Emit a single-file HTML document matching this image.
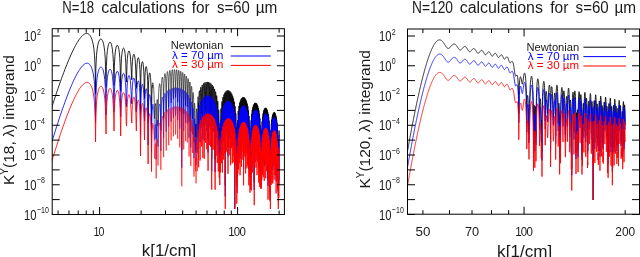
<!DOCTYPE html><html><head><meta charset="utf-8"><style>html,body{margin:0;padding:0;background:#fff;width:640px;height:257px;overflow:hidden}svg{display:block;will-change:transform}text{font-family:"Liberation Sans",sans-serif}</style></head><body><svg width="640" height="257" viewBox="0 0 640 257">
<defs><clipPath id="cl"><rect x="52.20" y="28.70" width="232.20" height="185.80"/></clipPath>
<clipPath id="cr"><rect x="407.50" y="29.00" width="232.00" height="185.20"/></clipPath></defs>
<g clip-path="url(#cl)" fill="none" stroke-width="0.85" stroke-linejoin="round">
<path stroke="#000" stroke-width="0.85" d="M51.68 107.72 L53.00 103.62 L54.29 99.65 L55.55 95.82 L56.79 92.13 L58.00 88.57 L59.19 85.13 L60.35 81.81 L61.49 78.62 L62.61 75.54 L63.72 72.58 L64.80 69.73 L65.86 67.00 L66.90 64.37 L67.93 61.85 L68.93 59.44 L69.93 57.13 L70.90 54.93 L71.86 52.83 L72.81 50.83 L73.74 48.94 L74.65 47.15 L75.55 45.46 L76.44 43.87 L77.32 42.39 L78.18 41.01 L79.03 39.74 L79.87 38.57 L80.70 37.51 L81.51 36.56 L82.32 35.73 L83.11 35.02 L83.90 34.42 L84.67 33.96 L85.43 33.63 L86.19 33.45 L86.93 33.43 L87.67 33.60 L88.40 33.95 L89.11 34.49 L89.82 35.27 L90.53 36.31 L91.22 37.67 L91.90 39.44 L92.58 41.74 L93.25 44.80 L93.91 49.10 L94.57 55.89 L95.22 71.38 L95.55 94.15 L95.86 68.12 L96.49 55.24 L97.12 49.24 L97.74 45.50 L98.36 42.95 L98.97 41.18 L99.57 39.99 L100.17 39.28 L100.76 39.00 L101.34 39.12 L101.92 39.65 L102.50 40.63 L103.06 42.12 L103.63 44.25 L104.18 47.28 L104.74 51.74 L105.28 59.15 L105.83 79.37 L106.05 87.46 L106.37 66.40 L106.90 55.65 L107.43 50.29 L107.95 46.94 L108.47 44.75 L108.98 43.34 L109.49 42.56 L110.00 42.32 L110.50 42.58 L111.00 43.38 L111.49 44.75 L111.98 46.85 L112.47 49.92 L112.95 54.57 L113.43 62.62 L114.06 85.47 L114.37 66.34 L114.84 56.85 L115.30 51.92 L115.76 48.87 L116.22 46.92 L116.67 45.77 L117.12 45.26 L117.56 45.34 L118.01 46.00 L118.45 47.29 L118.88 49.34 L119.31 52.41 L119.74 57.13 L120.17 65.44 L120.69 91.33 L121.02 67.94 L121.43 58.87 L121.85 54.11 L122.26 51.20 L122.67 49.39 L123.08 48.39 L123.48 48.06 L123.88 48.36 L124.28 49.29 L124.67 50.94 L125.07 53.50 L125.46 57.40 L125.85 63.78 L126.23 78.01 L126.56 82.10 L126.62 78.04 L127.00 64.31 L127.37 58.35 L127.75 54.86 L128.12 52.72 L128.49 51.49 L128.86 51.01 L129.23 51.18 L129.59 52.02 L129.96 53.59 L130.32 56.06 L130.67 59.86 L131.03 66.04 L131.77 79.79 L132.09 67.56 L132.43 61.43 L132.78 57.90 L133.12 55.76 L133.46 54.57 L133.80 54.14 L134.14 54.39 L134.48 55.33 L134.81 57.04 L135.14 59.74 L135.47 63.89 L135.80 70.86 L136.36 88.40 L136.45 80.74 L136.78 69.17 L137.10 63.79 L137.42 60.65 L137.74 58.79 L138.05 57.83 L138.37 57.63 L138.68 58.13 L138.99 59.35 L139.30 61.42 L139.61 64.62 L139.92 69.64 L140.22 78.79 L140.53 113.97 L140.83 78.42 L141.13 70.36 L141.43 66.11 L141.72 63.61 L142.02 62.21 L142.31 61.65 L142.61 61.83 L142.90 62.73 L143.19 64.42 L143.48 67.09 L143.77 71.20 L144.05 77.98 L144.34 93.93 L144.54 98.52 L144.62 89.96 L144.90 77.69 L145.18 72.24 L145.46 69.16 L145.74 67.41 L146.02 66.60 L146.29 66.58 L146.57 67.29 L146.84 68.78 L147.11 71.18 L147.38 74.84 L147.65 80.63 L147.92 91.91 L148.13 123.02 L148.19 105.40 L148.45 85.94 L148.72 79.36 L148.98 75.85 L149.24 73.90 L149.51 73.01 L149.77 72.96 L150.02 73.67 L150.28 75.18 L150.54 77.58 L150.79 81.20 L151.05 86.77 L151.30 96.90 L151.54 131.10 L151.56 123.85 L151.81 95.47 L152.06 88.43 L152.31 84.96"/>
<path stroke="#000" stroke-width="0.60" d="M152.06 88.43 L152.31 84.96 L152.55 83.24 L152.80 82.68 L153.05 83.06 L153.29 84.32 L153.54 86.49 L153.78 89.76 L154.02 94.57 L154.26 102.09 L154.50 117.92 L154.74 118.72 L154.98 107.23 L155.22 103.80 L155.46 103.60 L155.69 106.12 L155.93 112.71 L156.16 138.55 L156.39 115.57 L156.62 106.02 L156.85 101.57 L157.08 99.57 L157.31 99.46 L157.54 101.45 L157.77 106.89 L158.00 125.96 L158.22 110.74 L158.45 99.00 L158.67 92.76 L158.89 88.75 L159.12 86.09 L159.34 84.43 L159.56 83.65 L159.78 83.73 L160.00 84.77 L160.22 87.03 L160.43 91.23 L160.65 99.83 L160.87 130.66 L161.08 96.78 L161.30 88.26 L161.51 83.43 L161.72 80.35 L161.94 78.40 L162.15 77.33 L162.36 77.07 L162.57 77.60 L162.78 79.05 L162.99 81.73 L163.19 86.38 L163.40 95.75 L163.61 118.41 L163.81 91.54 L164.02 83.59 L164.22 79.09 L164.43 76.26 L164.63 74.54 L164.83 73.67 L165.03 73.59 L165.23 74.31 L165.43 75.94 L165.63 78.81 L165.83 83.71 L166.03 93.57 L166.23 112.31 L166.42 88.45 L166.62 80.84 L166.82 76.53 L167.01 73.85 L167.20 72.26 L167.40 71.52 L167.59 71.56 L167.78 72.40 L167.98 74.17 L168.17 77.19 L168.36 82.32 L168.55 92.78 L168.74 107.31 L168.93 86.31 L169.11 79.04 L169.30 74.92 L169.49 72.37 L169.67 70.89 L169.86 70.26 L170.05 70.41 L170.23 71.35 L170.41 73.25 L170.60 76.44 L170.78 81.85 L170.96 93.16 L171.15 102.90 L171.33 84.70 L171.51 77.84 L171.69 73.91 L171.87 71.50 L172.05 70.14 L172.23 69.61 L172.40 69.87 L172.58 70.93 L172.76 72.96 L172.94 76.35 L173.11 82.11 L173.29 94.69 L173.46 99.09 L173.64 83.47 L173.81 77.05 L173.98 73.34 L174.16 71.09 L174.33 69.85 L174.50 69.44 L174.67 69.81 L174.84 71.01 L175.01 73.20 L175.18 76.81 L175.35 83.02 L175.52 97.55 L175.69 95.94 L175.86 82.56 L176.03 76.62 L176.19 73.15 L176.36 71.06 L176.53 69.96 L176.69 69.68 L176.86 70.18 L177.02 71.52 L177.19 73.89 L177.35 77.79 L177.52 84.58 L177.68 102.34 L177.84 93.44 L178.00 81.95 L178.17 76.50 L178.33 73.29 L178.49 71.38 L178.65 70.43 L178.81 70.29 L178.97 70.93 L179.13 72.43 L179.29 75.02 L179.44 79.25 L179.60 86.82 L179.76 111.04 L179.92 91.55 L180.07 81.67 L180.23 76.70 L180.39 73.76 L180.54 72.04 L180.70 71.25 L180.85 71.26 L181.01 72.06 L181.16 73.75 L181.31 76.59 L181.47 81.23 L181.62 89.83 L181.77 150.37 L181.92 90.26 L182.07 81.73 L182.23 77.24 L182.38 74.57 L182.53 73.06 L182.68 72.44 L182.83 72.61 L182.98 73.59 L183.12 75.49 L183.27 78.63 L183.42 83.78 L183.57 93.83 L183.72 113.74 L183.86 89.56 L184.01 82.18 L184.16 78.15 L184.30 75.76 L184.45 74.46 L184.59 74.02 L184.74 74.38 L184.88 75.56 L185.03 77.71 L185.17 81.19 L185.32 86.99 L185.46 99.25 L185.60 105.75 L185.74 89.46 L185.89 83.08 L186.03 79.49 L186.17 77.38 L186.31 76.31 L186.45 76.08 L186.59 76.65 L186.73 78.06 L186.87 80.49 L187.01 84.39 L187.15 91.04 L187.29 107.14 L187.43 102.23 L187.57 90.03 L187.70 84.51 L187.84 81.36 L187.98 79.56 L188.12 78.73 L188.25 78.73 L188.39 79.53 L188.53 81.20 L188.66 83.98 L188.80 88.41 L188.93 96.24 L189.07 121.68 L189.20 100.92 L189.34 91.38 L189.47 86.66 L189.60 83.95 L189.74 82.47 L189.87 81.92 L190.00 82.19 L190.13 83.27 L190.27 85.27 L190.40 88.47 L190.53 93.62 L190.66 103.25 L190.79 131.54 L190.92 101.33 L191.05 93.77 L191.18 89.82 L191.31 87.59 L191.44 86.49 L191.57 86.28 L191.70 86.89 L191.83 88.34 L191.96 90.79 L192.09 94.61 L192.22 100.84 L192.34 113.94 L192.47 118.69 L192.60 103.66 L192.72 97.81 L192.85 94.70 L192.98 93.07 L193.10 92.51 L193.23 92.82 L193.35 93.98 L193.48 96.07 L193.61 99.32 L193.73 104.31 L193.85 112.90 L193.98 142.64 L194.10 117.60 L194.23 109.14 L194.35 105.33 L194.47 103.58 L194.60 103.19 L194.72 103.91 L194.84 105.70 L194.96 108.71 L195.09 113.36 L195.21 120.85 L195.33 136.93 L195.45 137.42 L195.57 126.55 L195.69 124.06 L195.81 125.79 L195.93 133.62 L196.05 149.70 L196.17 125.59 L196.29 117.36 L196.41 112.72 L196.53 110.01 L196.65 108.74 L196.77 108.80 L196.89 110.40 L197.00 114.31 L197.12 123.67 L197.24 137.71 L197.36 115.65 L197.47 107.65 L197.59 102.89 L197.71 99.79 L197.82 97.84 L197.94 96.82 L198.06 96.67 L198.17 97.45 L198.29 99.37 L198.40 102.99 L198.52 110.00"/>
<path stroke="#000" stroke-width="0.85" d="M198.40 102.99 L198.52 110.00 L198.63 134.07 L198.75 113.48 L198.86 103.16 L198.98 97.74 L199.09 94.36 L199.20 92.24 L199.32 91.07 L199.43 90.73 L199.54 91.23 L199.66 92.68 L199.77 95.39 L199.88 100.18 L200.00 110.02 L200.11 127.51 L200.22 104.32 L200.33 96.68 L200.44 92.33 L200.55 89.61 L200.66 88.00 L200.78 87.26 L200.89 87.33 L201.00 88.25 L201.11 90.18 L201.22 93.55 L201.33 99.52 L201.44 113.71 L201.55 112.24 L201.66 98.56 L201.76 92.42 L201.87 88.78 L201.98 86.54 L202.09 85.29 L202.20 84.89 L202.31 85.29 L202.41 86.57 L202.52 88.96 L202.63 93.01 L202.74 100.44 L202.84 125.30 L202.95 104.45 L203.06 94.51 L203.16 89.41 L203.27 86.32 L203.38 84.46 L203.48 83.54 L203.59 83.44 L203.69 84.14 L203.80 85.78 L203.91 88.63 L204.01 93.46 L204.12 102.96 L204.22 126.60 L204.32 99.33 L204.43 91.55 L204.53 87.24 L204.64 84.62 L204.74 83.11 L204.84 82.48 L204.95 82.65 L205.05 83.66 L205.15 85.66 L205.26 89.03 L205.36 94.83 L205.46 107.73 L205.56 110.85 L205.67 95.72 L205.77 89.39 L205.87 85.72 L205.97 83.51 L206.07 82.32 L206.18 81.97 L206.28 82.42 L206.38 83.73 L206.48 86.12 L206.58 90.10 L206.68 97.17 L206.78 117.45 L206.88 103.83 L206.98 93.13 L207.08 87.87 L207.18 84.75 L207.28 82.91 L207.38 82.01 L207.48 81.93 L207.58 82.66 L207.68 84.31 L207.77 87.13 L207.87 91.82 L207.97 100.73 L208.07 139.17 L208.17 99.55 L208.26 91.33 L208.36 86.91 L208.46 84.26 L208.56 82.76 L208.65 82.15 L208.75 82.34 L208.85 83.36 L208.95 85.35 L209.04 88.67 L209.14 94.28 L209.23 106.14 L209.33 113.74 L209.43 96.77 L209.52 90.19 L209.62 86.45 L209.71 84.23 L209.81 83.04 L209.90 82.71 L210.00 83.18 L210.09 84.51 L210.19 86.89 L210.28 90.79 L210.38 97.62 L210.47 115.47 L210.57 106.45 L210.66 95.03 L210.75 89.63 L210.85 86.48 L210.94 84.64 L211.04 83.76 L211.13 83.71 L211.22 84.47 L211.31 86.13 L211.41 88.94 L211.50 93.57 L211.59 102.13 L211.69 158.65 L211.78 102.66 L211.87 94.12 L211.96 89.64 L212.05 86.99 L212.15 85.51 L212.24 84.94 L212.33 85.18 L212.42 86.24 L212.51 88.26 L212.60 91.59 L212.69 97.13 L212.78 108.52 L212.87 118.93 L212.96 100.67 L213.05 93.97 L213.14 90.23 L213.23 88.04 L213.32 86.91 L213.41 86.64 L213.50 87.17 L213.59 88.56 L213.68 91.00 L213.77 94.94 L213.86 101.73 L213.95 118.86 L214.04 111.62 L214.13 99.94 L214.22 94.56 L214.31 91.46 L214.39 89.70 L214.48 88.91 L214.57 88.96 L214.66 89.81 L214.75 91.57 L214.83 94.49 L214.92 99.22 L215.01 107.86 L215.10 159.36 L215.18 108.80 L215.27 100.35 L215.36 95.98 L215.44 93.47 L215.53 92.13 L215.62 91.69 L215.70 92.08 L215.79 93.31 L215.88 95.50 L215.96 99.02 L216.05 104.81 L216.13 116.70 L216.22 125.58 L216.30 108.37 L216.39 101.98 L216.48 98.49 L216.56 96.53 L216.65 95.63 L216.73 95.61 L216.82 96.40 L216.90 98.08 L216.98 100.83 L217.07 105.18 L217.15 112.63 L217.24 132.97 L217.32 120.40 L217.41 110.07 L217.49 105.27 L217.57 102.63 L217.66 101.31 L217.74 100.96 L217.82 101.48 L217.91 102.85 L217.99 105.20 L218.07 108.85 L218.16 114.64 L218.24 125.73 L218.32 141.86 L218.41 121.21 L218.49 114.81 L218.57 111.65 L218.65 110.18 L218.73 109.89 L218.82 110.60 L218.90 112.29 L218.98 115.09 L219.06 119.37 L219.14 126.10 L219.23 139.27 L219.31 148.45 L219.39 133.34 L219.47 129.08 L219.55 128.37 L219.63 130.39 L219.71 136.20 L219.79 155.58 L219.87 141.78 L219.95 131.02 L220.03 126.10 L220.11 123.77 L220.19 123.34 L220.27 124.90 L220.35 129.47 L220.43 143.02 L220.51 138.86 L220.59 124.76 L220.67 117.95 L220.75 113.69 L220.83 110.91 L220.91 109.22 L220.99 108.47 L221.07 108.64 L221.15 109.87 L221.23 112.52 L221.31 117.58 L221.38 129.36 L221.46 134.01 L221.54 117.54 L221.62 110.59 L221.70 106.43 L221.78 103.78 L221.85 102.18 L221.93 101.47 L222.01 101.59 L222.09 102.63 L222.16 104.80 L222.24 108.68 L222.32 116.08 L222.40 143.58 L222.47 118.72 L222.55 108.89 L222.63 103.71 L222.71 100.51 L222.78 98.54 L222.86 97.51 L222.94 97.30 L223.01 97.93 L223.09 99.53 L223.16 102.42 L223.24 107.46 L223.32 118.02 L223.39 130.80 L223.47 110.67 L223.54 103.43 L223.62 99.28 L223.70 96.71 L223.77 95.21 L223.85 94.59 L223.92 94.78 L224.00 95.84 L224.07 97.94 L224.15 101.55 L224.22 108.01 L224.30 124.73 L224.37 117.33 L224.45 105.31 L224.52 99.59 L224.60 96.18 L224.67 94.10 L224.74 93.00 L224.82 92.74 L224.89 93.29 L224.97 94.74 L225.04 97.37 L225.12 101.81 L225.19 110.24 L225.26 185.38 L225.34 110.12 L225.41 101.46 L225.48 96.81 L225.56 93.98 L225.63 92.33 L225.70 91.58 L225.78 91.64 L225.85 92.54 L225.92 94.41 L225.99 97.60 L226.07 103.08 L226.14 114.77 L226.21 122.58 L226.28 105.35 L226.36 98.64 L226.43 94.80 L226.50 92.47 L226.57 91.19 L226.65 90.76 L226.72 91.15 L226.79 92.40 L226.86 94.71 L226.93 98.58 L227.00 105.45 L227.08 124.28 L227.15 113.13 L227.22 102.01 L227.29 96.62 L227.36 93.42 L227.43 91.52 L227.50 90.59 L227.57 90.48 L227.64 91.18 L227.72 92.80 L227.79 95.61 L227.86 100.30 L227.93 109.24 L228.00 145.83 L228.07 107.84 L228.14 99.65 L228.21 95.23 L228.28 92.58 L228.35 91.08 L228.42 90.47 L228.49 90.67 L228.56 91.70 L228.63 93.72 L228.70 97.10 L228.77 102.85 L228.84 115.35 L228.90 120.22 L228.97 104.47 L229.04 98.08 L229.11 94.42 L229.18 92.24 L229.25 91.10 L229.32 90.80 L229.39 91.32 L229.46 92.70 L229.53 95.17 L229.59 99.23 L229.66 106.45 L229.73 127.54 L229.80 112.75 L229.87 102.30 L229.94 97.16 L230.00 94.14 L230.07 92.38 L230.14 91.58 L230.21 91.60 L230.27 92.43 L230.34 94.19 L230.41 97.17 L230.48 102.09 L230.55 111.57 L230.61 137.86 L230.68 108.80 L230.75 101.06 L230.81 96.86 L230.88 94.37 L230.95 93.01 L231.02 92.53 L231.08 92.87 L231.15 94.04 L231.22 96.22 L231.28 99.80 L231.35 105.87 L231.42 119.46 L231.48 120.92 L231.55 106.64 L231.61 100.60 L231.68 97.16 L231.75 95.15 L231.81 94.15 L231.88 94.00 L231.94 94.67 L232.01 96.21 L232.08 98.87 L232.14 103.19 L232.21 110.90 L232.27 136.26 L232.34 115.36 L232.40 105.72 L232.47 100.90 L232.53 98.09 L232.60 96.52 L232.66 95.89 L232.73 96.08 L232.79 97.09 L232.86 99.05 L232.92 102.27 L232.99 107.56 L233.05 117.95 L233.12 135.39 L233.18 113.02 L233.25 105.89 L233.31 102.01 L233.38 99.77 L233.44 98.63 L233.50 98.36 L233.57 98.91 L233.63 100.32 L233.70 102.76 L233.76 106.68 L233.82 113.34 L233.89 129.32 L233.95 124.88 L234.02 112.64 L234.08 107.19 L234.14 104.11 L234.21 102.41 L234.27 101.70 L234.33 101.84 L234.40 102.80 L234.46 104.68 L234.52 107.73 L234.59 112.61 L234.65 121.50 L234.71 207.76 L234.77 122.26 L234.84 114.09 L234.90 109.94 L234.96 107.62 L235.03 106.49 L235.09 106.28 L235.15 106.92 L235.21 108.42 L235.28 110.95 L235.34 114.89 L235.40 121.36 L235.46 135.34 L235.52 137.36 L235.59 123.52 L235.65 117.99 L235.71 115.10 L235.77 113.69 L235.83 113.36 L235.89 113.94 L235.96 115.43 L236.02 117.95 L236.08 121.80 L236.14 127.82 L236.20 139.13 L236.26 156.46 L236.32 135.78 L236.39 129.91 L236.45 127.47 L236.51 126.95 L236.57 127.96 L236.63 130.52 L236.69 135.18 L236.75 143.82 L236.81 177.55 L236.99 139.29 L237.06 141.00 L237.12 148.41 L237.18 166.83 L237.24 140.58 L237.30 131.78 L237.36 126.57 L237.42 123.21 L237.48 121.15 L237.54 120.16 L237.60 120.22 L237.66 121.48 L237.72 124.39 L237.78 130.35 L237.84 147.84 L237.90 137.07 L237.96 125.10 L238.02 119.07 L238.07 115.30 L238.13 112.88 L238.19 111.47 L238.25 110.93 L238.49 120.00 L238.55 130.23 L238.61 143.65 L238.67 122.85 L238.73 115.38 L238.78 111.05 L238.84 108.32 L238.90 106.68 L238.96 105.93 L239.02 106.01 L239.08 106.97 L239.14 109.00 L239.19 112.59 L239.25 119.17 L239.31 137.45 L239.48 109.57 L239.54 106.15 L239.60 104.05 L239.66 102.92 L239.72 102.62 L239.77 103.15 L239.83 104.61 L239.89 107.28 L239.95 111.88 L240.01 120.94 L240.06 149.76 L240.24 105.57 L240.29 102.81 L240.35 101.19 L240.41 100.46 L240.46 100.55 L240.52 101.48 L240.75 126.08 L240.81 127.00 L240.86 112.60 L240.92 106.35 L240.98 102.69 L241.03 100.46 L241.09 99.25 L241.15 98.88 L241.20 99.33 L241.26 100.66 L241.48 141.42 L241.54 118.33 L241.60 108.63 L241.65 103.63 L241.71 100.63 L241.76 98.85 L241.88 97.97 L241.99 100.52 L242.04 103.54 L242.10 108.65 L242.15 119.01 L242.21 134.55 L242.27 113.01 L242.49 97.83 L242.54 97.33 L242.60 97.63 L242.65 98.79 L242.71 100.99 L242.76 104.66 L242.87 127.03 L242.98 109.40 L243.04 103.69 L243.09 100.34 L243.15 98.34 L243.20 97.33 L243.25 97.16 L243.47 106.52 L243.53 114.88 L243.58 160.49 L243.74 102.31 L243.80 99.56 L243.85 97.98 L243.91 97.31 L243.96 97.46 L244.01 98.45 L244.23 120.86 L244.28 129.41 L244.50 99.28 L244.55 98.09 L244.60 97.76 L244.66 98.24 L244.71 99.58 L244.76 101.99 L244.92 132.15 L244.98 120.61 L245.03 109.67 L245.24 98.68 L245.29 98.68 L245.34 99.50 L245.40 101.23 L245.45 104.17 L245.50 109.03 L245.61 149.00 L245.71 108.40 L245.76 104.15 L245.92 99.78 L245.97 100.11 L246.03 101.29 L246.23 126.47 L246.29 128.59 L246.49 102.57 L246.54 101.58 L246.60 101.45 L246.65 102.13 L246.70 103.69 L246.75 106.37 L246.90 144.30 L246.96 122.82 L247.01 113.26 L247.21 103.57 L247.26 103.80 L247.47 115.54 L247.52 126.21 L247.57 141.65 L247.72 109.88 L247.77 107.71 L247.87 106.43 L247.97 108.54 L248.02 111.08 L248.17 139.40 L248.22 132.12 L248.27 120.63 L248.47 110.30 L248.52 110.56 L248.72 122.13 L248.77 131.79 L248.82 161.50 L248.97 119.04 L249.02 116.98 L249.07 116.08 L249.22 118.81 L249.27 121.71 L249.42 152.37 L249.47 143.71 L249.52 133.17 L249.66 125.78 L249.71 126.18 L249.76 127.63 L249.96 152.57 L250.00 169.23 L250.15 145.85 L250.25 162.50 L250.30 159.51 L250.49 133.54 L250.54 133.19 L250.73 166.47 L250.78 140.23 L250.97 121.55 L251.02 120.47 L251.07 120.29 L251.21 126.79 L251.26 134.27 L251.31 167.25 L251.50 117.21 L251.54 115.17 L251.64 113.82 L251.73 116.05 L251.78 119.04 L251.92 141.04 L251.97 124.99 L252.02 118.29 L252.21 109.86 L252.25 110.12 L252.49 149.54 L252.53 128.63 L252.72 108.34 L252.77 107.37 L252.81 107.22 L253.00 117.48 L253.04 127.78 L253.09 142.85 L253.23 109.95 L253.28 107.40 L253.37 105.35 L253.46 106.67 L253.51 108.80 L253.64 135.33 L253.74 116.54 L253.78 110.82 L253.96 104.10 L254.01 104.69 L254.24 182.57 L254.28 121.55 L254.46 104.04 L254.51 103.34 L254.73 115.25 L254.78 127.46 L254.82 133.18 L254.96 106.71 L255.00 104.46 L255.09 102.88 L255.23 107.08 L255.27 111.10 L255.36 139.75 L255.49 108.66 L255.54 105.59 L255.67 102.92 L255.72 103.72 L255.76 105.45 L255.94 145.54 L255.98 119.32 L256.03 111.70 L256.20 103.13 L256.25 103.44 L256.29 104.59 L256.47 131.06 L256.51 129.67 L256.73 103.94 L256.77 103.78 L256.99 121.10 L257.03 153.08 L257.25 105.40 L257.29 104.76 L257.46 111.17 L257.51 116.62 L257.59 139.29 L257.72 109.79 L257.76 107.56 L257.85 106.11 L257.98 110.46 L258.02 114.45 L258.11 139.58 L258.23 113.58 L258.28 110.53 L258.36 108.02 L258.49 110.79 L258.53 113.80 L258.66 160.89 L258.74 118.64 L258.78 114.47 L258.91 110.41 L258.99 112.16 L259.03 114.47 L259.20 139.55 L259.24 125.53 L259.29 119.68 L259.41 113.79 L259.49 114.73 L259.54 116.52 L259.70 165.34 L259.74 135.43 L259.78 126.64 L259.95 118.40 L259.99 118.99 L260.03 120.44 L260.24 151.06 L260.28 136.16 L260.44 125.73 L260.48 126.34 L260.52 127.87 L260.73 167.31 L260.77 148.20 L260.89 140.33 L260.97 145.28 L261.01 151.78 L261.05 167.67 L261.22 148.93 L261.26 151.80 L261.34 166.73 L261.50 133.06 L261.54 131.18 L261.58 130.33 L261.74 140.89 L261.78 158.72 L261.98 123.52 L262.02 122.13 L262.06 121.62 L262.22 130.80 L262.26 141.12 L262.30 154.01 L262.49 117.49 L262.53 116.76 L262.73 130.21 L262.77 149.20 L262.97 114.87 L263.01 113.76 L263.05 113.49 L263.24 132.30 L263.28 156.43 L263.48 111.99 L263.51 111.30 L263.75 138.25 L263.79 136.50 L263.98 110.03 L264.02 109.71 L264.25 160.38 L264.29 128.15 L264.48 108.76 L264.52 108.79 L264.75 141.33 L264.78 122.94 L264.97 108.06 L265.01 108.44 L265.20 141.32 L265.24 130.56 L265.28 119.38 L265.47 107.88 L265.50 108.60 L265.69 158.13 L265.73 124.94 L265.77 116.92 L265.92 107.93 L265.99 109.26 L266.03 111.35 L266.18 135.96 L266.21 121.45 L266.25 115.30 L266.40 108.37 L266.47 110.42 L266.51 113.00 L266.62 151.25 L266.73 114.41 L266.77 111.53 L266.84 109.18 L266.99 115.28 L267.03 120.55 L267.10 146.21 L267.25 111.86 L267.28 110.63 L267.32 110.28 L267.47 118.28 L267.50 124.96 L267.54 141.70 L267.72 112.79 L267.76 111.96 L267.97 131.06 L268.01 179.97 L268.23 113.97 L268.26 114.35 L268.48 144.38 L268.51 129.26 L268.69 116.88 L268.73 117.67 L268.76 119.35 L268.90 160.89 L268.98 129.65 L269.01 125.04 L269.12 120.69 L269.22 124.67 L269.26 128.26 L269.36 156.36 L269.47 128.89 L269.51 127.13 L269.54 126.46 L269.72 138.12 L269.75 146.88 L269.79 181.26 L269.96 136.48 L270.00 137.22 L270.03 139.04 L270.17 173.09 L270.24 158.48 L270.28 156.20 L270.38 192.26 L270.48 146.29 L270.52 143.57 L270.55 142.35 L270.73 162.81 L270.76 146.79 L270.93 129.88 L270.97 129.95 L271.00 131.03 L271.14 166.04 L271.24 129.11 L271.27 126.21 L271.38 123.56 L271.48 129.84 L271.51 136.28 L271.55 153.94 L271.72 121.05 L271.75 119.87 L271.78 119.53 L271.99 164.52 L272.02 134.61 L272.19 116.91 L272.22 117.00 L272.26 117.93 L272.39 143.38 L272.49 122.34 L272.53 118.73 L272.63 114.98 L272.73 119.31 L272.76 123.56 L272.83 164.78 L272.99 114.59 L273.03 113.78 L273.22 136.13 L273.26 146.19 L273.46 112.86 L273.49 113.22 L273.52 114.45 L273.65 146.24 L273.72 124.01 L273.75 118.61 L273.88 112.47 L273.98 117.67 L274.01 122.44 L274.08 161.29 L274.24 112.92 L274.27 112.35 L274.47 138.80 L274.50 139.94 L274.69 112.59 L274.73 113.18 L274.76 114.64 L274.89 156.74 L274.98 118.44 L275.02 115.57 L275.08 113.21 L275.24 124.63 L275.27 135.36 L275.30 149.24 L275.50 114.10 L275.53 114.56 L275.69 146.07 L275.72 138.45 L275.75 126.78 L275.91 115.54 L275.97 118.09 L276.00 121.01 L276.10 175.60 L276.22 119.08 L276.26 117.71 L276.29 117.26 L276.48 143.83 L276.51 146.99 L276.69 119.75 L276.73 120.51 L276.76 122.16 L276.88 164.26 L276.97 127.48 L277.01 124.83 L277.07 122.96 L277.22 135.94 L277.25 147.42 L277.28 158.77 L277.44 127.69 L277.47 127.77 L277.50 128.69 L277.65 170.38 L277.75 138.30 L277.78 136.04 L277.81 135.09 L277.99 153.61 L278.02 172.59 L278.14 149.65 L278.23 157.49 L278.27 167.30 L278.30 191.98 L278.39 157.34 L278.48 185.48 L278.51 164.69 L278.69 139.02 L278.75 141.62 L278.78 145.61 L278.84 180.43 L278.99 131.66 L279.02 130.65 L279.05 130.49 L279.14 136.47"/>
<path stroke="#00f" stroke-width="0.85" d="M51.68 142.59 L53.00 138.26 L54.29 134.08 L55.55 130.04 L56.79 126.15 L58.00 122.39 L59.19 118.76 L60.35 115.26 L61.49 111.89 L62.61 108.64 L63.72 105.51 L64.80 102.50 L65.86 99.60 L66.90 96.82 L67.93 94.15 L68.93 91.59 L69.93 89.14 L70.90 86.79 L71.86 84.56 L72.81 82.43 L73.74 80.40 L74.65 78.49 L75.55 76.67 L76.44 74.97 L77.32 73.37 L78.18 71.87 L79.03 70.49 L79.87 69.21 L80.70 68.04 L81.51 66.99 L82.32 66.06 L83.11 65.24 L83.90 64.55 L84.67 63.99 L85.43 63.57 L86.19 63.29 L86.93 63.18 L87.67 63.26 L88.40 63.52 L89.11 63.98 L89.82 64.67 L90.53 65.63 L91.22 66.90 L91.90 68.58 L92.58 70.80 L93.25 73.78 L93.91 78.00 L94.57 84.71 L95.22 100.12 L95.55 122.85 L95.86 96.79 L96.49 83.82 L97.12 77.75 L97.74 73.93 L98.36 71.30 L98.97 69.46 L99.57 68.19 L100.17 67.41 L100.76 67.05 L101.34 67.10 L101.92 67.56 L102.50 68.47 L103.06 69.89 L103.63 71.96 L104.18 74.91 L104.74 79.30 L105.28 86.64 L105.83 106.80 L106.05 114.86 L106.37 93.76 L106.90 82.95 L107.43 77.51 L107.95 74.11 L108.47 71.85 L108.98 70.38 L109.49 69.53 L110.00 69.22 L110.50 69.43 L111.00 70.15 L111.49 71.47 L111.98 73.50 L112.47 76.52 L112.95 81.11 L113.43 89.09 L114.06 111.87 L114.37 92.70 L114.84 83.15 L115.30 78.16 L115.76 75.04 L116.22 73.04 L116.67 71.83 L117.12 71.27 L117.56 71.29 L118.01 71.90 L118.45 73.13 L118.88 75.12 L119.31 78.14 L119.74 82.80 L120.17 91.06 L120.69 116.88 L121.02 93.45 L121.43 84.32 L121.85 79.52 L122.26 76.55 L122.67 74.69 L123.08 73.64 L123.48 73.26 L123.88 73.50 L124.28 74.38 L124.67 75.98 L125.07 78.49 L125.46 82.34 L125.85 88.67 L126.23 102.85 L126.56 106.89 L126.62 102.83 L127.00 89.05 L127.37 83.04 L127.75 79.50 L128.12 77.31 L128.49 76.04 L128.86 75.51 L129.23 75.63 L129.59 76.42 L129.96 77.94 L130.32 80.37 L130.67 84.12 L131.03 90.26 L131.77 103.91 L132.09 91.64 L132.43 85.47 L132.78 81.89 L133.12 79.70 L133.46 78.47 L133.80 77.99 L134.14 78.20 L134.48 79.10 L134.81 80.77 L135.14 83.41 L135.47 87.52 L135.80 94.45 L136.36 111.92 L136.45 104.25 L136.78 92.64 L137.10 87.21 L137.42 84.03 L137.74 82.12 L138.05 81.13 L138.37 80.89 L138.68 81.34 L138.99 82.52 L139.30 84.55 L139.61 87.71 L139.92 92.69 L140.22 101.80 L140.53 136.94 L140.83 101.35 L141.13 93.25 L141.43 88.96 L141.72 86.42 L142.02 84.98 L142.31 84.38 L142.61 84.52 L142.90 85.38 L143.19 87.03 L143.48 89.67 L143.77 93.73 L144.05 100.48 L144.34 116.39 L144.54 120.95 L144.62 112.39 L144.90 100.07 L145.18 94.59 L145.46 91.47 L145.74 89.68 L146.02 88.84 L146.29 88.78 L146.57 89.46 L146.84 90.91 L147.11 93.27 L147.38 96.89 L147.65 102.64 L147.92 113.88 L148.13 144.97 L148.19 127.34 L148.45 107.85 L148.72 101.23 L148.98 97.68 L149.24 95.70 L149.51 94.77 L149.77 94.69 L150.02 95.37 L150.28 96.84 L150.54 99.21 L150.79 102.79 L151.05 108.33 L151.30 118.42 L151.54 152.59 L151.56 145.33 L151.81 116.93 L152.06 109.85 L152.31 106.35"/>
<path stroke="#00f" stroke-width="0.60" d="M152.06 109.85 L152.31 106.35 L152.55 104.59 L152.80 104.00 L153.05 104.35 L153.29 105.57 L153.54 107.71 L153.78 110.95 L154.02 115.72 L154.26 123.20 L154.50 139.00 L154.74 139.77 L154.98 128.25 L155.22 124.79 L155.46 124.56 L155.69 127.04 L155.93 133.60 L156.16 159.41 L156.39 136.40 L156.62 126.82 L156.85 122.33 L157.08 120.30 L157.31 120.16 L157.54 122.12 L157.77 127.53 L158.00 146.57 L158.22 131.32 L158.45 119.54 L158.67 113.28 L158.89 109.23 L159.12 106.54 L159.34 104.86 L159.56 104.05 L159.78 104.10 L160.00 105.10 L160.22 107.33 L160.43 111.50 L160.65 120.07 L160.87 150.87 L161.08 116.96 L161.30 108.42 L161.51 103.56 L161.72 100.44 L161.94 98.46 L162.15 97.37 L162.36 97.07 L162.57 97.57 L162.78 99.00 L162.99 101.64 L163.19 106.27 L163.40 115.61 L163.61 138.24 L163.81 111.34 L164.02 103.36 L164.22 98.83 L164.43 95.98 L164.63 94.22 L164.83 93.34 L165.03 93.23 L165.23 93.91 L165.43 95.52 L165.63 98.36 L165.83 103.23 L166.03 113.06 L166.23 131.78 L166.42 107.89 L166.62 100.25 L166.82 95.91 L167.01 93.21 L167.20 91.59 L167.40 90.83 L167.59 90.84 L167.78 91.65 L167.98 93.39 L168.17 96.39 L168.36 101.49 L168.55 111.92 L168.74 126.43 L168.93 105.40 L169.11 98.11 L169.30 93.95 L169.49 91.38 L169.67 89.88 L169.86 89.22 L170.05 89.34 L170.23 90.26 L170.41 92.13 L170.60 95.29 L170.78 100.67 L170.96 111.96 L171.15 121.67 L171.33 103.45 L171.51 96.56 L171.69 92.61 L171.87 90.18 L172.05 88.79 L172.23 88.24 L172.40 88.46 L172.58 89.50 L172.76 91.51 L172.94 94.87 L173.11 100.61 L173.29 113.16 L173.46 117.54 L173.64 101.89 L173.81 95.45 L173.98 91.72 L174.16 89.44 L174.33 88.18 L174.50 87.74 L174.67 88.09 L174.84 89.26 L175.01 91.43 L175.18 95.02 L175.35 101.21 L175.52 115.71 L175.69 114.08 L175.86 100.67 L176.03 94.70 L176.19 91.21 L176.36 89.10 L176.53 87.97 L176.69 87.67 L176.86 88.14 L177.02 89.46 L177.19 91.81 L177.35 95.68 L177.52 102.46 L177.68 120.19 L177.84 111.27 L178.00 99.76 L178.17 94.28 L178.33 91.05 L178.49 89.12 L178.65 88.14 L178.81 87.97 L178.97 88.59 L179.13 90.07 L179.29 92.64 L179.44 96.85 L179.60 104.39 L179.76 128.59 L179.92 109.08 L180.07 99.18 L180.23 94.19 L180.39 91.22 L180.54 89.48 L180.70 88.67 L180.85 88.66 L181.01 89.43 L181.16 91.10 L181.31 93.92 L181.47 98.54 L181.62 107.12 L181.77 167.63 L181.92 107.50 L182.07 98.96 L182.23 94.44 L182.38 91.75 L182.53 90.21 L182.68 89.57 L182.83 89.73 L182.98 90.68 L183.12 92.56 L183.27 95.68 L183.42 100.81 L183.57 110.84 L183.72 130.72 L183.86 106.52 L184.01 99.12 L184.16 95.07 L184.30 92.66 L184.45 91.34 L184.59 90.88 L184.74 91.22 L184.88 92.38 L185.03 94.51 L185.17 97.97 L185.32 103.75 L185.46 115.99 L185.60 122.47 L185.74 106.15 L185.89 99.75 L186.03 96.14 L186.17 94.02 L186.31 92.92 L186.45 92.68 L186.59 93.22 L186.73 94.61 L186.87 97.02 L187.01 100.90 L187.15 107.53 L187.29 123.61 L187.43 118.68 L187.57 106.46 L187.70 100.92 L187.84 97.75 L187.98 95.93 L188.12 95.08 L188.25 95.07 L188.39 95.84 L188.53 97.50 L188.66 100.25 L188.80 104.67 L188.93 112.47 L189.07 137.89 L189.20 117.11 L189.34 107.55 L189.47 102.81 L189.60 100.08 L189.74 98.59 L189.87 98.02 L190.00 98.27 L190.13 99.33 L190.27 101.31 L190.40 104.50 L190.53 109.62 L190.66 119.23 L190.79 147.50 L190.92 117.28 L191.05 109.70 L191.18 105.72 L191.31 103.47 L191.44 102.36 L191.57 102.13 L191.70 102.72 L191.83 104.16 L191.96 106.59 L192.09 110.39 L192.22 116.60 L192.34 129.68 L192.47 134.41 L192.60 119.36 L192.72 113.50 L192.85 110.36 L192.98 108.72 L193.10 108.14 L193.23 108.43 L193.35 109.58 L193.48 111.65 L193.61 114.87 L193.73 119.85 L193.85 128.42 L193.98 158.14 L194.10 133.08 L194.23 124.60 L194.35 120.78 L194.47 119.02 L194.60 118.61 L194.72 119.30 L194.84 121.08 L194.96 124.07 L195.09 128.70 L195.21 136.18 L195.33 152.23 L195.45 152.71 L195.57 141.82 L195.69 139.32 L195.81 141.02 L195.93 148.84 L196.05 164.90 L196.17 140.77 L196.29 132.53 L196.41 127.87 L196.53 125.14 L196.65 123.85 L196.77 123.90 L196.89 125.48 L197.00 129.38 L197.12 138.72 L197.24 152.74 L197.36 130.66 L197.47 122.65 L197.59 117.87 L197.71 114.75 L197.82 112.78 L197.94 111.75 L198.06 111.58 L198.17 112.34 L198.29 114.25 L198.40 117.85 L198.52 124.84"/>
<path stroke="#00f" stroke-width="0.85" d="M198.40 117.85 L198.52 124.84 L198.63 148.90 L198.75 128.28 L198.86 117.95 L198.98 112.52 L199.09 109.12 L199.20 106.98 L199.32 105.79 L199.43 105.44 L199.54 105.92 L199.66 107.36 L199.77 110.05 L199.88 114.82 L200.00 124.65 L200.11 142.12 L200.22 118.91 L200.33 111.26 L200.44 106.89 L200.55 104.16 L200.66 102.53 L200.78 101.77 L200.89 101.83 L201.00 102.73 L201.11 104.65 L201.22 108.00 L201.33 113.95 L201.44 128.13 L201.55 126.64 L201.66 112.95 L201.76 106.79 L201.87 103.13 L201.98 100.87 L202.09 99.61 L202.20 99.20 L202.31 99.58 L202.41 100.85 L202.52 103.22 L202.63 107.25 L202.74 114.67 L202.84 139.51 L202.95 118.65 L203.06 108.69 L203.16 103.57 L203.27 100.47 L203.38 98.60 L203.48 97.66 L203.59 97.54 L203.69 98.23 L203.80 99.85 L203.91 102.69 L204.01 107.51 L204.12 116.99 L204.22 140.61 L204.32 113.33 L204.43 105.53 L204.53 101.21 L204.64 98.57 L204.74 97.04 L204.84 96.40 L204.95 96.56 L205.05 97.55 L205.15 99.54 L205.26 102.89 L205.36 108.68 L205.46 121.56 L205.56 124.66 L205.67 109.52 L205.77 103.18 L205.87 99.50 L205.97 97.27 L206.07 96.06 L206.18 95.69 L206.28 96.13 L206.38 97.43 L206.48 99.81 L206.58 103.76 L206.68 110.83 L206.78 131.09 L206.88 117.45 L206.98 106.74 L207.08 101.47 L207.18 98.33 L207.28 96.47 L207.38 95.56 L207.48 95.47 L207.58 96.19 L207.68 97.81 L207.77 100.62 L207.87 105.30 L207.97 114.20 L208.07 152.62 L208.17 112.99 L208.26 104.76 L208.36 100.32 L208.46 97.66 L208.56 96.14 L208.65 95.51 L208.75 95.69 L208.85 96.70 L208.95 98.68 L209.04 101.98 L209.14 107.58 L209.23 119.43 L209.33 127.01 L209.43 110.03 L209.52 103.43 L209.62 99.68 L209.71 97.44 L209.81 96.24 L209.90 95.89 L210.00 96.35 L210.09 97.67 L210.19 100.03 L210.28 103.92 L210.38 110.73 L210.47 128.58 L210.57 119.54 L210.66 108.11 L210.75 102.69 L210.85 99.53 L210.94 97.67 L211.04 96.78 L211.13 96.72 L211.22 97.46 L211.31 99.11 L211.41 101.91 L211.50 106.52 L211.59 115.08 L211.69 171.58 L211.78 115.57 L211.87 107.02 L211.96 102.53 L212.05 99.87 L212.15 98.37 L212.24 97.79 L212.33 98.01 L212.42 99.06 L212.51 101.07 L212.60 104.38 L212.69 109.91 L212.78 121.29 L212.87 131.69 L212.96 113.41 L213.05 106.69 L213.14 102.95 L213.23 100.74 L213.32 99.60 L213.41 99.31 L213.50 99.84 L213.59 101.22 L213.68 103.64 L213.77 107.57 L213.86 114.35 L213.95 131.46 L214.04 124.20 L214.13 112.52 L214.22 107.12 L214.31 104.01 L214.39 102.23 L214.48 101.43 L214.57 101.47 L214.66 102.31 L214.75 104.06 L214.83 106.97 L214.92 111.68 L215.01 120.31 L215.10 171.80 L215.18 121.22 L215.27 112.76 L215.36 108.38 L215.44 105.85 L215.53 104.50 L215.62 104.05 L215.70 104.43 L215.79 105.64 L215.88 107.82 L215.96 111.33 L216.05 117.11 L216.13 128.99 L216.22 137.85 L216.30 120.63 L216.39 114.22 L216.48 110.72 L216.56 108.75 L216.65 107.85 L216.73 107.81 L216.82 108.59 L216.90 110.25 L216.98 113.00 L217.07 117.33 L217.15 124.76 L217.24 145.09 L217.32 132.52 L217.41 122.17 L217.49 117.36 L217.57 114.71 L217.66 113.37 L217.74 113.02 L217.82 113.52 L217.91 114.88 L217.99 117.22 L218.07 120.86 L218.16 126.64 L218.24 137.71 L218.32 153.83 L218.41 133.17 L218.49 126.75 L218.57 123.58 L218.65 122.10 L218.73 121.80 L218.82 122.50 L218.90 124.18 L218.98 126.97 L219.06 131.24 L219.14 137.95 L219.23 151.11 L219.31 160.28 L219.39 145.16 L219.47 140.89 L219.55 140.16 L219.63 142.17 L219.71 147.97 L219.79 167.34 L219.87 153.53 L219.95 142.76 L220.03 137.83 L220.11 135.48 L220.19 135.04 L220.27 136.59 L220.35 141.15 L220.43 154.69 L220.51 150.51 L220.59 136.41 L220.67 129.59 L220.75 125.32 L220.83 122.52 L220.91 120.82 L220.99 120.06 L221.07 120.22 L221.15 121.44 L221.23 124.08 L221.31 129.12 L221.38 140.89 L221.46 145.53 L221.54 129.05 L221.62 122.09 L221.70 117.92 L221.78 115.26 L221.85 113.65 L221.93 112.92 L222.01 113.04 L222.09 114.06 L222.16 116.22 L222.24 120.09 L222.32 127.48 L222.40 154.97 L222.47 130.09 L222.55 120.26 L222.63 115.07 L222.71 111.86 L222.78 109.87 L222.86 108.83 L222.94 108.62 L223.01 109.24 L223.09 110.82 L223.16 113.70 L223.24 118.73 L223.32 129.28 L223.39 142.05 L223.47 121.91 L223.54 114.66 L223.62 110.49 L223.70 107.91 L223.77 106.41 L223.85 105.78 L223.92 105.96 L224.00 107.00 L224.07 109.09 L224.15 112.69 L224.22 119.14 L224.30 135.85 L224.37 128.44 L224.45 116.41 L224.52 110.68 L224.60 107.26 L224.67 105.17 L224.74 104.06 L224.82 103.78 L224.89 104.32 L224.97 105.77 L225.04 108.38 L225.12 112.81 L225.19 121.23 L225.26 196.37 L225.34 121.09 L225.41 112.42 L225.48 107.76 L225.56 104.93 L225.63 103.26 L225.70 102.50 L225.78 102.55 L225.85 103.44 L225.92 105.30 L225.99 108.48 L226.07 113.95 L226.14 125.63 L226.21 133.43 L226.28 116.19 L226.36 109.47 L226.43 105.62 L226.50 103.28 L226.57 101.99 L226.65 101.55 L226.72 101.93 L226.79 103.17 L226.86 105.47 L226.93 109.33 L227.00 116.19 L227.08 135.01 L227.15 123.85 L227.22 112.71 L227.29 107.31 L227.36 104.11 L227.43 102.20 L227.50 101.26 L227.57 101.14 L227.64 101.83 L227.72 103.44 L227.79 106.24 L227.86 110.92 L227.93 119.85 L228.00 156.43 L228.07 118.43 L228.14 110.23 L228.21 105.81 L228.28 103.15 L228.35 101.63 L228.42 101.01 L228.49 101.20 L228.56 102.23 L228.63 104.24 L228.70 107.60 L228.77 113.35 L228.84 125.84 L228.90 130.69 L228.97 114.93 L229.04 108.53 L229.11 104.87 L229.18 102.68 L229.25 101.52 L229.32 101.22 L229.39 101.72 L229.46 103.10 L229.53 105.55 L229.59 109.61 L229.66 116.82 L229.73 137.90 L229.80 123.10 L229.87 112.64 L229.94 107.49 L230.00 104.46 L230.07 102.70 L230.14 101.88 L230.21 101.89 L230.27 102.72 L230.34 104.47 L230.41 107.43 L230.48 112.35 L230.55 121.82 L230.61 148.09 L230.68 119.03 L230.75 111.27 L230.81 107.07 L230.88 104.57 L230.95 103.20 L231.02 102.71 L231.08 103.04 L231.15 104.21 L231.22 106.37 L231.28 109.94 L231.35 116.00 L231.42 129.59 L231.48 131.04 L231.55 116.74 L231.61 110.70 L231.68 107.25 L231.75 105.23 L231.81 104.22 L231.88 104.07 L231.94 104.72 L232.01 106.26 L232.08 108.90 L232.14 113.21 L232.21 120.92 L232.27 146.27 L232.34 125.36 L232.40 115.71 L232.47 110.88 L232.53 108.07 L232.60 106.49 L232.66 105.84 L232.73 106.03 L232.79 107.03 L232.86 108.98 L232.92 112.19 L232.99 117.47 L233.05 127.85 L233.12 145.28 L233.18 122.90 L233.25 115.76 L233.31 111.88 L233.38 109.63 L233.44 108.48 L233.50 108.20 L233.57 108.74 L233.63 110.14 L233.70 112.57 L233.76 116.49 L233.82 123.14 L233.89 139.11 L233.95 134.66 L234.02 122.41 L234.08 116.95 L234.14 113.87 L234.21 112.15 L234.27 111.44 L234.33 111.56 L234.40 112.52 L234.46 114.39 L234.52 117.43 L234.59 122.31 L234.65 131.19 L234.71 209.00 L234.77 131.93 L234.84 123.75 L234.90 119.59 L234.96 117.26 L235.03 116.12 L235.09 115.91 L235.15 116.54 L235.21 118.03 L235.28 120.55 L235.34 124.48 L235.40 130.94 L235.46 144.92 L235.52 146.92 L235.59 133.07 L235.65 127.54 L235.71 124.64 L235.77 123.23 L235.83 122.88 L235.89 123.46 L235.96 124.94 L236.02 127.45 L236.08 131.29 L236.14 137.31 L236.20 148.60 L236.26 165.92 L236.32 145.23 L236.39 139.36 L236.45 136.91 L236.51 136.39 L236.57 137.38 L236.63 139.94 L236.69 144.59 L236.75 153.22 L236.81 186.94 L236.99 148.66 L237.06 150.36 L237.12 157.76 L237.18 176.18 L237.24 149.91 L237.30 141.11 L237.36 135.89 L237.42 132.53 L237.48 130.45 L237.54 129.45 L237.60 129.51 L237.66 130.76 L237.72 133.66 L237.78 139.61 L237.84 157.09 L237.90 146.32 L237.96 134.34 L238.02 128.30 L238.07 124.52 L238.13 122.09 L238.19 120.68 L238.25 120.13 L238.49 129.17 L238.55 139.39 L238.61 152.80 L238.67 131.99 L238.73 124.52 L238.78 120.18 L238.84 117.44 L238.90 115.80 L238.96 115.04 L239.02 115.11 L239.08 116.06 L239.14 118.08 L239.19 121.67 L239.25 128.24 L239.31 146.51 L239.48 118.60 L239.54 115.18 L239.60 113.07 L239.66 111.93 L239.72 111.63 L239.77 112.15 L239.83 113.60 L239.89 116.26 L239.95 120.86 L240.01 129.91 L240.06 158.72 L240.24 114.50 L240.29 111.74 L240.35 110.11 L240.41 109.37 L240.46 109.45 L240.52 110.38 L240.75 134.95 L240.81 135.86 L240.86 121.45 L240.92 115.20 L240.98 111.53 L241.03 109.29 L241.09 108.07 L241.15 107.70 L241.20 108.14 L241.26 109.46 L241.48 150.19 L241.54 127.10 L241.60 117.39 L241.65 112.38 L241.71 109.37 L241.76 107.59 L241.88 106.70 L241.99 109.23 L242.04 112.24 L242.10 117.35 L242.15 127.70 L242.21 143.23 L242.27 121.68 L242.49 106.47 L242.54 105.96 L242.60 106.26 L242.65 107.41 L242.71 109.60 L242.76 113.27 L242.87 135.62 L242.98 117.98 L243.04 112.26 L243.09 108.90 L243.15 106.90 L243.20 105.88 L243.25 105.70 L243.47 115.04 L243.53 123.39 L243.58 168.99 L243.74 110.79 L243.80 108.03 L243.85 106.44 L243.91 105.77 L243.96 105.92 L244.01 106.89 L244.23 129.27 L244.28 137.82 L244.50 107.67 L244.55 106.47 L244.60 106.13 L244.66 106.60 L244.71 107.94 L244.76 110.34 L244.92 140.48 L244.98 128.94 L245.03 117.98 L245.24 106.97 L245.29 106.96 L245.34 107.77 L245.40 109.50 L245.45 112.43 L245.50 117.28 L245.61 157.25 L245.71 116.63 L245.76 112.37 L245.92 107.98 L245.97 108.31 L246.03 109.48 L246.23 134.63 L246.29 136.75 L246.49 110.70 L246.54 109.70 L246.60 109.56 L246.65 110.24 L246.70 111.80 L246.75 114.47 L246.90 152.38 L246.96 130.90 L247.01 121.32 L247.21 111.61 L247.26 111.83 L247.47 123.54 L247.52 134.21 L247.57 149.64 L247.72 117.85 L247.77 115.68 L247.87 114.38 L247.97 116.48 L248.02 119.02 L248.17 147.32 L248.22 140.03 L248.27 128.53 L248.47 118.19 L248.52 118.44 L248.72 129.98 L248.77 139.63 L248.82 169.34 L248.97 126.86 L249.02 124.79 L249.07 123.89 L249.22 126.60 L249.27 129.50 L249.42 160.13 L249.47 151.47 L249.52 140.92 L249.66 133.51 L249.71 133.90 L249.76 135.35 L249.96 160.26 L250.00 176.92 L250.15 153.53 L250.25 170.16 L250.30 167.16 L250.49 141.17 L250.54 140.81 L250.73 174.07 L250.78 147.83 L250.97 129.12 L251.02 128.03 L251.07 127.85 L251.21 134.33 L251.26 141.80 L251.31 174.78 L251.50 124.71 L251.54 122.67 L251.64 121.31 L251.73 123.53 L251.78 126.52 L251.92 148.50 L251.97 132.44 L252.02 125.73 L252.21 117.28 L252.25 117.54 L252.49 156.93 L252.53 136.01 L252.72 115.71 L252.77 114.72 L252.81 114.57 L253.00 124.81 L253.04 135.11 L253.09 150.16 L253.23 117.25 L253.28 114.70 L253.37 112.64 L253.46 113.94 L253.51 116.07 L253.64 142.58 L253.74 123.77 L253.78 118.06 L253.96 111.31 L254.01 111.89 L254.24 189.75 L254.28 128.73 L254.46 111.19 L254.51 110.48 L254.73 122.37 L254.78 134.58 L254.82 140.29 L254.96 113.80 L255.00 111.54 L255.09 109.96 L255.23 114.14 L255.27 118.16 L255.36 146.80 L255.49 115.69 L255.54 112.62 L255.67 109.93 L255.72 110.73 L255.76 112.45 L255.94 152.52 L255.98 126.29 L256.03 118.67 L256.20 110.07 L256.25 110.38 L256.29 111.53 L256.47 137.98 L256.51 136.59 L256.73 110.83 L256.77 110.66 L256.99 127.96 L257.03 159.93 L257.25 112.23 L257.29 111.58 L257.46 117.97 L257.51 123.42 L257.59 146.07 L257.72 116.56 L257.76 114.33 L257.85 112.87 L257.98 117.21 L258.02 121.19 L258.11 146.31 L258.23 120.29 L258.28 117.24 L258.36 114.72 L258.49 117.48 L258.53 120.48 L258.66 167.56 L258.74 125.29 L258.78 121.12 L258.91 117.05 L258.99 118.78 L259.03 121.09 L259.20 146.15 L259.24 132.13 L259.29 126.27 L259.41 120.37 L259.49 121.30 L259.54 123.09 L259.70 171.89 L259.74 141.97 L259.78 133.18 L259.95 124.92 L259.99 125.50 L260.03 126.95 L260.24 157.55 L260.28 142.64 L260.44 132.20 L260.48 132.80 L260.52 134.32 L260.73 173.74 L260.77 154.63 L260.89 146.74 L260.97 151.68 L261.01 158.18 L261.05 174.07 L261.22 155.30 L261.26 158.17 L261.34 173.10 L261.50 139.40 L261.54 137.52 L261.58 136.66 L261.74 147.21 L261.78 165.04 L261.98 129.81 L262.02 128.42 L262.06 127.91 L262.22 137.07 L262.26 147.38 L262.30 160.27 L262.49 123.73 L262.53 122.99 L262.73 136.42 L262.77 155.40 L262.97 121.05 L263.01 119.94 L263.05 119.66 L263.24 138.45 L263.28 162.58 L263.48 118.12 L263.51 117.42 L263.75 144.35 L263.79 142.60 L263.98 116.10 L264.02 115.78 L264.25 166.43 L264.29 134.20 L264.48 114.78 L264.52 114.81 L264.75 147.32 L264.78 128.93 L264.97 114.03 L265.01 114.40 L265.20 147.26 L265.24 136.51 L265.28 125.31 L265.47 113.79 L265.50 114.51 L265.69 164.03 L265.73 130.83 L265.77 122.80 L265.92 113.80 L265.99 115.12 L266.03 117.20 L266.18 141.80 L266.21 127.29 L266.25 121.14 L266.40 114.19 L266.47 116.23 L266.51 118.81 L266.62 157.04 L266.73 120.19 L266.77 117.31 L266.84 114.95 L266.99 121.04 L267.03 126.31 L267.10 151.95 L267.25 117.59 L267.28 116.36 L267.32 116.00 L267.47 123.99 L267.50 130.67 L267.54 147.40 L267.72 118.48 L267.76 117.64 L267.79 117.64 L267.97 136.72 L268.01 185.62 L268.23 119.60 L268.26 119.97 L268.48 149.98 L268.51 134.86 L268.69 122.46 L268.73 123.25 L268.76 124.92 L268.90 166.45 L268.98 135.20 L269.01 130.59 L269.12 126.22 L269.22 130.20 L269.26 133.79 L269.36 161.87 L269.47 134.39 L269.51 132.62 L269.54 131.96 L269.72 143.60 L269.75 152.36 L269.79 186.73 L269.96 141.93 L270.00 142.66 L270.03 144.49 L270.17 178.53 L270.24 163.90 L270.28 161.63 L270.38 197.67 L270.48 151.69 L270.52 148.96 L270.55 147.75 L270.73 168.18 L270.76 152.16 L270.93 135.23 L270.97 135.31 L271.00 136.38 L271.14 171.38 L271.24 134.43 L271.27 131.54 L271.38 128.87 L271.48 135.15 L271.51 141.58 L271.55 159.23 L271.72 126.33 L271.75 125.14 L271.78 124.80 L271.99 169.77 L272.02 139.85 L272.19 122.15 L272.22 122.22 L272.26 123.15 L272.39 148.59 L272.49 127.55 L272.53 123.93 L272.63 120.17 L272.73 124.49 L272.76 128.74 L272.83 169.95 L272.99 119.75 L273.03 118.93 L273.22 141.26 L273.26 151.32 L273.46 117.97 L273.49 118.33 L273.52 119.55 L273.65 151.33 L273.72 129.09 L273.75 123.69 L273.88 117.54 L273.98 122.73 L274.01 127.50 L274.08 166.34 L274.24 117.96 L274.27 117.38 L274.47 143.81 L274.50 144.95 L274.69 117.59 L274.73 118.16 L274.76 119.63 L274.89 161.72 L274.98 123.40 L275.02 120.53 L275.08 118.17 L275.24 129.57 L275.27 140.30 L275.30 154.17 L275.50 119.02 L275.53 119.47 L275.69 150.96 L275.72 143.35 L275.75 131.68 L275.91 120.42 L275.97 122.96 L276.00 125.88 L276.10 180.46 L276.22 123.92 L276.26 122.56 L276.29 122.10 L276.48 148.65 L276.51 151.81 L276.69 124.56 L276.73 125.31 L276.76 126.96 L276.88 169.04 L276.97 132.26 L277.01 129.61 L277.07 127.73 L277.22 140.70 L277.25 152.17 L277.28 163.52 L277.44 132.43 L277.47 132.50 L277.50 133.42 L277.65 175.10 L277.75 143.01 L277.78 140.74 L277.81 139.79 L277.99 158.30 L278.02 177.27 L278.14 154.33 L278.23 162.16 L278.27 171.96 L278.30 196.64 L278.39 161.99 L278.48 190.13 L278.51 169.33 L278.69 143.65 L278.75 146.24 L278.78 150.23 L278.84 185.04 L278.99 136.25 L279.02 135.24 L279.05 135.08 L279.14 141.05"/>
<path stroke="#f00" stroke-width="0.85" d="M51.68 161.76 L53.00 157.43 L54.29 153.25 L55.55 149.22 L56.79 145.32 L58.00 141.56 L59.19 137.93 L60.35 134.43 L61.49 131.06 L62.61 127.81 L63.72 124.68 L64.80 121.67 L65.86 118.77 L66.90 115.99 L67.93 113.32 L68.93 110.76 L69.93 108.30 L70.90 105.96 L71.86 103.73 L72.81 101.60 L73.74 99.57 L74.65 97.65 L75.55 95.84 L76.44 94.13 L77.32 92.53 L78.18 91.04 L79.03 89.65 L79.87 88.37 L80.70 87.21 L81.51 86.15 L82.32 85.22 L83.11 84.40 L83.90 83.71 L84.67 83.15 L85.43 82.73 L86.19 82.45 L86.93 82.34 L87.67 82.42 L88.40 82.68 L89.11 83.14 L89.82 83.83 L90.53 84.78 L91.22 86.06 L91.90 87.74 L92.58 89.96 L93.25 92.94 L93.91 97.16 L94.57 103.86 L95.22 119.27 L95.55 142.00 L95.86 115.94 L96.49 102.98 L97.12 96.90 L97.74 93.08 L98.36 90.46 L98.97 88.61 L99.57 87.34 L100.17 86.56 L100.76 86.20 L101.34 86.25 L101.92 86.71 L102.50 87.62 L103.06 89.04 L103.63 91.10 L104.18 94.06 L104.74 98.45 L105.28 105.79 L105.83 125.94 L106.05 134.00 L106.37 112.90 L106.90 102.09 L107.43 96.65 L107.95 93.25 L108.47 90.99 L108.98 89.52 L109.49 88.67 L110.00 88.36 L110.50 88.56 L111.00 89.29 L111.49 90.61 L111.98 92.64 L112.47 95.65 L112.95 100.24 L113.43 108.23 L114.06 131.00 L114.37 111.83 L114.84 102.28 L115.30 97.29 L115.76 94.17 L116.22 92.17 L116.67 90.96 L117.12 90.39 L117.56 90.42 L118.01 91.02 L118.45 92.25 L118.88 94.24 L119.31 97.26 L119.74 101.93 L120.17 110.18 L120.69 136.00 L121.02 112.57 L121.43 103.44 L121.85 98.63 L122.26 95.66 L122.67 93.80 L123.08 92.75 L123.48 92.37 L123.88 92.61 L124.28 93.49 L124.67 95.09 L125.07 97.60 L125.46 101.45 L125.85 107.77 L126.23 121.95 L126.56 126.00 L126.62 121.94 L127.00 108.16 L127.37 102.14 L127.75 98.61 L128.12 96.41 L128.49 95.14 L128.86 94.61 L129.23 94.73 L129.59 95.52 L129.96 97.04 L130.32 99.47 L130.67 103.22 L131.03 109.35 L131.77 123.00 L132.09 110.74 L132.43 104.56 L132.78 100.98 L133.12 98.79 L133.46 97.56 L133.80 97.08 L134.14 97.28 L134.48 98.18 L134.81 99.85 L135.14 102.50 L135.47 106.61 L135.80 113.53 L136.36 131.00 L136.45 123.32 L136.78 111.71 L137.10 106.29 L137.42 103.10 L137.74 101.20 L138.05 100.20 L138.37 99.96 L138.68 100.41 L138.99 101.59 L139.30 103.62 L139.61 106.78 L139.92 111.76 L140.22 120.87 L140.53 156.00 L140.83 120.41 L141.13 112.31 L141.43 108.02 L141.72 105.48 L142.02 104.04 L142.31 103.44 L142.61 103.58 L142.90 104.44 L143.19 106.09 L143.48 108.72 L143.77 112.78 L144.05 119.53 L144.34 135.44 L144.54 140.00 L144.62 131.43 L144.90 119.12 L145.18 113.63 L145.46 110.51 L145.74 108.72 L146.02 107.88 L146.29 107.82 L146.57 108.49 L146.84 109.94 L147.11 112.31 L147.38 115.93 L147.65 121.68 L147.92 132.92 L148.13 164.00 L148.19 146.37 L148.45 126.88 L148.72 120.26 L148.98 116.71 L149.24 114.73 L149.51 113.80 L149.77 113.71 L150.02 114.39 L150.28 115.85 L150.54 118.23 L150.79 121.81 L151.05 127.34 L151.30 137.44 L151.54 171.60 L151.56 164.35 L151.81 135.94 L152.06 128.86 L152.31 125.36"/>
<path stroke="#f00" stroke-width="0.60" d="M152.06 128.86 L152.31 125.36 L152.55 123.60 L152.80 123.01 L153.05 123.35 L153.29 124.57 L153.54 126.71 L153.78 129.95 L154.02 134.72 L154.26 142.20 L154.50 158.00 L154.74 158.77 L154.98 147.24 L155.22 143.78 L155.46 143.55 L155.69 146.03 L155.93 152.59 L156.16 178.40 L156.39 155.38 L156.62 145.80 L156.85 141.31 L157.08 139.28 L157.31 139.14 L157.54 141.09 L157.77 146.50 L158.00 165.54 L158.22 150.29 L158.45 138.51 L158.67 132.25 L158.89 128.20 L159.12 125.51 L159.34 123.82 L159.56 123.01 L159.78 123.06 L160.00 124.06 L160.22 126.29 L160.43 130.46 L160.65 139.02 L160.87 169.82 L161.08 135.91 L161.30 127.37 L161.51 122.50 L161.72 119.39 L161.94 117.41 L162.15 116.31 L162.36 116.01 L162.57 116.51 L162.78 117.94 L162.99 120.58 L163.19 125.21 L163.40 134.54 L163.61 157.18 L163.81 130.27 L164.02 122.29 L164.22 117.76 L164.43 114.90 L164.63 113.15 L164.83 112.26 L165.03 112.15 L165.23 112.83 L165.43 114.44 L165.63 117.28 L165.83 122.15 L166.03 131.97 L166.23 150.69 L166.42 126.80 L166.62 119.16 L166.82 114.82 L167.01 112.11 L167.20 110.49 L167.40 109.72 L167.59 109.74 L167.78 110.54 L167.98 112.28 L168.17 115.28 L168.36 120.38 L168.55 130.81 L168.74 145.31 L168.93 124.28 L169.11 116.99 L169.30 112.83 L169.49 110.26 L169.67 108.75 L169.86 108.09 L170.05 108.21 L170.23 109.13 L170.41 111.00 L170.60 114.16 L170.78 119.54 L170.96 130.82 L171.15 140.53 L171.33 122.31 L171.51 115.42 L171.69 111.46 L171.87 109.03 L172.05 107.64 L172.23 107.09 L172.40 107.31 L172.58 108.35 L172.76 110.36 L172.94 113.72 L173.11 119.45 L173.29 132.00 L173.46 136.38 L173.64 120.73 L173.81 114.28 L173.98 110.55 L174.16 108.27 L174.33 107.00 L174.50 106.57 L174.67 106.91 L174.84 108.08 L175.01 110.25 L175.18 113.84 L175.35 120.02 L175.52 134.52 L175.69 132.89 L175.86 119.48 L176.03 113.51 L176.19 110.01 L176.36 107.90 L176.53 106.78 L176.69 106.47 L176.86 106.94 L177.02 108.26 L177.19 110.61 L177.35 114.48 L177.52 121.25 L177.68 138.97 L177.84 130.05 L178.00 118.54 L178.17 113.06 L178.33 109.83 L178.49 107.89 L178.65 106.92 L178.81 106.75 L178.97 107.36 L179.13 108.84 L179.29 111.41 L179.44 115.62 L179.60 123.15 L179.76 147.35 L179.92 127.84 L180.07 117.94 L180.23 112.94 L180.39 109.97 L180.54 108.23 L180.70 107.42 L180.85 107.40 L181.01 108.18 L181.16 109.84 L181.31 112.66 L181.47 117.28 L181.62 125.85 L181.77 186.36 L181.92 126.23 L182.07 117.68 L182.23 113.16 L182.38 110.47 L182.53 108.93 L182.68 108.29 L182.83 108.44 L182.98 109.40 L183.12 111.28 L183.27 114.39 L183.42 119.52 L183.57 129.55 L183.72 149.42 L183.86 125.22 L184.01 117.82 L184.16 113.76 L184.30 111.35 L184.45 110.03 L184.59 109.57 L184.74 109.91 L184.88 111.07 L185.03 113.19 L185.17 116.65 L185.32 122.42 L185.46 134.66 L185.60 141.14 L185.74 124.82 L185.89 118.42 L186.03 114.80 L186.17 112.68 L186.31 111.59 L186.45 111.34 L186.59 111.88 L186.73 113.26 L186.87 115.67 L187.01 119.55 L187.15 126.18 L187.29 142.26 L187.43 137.32 L187.57 125.10 L187.70 119.56 L187.84 116.39 L187.98 114.56 L188.12 113.72 L188.25 113.69 L188.39 114.47 L188.53 116.12 L188.66 118.87 L188.80 123.28 L188.93 131.09 L189.07 156.51 L189.20 135.73 L189.34 126.16 L189.47 121.42 L189.60 118.69 L189.74 117.19 L189.87 116.62 L190.00 116.86 L190.13 117.92 L190.27 119.90 L190.40 123.09 L190.53 128.21 L190.66 137.82 L190.79 166.08 L190.92 135.86 L191.05 128.28 L191.18 124.30 L191.31 122.05 L191.44 120.93 L191.57 120.70 L191.70 121.29 L191.83 122.72 L191.96 125.15 L192.09 128.95 L192.22 135.15 L192.34 148.24 L192.47 152.96 L192.60 137.91 L192.72 132.04 L192.85 128.91 L192.98 127.26 L193.10 126.67 L193.23 126.97 L193.35 128.11 L193.48 130.17 L193.61 133.40 L193.73 138.38 L193.85 146.94 L193.98 176.66 L194.10 151.60 L194.23 143.12 L194.35 139.29 L194.47 137.52 L194.60 137.11 L194.72 137.81 L194.84 139.58 L194.96 142.56 L195.09 147.20 L195.21 154.67 L195.33 170.72 L195.45 171.20 L195.57 160.31 L195.69 157.80 L195.81 159.50 L195.93 167.32 L196.05 183.37 L196.17 159.24 L196.29 151.00 L196.41 146.33 L196.53 143.60 L196.65 142.31 L196.77 142.36 L196.89 143.94 L197.00 147.83 L197.12 157.16 L197.24 171.19 L197.36 149.11 L197.47 141.09 L197.59 136.30 L197.71 133.19 L197.82 131.22 L197.94 130.18 L198.06 130.01 L198.17 130.77 L198.29 132.67 L198.40 136.27 L198.52 143.25"/>
<path stroke="#f00" stroke-width="0.85" d="M198.40 136.27 L198.52 143.25 L198.63 167.31 L198.75 146.70 L198.86 136.36 L198.98 130.92 L199.09 127.52 L199.20 125.38 L199.32 124.19 L199.43 123.84 L199.54 124.31 L199.66 125.75 L199.77 128.44 L199.88 133.20 L200.00 143.03 L200.11 160.50 L200.22 137.29 L200.33 129.63 L200.44 125.26 L200.55 122.53 L200.66 120.89 L200.78 120.13 L200.89 120.18 L201.00 121.08 L201.11 123.00 L201.22 126.35 L201.33 132.30 L201.44 146.47 L201.55 144.98 L201.66 131.28 L201.76 125.13 L201.87 121.46 L201.98 119.20 L202.09 117.94 L202.20 117.52 L202.31 117.90 L202.41 119.17 L202.52 121.53 L202.63 125.56 L202.74 132.97 L202.84 157.82 L202.95 136.95 L203.06 126.99 L203.16 121.87 L203.27 118.76 L203.38 116.89 L203.48 115.95 L203.59 115.82 L203.69 116.52 L203.80 118.13 L203.91 120.97 L204.01 125.78 L204.12 135.26 L204.22 158.88 L204.32 131.60 L204.43 123.79 L204.53 119.46 L204.64 116.82 L204.74 115.30 L204.84 114.65 L204.95 114.81 L205.05 115.80 L205.15 117.78 L205.26 121.13 L205.36 126.91 L205.46 139.79 L205.56 142.89 L205.67 127.75 L205.77 121.40 L205.87 117.72 L205.97 115.48 L206.07 114.27 L206.18 113.90 L206.28 114.34 L206.38 115.64 L206.48 118.01 L206.58 121.96 L206.68 129.02 L206.78 149.28 L206.88 135.64 L206.98 124.93 L207.08 119.65 L207.18 116.51 L207.28 114.65 L207.38 113.74 L207.48 113.64 L207.58 114.36 L207.68 115.98 L207.77 118.78 L207.87 123.46 L207.97 132.35 L208.07 170.78 L208.17 131.14 L208.26 122.90 L208.36 118.46 L208.46 115.80 L208.56 114.28 L208.65 113.65 L208.75 113.82 L208.85 114.83 L208.95 116.80 L209.04 120.11 L209.14 125.70 L209.23 137.54 L209.33 145.13 L209.43 128.14 L209.52 121.53 L209.62 117.78 L209.71 115.54 L209.81 114.34 L209.90 113.99 L210.00 114.44 L210.09 115.75 L210.19 118.12 L210.28 122.00 L210.38 128.81 L210.47 146.65 L210.57 137.61 L210.66 126.18 L210.75 120.76 L210.85 117.59 L210.94 115.73 L211.04 114.84 L211.13 114.77 L211.22 115.51 L211.31 117.15 L211.41 119.95 L211.50 124.56 L211.59 133.11 L211.69 189.61 L211.78 133.60 L211.87 125.05 L211.96 120.55 L212.05 117.89 L212.15 116.39 L212.24 115.80 L212.33 116.02 L212.42 117.07 L212.51 119.07 L212.60 122.38 L212.69 127.91 L212.78 139.28 L212.87 149.68 L212.96 131.40 L213.05 124.68 L213.14 120.93 L213.23 118.72 L213.32 117.57 L213.41 117.29 L213.50 117.80 L213.59 119.18 L213.68 121.60 L213.77 125.53 L213.86 132.30 L213.95 149.41 L214.04 142.15 L214.13 130.46 L214.22 125.06 L214.31 121.95 L214.39 120.17 L214.48 119.36 L214.57 119.39 L214.66 120.24 L214.75 121.98 L214.83 124.88 L214.92 129.59 L215.01 138.22 L215.10 189.71 L215.18 139.12 L215.27 130.66 L215.36 126.28 L215.44 123.75 L215.53 122.39 L215.62 121.94 L215.70 122.31 L215.79 123.52 L215.88 125.70 L215.96 129.21 L216.05 134.98 L216.13 146.85 L216.22 155.72 L216.30 138.49 L216.39 132.08 L216.48 128.58 L216.56 126.60 L216.65 125.69 L216.73 125.65 L216.82 126.43 L216.90 128.09 L216.98 130.83 L217.07 135.16 L217.15 142.59 L217.24 162.92 L217.32 150.34 L217.41 139.99 L217.49 135.17 L217.57 132.52 L217.66 131.18 L217.74 130.82 L217.82 131.32 L217.91 132.67 L217.99 135.01 L218.07 138.65 L218.16 144.42 L218.24 155.49 L218.32 171.61 L218.41 150.94 L218.49 144.52 L218.57 141.35 L218.65 139.87 L218.73 139.56 L218.82 140.26 L218.90 141.93 L218.98 144.72 L219.06 148.98 L219.14 155.70 L219.23 168.85 L219.31 178.02 L219.39 162.89 L219.47 158.61 L219.55 157.89 L219.63 159.89 L219.71 165.69 L219.79 185.05 L219.87 171.24 L219.95 160.47 L220.03 155.53 L220.11 153.18 L220.19 152.74 L220.27 154.28 L220.35 158.84 L220.43 172.38 L220.51 168.20 L220.59 154.09 L220.67 147.27 L220.75 142.99 L220.83 140.19 L220.91 138.49 L220.99 137.72 L221.07 137.88 L221.15 139.10 L221.23 141.73 L221.31 146.77 L221.38 158.54 L221.46 163.17 L221.54 146.69 L221.62 139.73 L221.70 135.55 L221.78 132.88 L221.85 131.27 L221.93 130.54 L222.01 130.65 L222.09 131.67 L222.16 133.83 L222.24 137.70 L222.32 145.08 L222.40 172.57 L222.47 147.69 L222.55 137.85 L222.63 132.66 L222.71 129.44 L222.78 127.46 L222.86 126.41 L222.94 126.19 L223.01 126.81 L223.09 128.39 L223.16 131.26 L223.24 136.29 L223.32 146.84 L223.39 159.60 L223.47 139.46 L223.54 132.20 L223.62 128.03 L223.70 125.45 L223.77 123.94 L223.85 123.30 L223.92 123.48 L224.00 124.52 L224.07 126.61 L224.15 130.21 L224.22 136.65 L224.30 153.36 L224.37 145.94 L224.45 133.91 L224.52 128.18 L224.60 124.75 L224.67 122.66 L224.74 121.55 L224.82 121.27 L224.89 121.80 L224.97 123.24 L225.04 125.85 L225.12 130.28 L225.19 138.70 L225.26 209.00 L225.34 138.55 L225.41 129.87 L225.48 125.21 L225.56 122.37 L225.63 120.70 L225.70 119.94 L225.78 119.99 L225.85 120.87 L225.92 122.72 L225.99 125.91 L226.07 131.37 L226.14 143.04 L226.21 150.84 L226.28 133.60 L226.36 126.88 L226.43 123.02 L226.50 120.68 L226.57 119.38 L226.65 118.94 L226.72 119.31 L226.79 120.55 L226.86 122.85 L226.93 126.70 L227.00 133.56 L227.08 152.37 L227.15 141.22 L227.22 130.07 L227.29 124.67 L227.36 121.46 L227.43 119.55 L227.50 118.60 L227.57 118.48 L227.64 119.17 L227.72 120.78 L227.79 123.57 L227.86 128.24 L227.93 137.17 L228.00 173.75 L228.07 135.75 L228.14 127.54 L228.21 123.11 L228.28 120.45 L228.35 118.93 L228.42 118.30 L228.49 118.49 L228.56 119.51 L228.63 121.52 L228.70 124.89 L228.77 130.62 L228.84 143.11 L228.90 147.96 L228.97 132.19 L229.04 125.79 L229.11 122.12 L229.18 119.93 L229.25 118.77 L229.32 118.47 L229.39 118.97 L229.46 120.34 L229.53 122.79 L229.59 126.84 L229.66 134.05 L229.73 155.12 L229.80 140.32 L229.87 129.86 L229.94 124.71 L230.00 121.67 L230.07 119.90 L230.14 119.08 L230.21 119.09 L230.27 119.91 L230.34 121.66 L230.41 124.62 L230.48 129.53 L230.55 139.00 L230.61 165.27 L230.68 136.20 L230.75 128.44 L230.81 124.23 L230.88 121.73 L230.95 120.35 L231.02 119.86 L231.08 120.19 L231.15 121.35 L231.22 123.51 L231.28 127.08 L231.35 133.13 L231.42 146.72 L231.48 148.16 L231.55 133.86 L231.61 127.81 L231.68 124.36 L231.75 122.34 L231.81 121.33 L231.88 121.17 L231.94 121.82 L232.01 123.35 L232.08 125.99 L232.14 130.30 L232.21 138.00 L232.27 163.35 L232.34 142.43 L232.40 132.78 L232.47 127.95 L232.53 125.13 L232.60 123.55 L232.66 122.90 L232.73 123.08 L232.79 124.08 L232.86 126.02 L232.92 129.23 L232.99 134.50 L233.05 144.88 L233.12 162.30 L233.18 139.92 L233.25 132.78 L233.31 128.89 L233.38 126.64 L233.44 125.48 L233.50 125.20 L233.57 125.74 L233.63 127.14 L233.70 129.57 L233.76 133.48 L233.82 140.12 L233.89 156.09 L233.95 151.64 L234.02 139.38 L234.08 133.92 L234.14 130.83 L234.21 129.11 L234.27 128.39 L234.33 128.51 L234.40 129.46 L234.46 131.33 L234.52 134.37 L234.59 139.24 L234.65 148.12 L234.71 209.00 L234.77 148.86 L234.84 140.67 L234.90 136.50 L234.96 134.17 L235.03 133.03 L235.09 132.81 L235.15 133.44 L235.21 134.93 L235.28 137.44 L235.34 141.37 L235.40 147.82 L235.46 161.80 L235.52 163.80 L235.59 149.95 L235.65 144.41 L235.71 141.51 L235.77 140.09 L235.83 139.74 L235.89 140.31 L235.96 141.79 L236.02 144.29 L236.08 148.13 L236.14 154.14 L236.20 165.43 L236.26 182.75 L236.32 162.06 L236.39 156.18 L236.45 153.73 L236.51 153.20 L236.57 154.19 L236.63 156.74 L236.69 161.39 L236.75 170.02 L236.81 203.74 L236.99 165.44 L237.06 167.14 L237.12 174.54 L237.18 192.94 L237.24 166.68 L237.30 157.87 L237.36 152.65 L237.42 149.28 L237.48 147.20 L237.54 146.20 L237.60 146.25 L237.66 147.50 L237.72 150.39 L237.78 156.34 L237.84 173.82 L237.90 163.04 L237.96 151.06 L238.02 145.01 L238.07 141.23 L238.13 138.80 L238.19 137.38 L238.25 136.83 L238.49 145.85 L238.55 156.06 L238.61 169.47 L238.67 148.66 L238.73 141.18 L238.78 136.84 L238.84 134.10 L238.90 132.45 L238.96 131.69 L239.02 131.75 L239.08 132.70 L239.14 134.72 L239.19 138.30 L239.25 144.87 L239.31 163.13 L239.48 135.22 L239.54 131.79 L239.60 129.67 L239.66 128.53 L239.72 128.22 L239.77 128.74 L239.83 130.19 L239.89 132.84 L239.95 137.44 L240.01 146.48 L240.06 175.29 L240.24 131.06 L240.29 128.30 L240.35 126.66 L240.41 125.92 L240.46 126.00 L240.52 126.92 L240.75 151.48 L240.81 152.38 L240.86 137.97 L240.92 131.71 L240.98 128.04 L241.03 125.80 L241.09 124.57 L241.15 124.19 L241.20 124.63 L241.26 125.95 L241.48 166.66 L241.54 143.56 L241.60 133.85 L241.65 128.84 L241.71 125.82 L241.76 124.03 L241.88 123.14 L241.99 125.66 L242.04 128.67 L242.10 133.77 L242.15 144.12 L242.21 159.64 L242.27 138.09 L242.49 122.87 L242.54 122.35 L242.60 122.65 L242.65 123.80 L242.71 125.98 L242.76 129.65 L242.87 151.99 L242.98 134.34 L243.04 128.62 L243.09 125.25 L243.15 123.25 L243.20 122.22 L243.25 122.04 L243.47 131.36 L243.53 139.71 L243.58 185.30 L243.74 127.09 L243.80 124.33 L243.85 122.74 L243.91 122.06 L243.96 122.20 L244.01 123.17 L244.23 145.54 L244.28 154.08 L244.50 123.91 L244.55 122.71 L244.60 122.36 L244.66 122.83 L244.71 124.16 L244.76 126.56 L244.92 156.69 L244.98 145.14 L245.03 134.18 L245.24 123.16 L245.29 123.14 L245.34 123.95 L245.40 125.67 L245.45 128.60 L245.50 133.45 L245.61 173.40 L245.71 132.78 L245.76 128.52 L245.92 124.11 L245.97 124.43 L246.03 125.60 L246.23 150.74 L246.29 152.85 L246.49 126.78 L246.54 125.79 L246.60 125.64 L246.65 126.31 L246.70 127.87 L246.75 130.53 L246.90 168.43 L246.96 146.94 L247.01 137.37 L247.21 127.64 L247.26 127.85 L247.47 139.55 L247.52 150.22 L247.57 165.64 L247.72 133.84 L247.77 131.66 L247.87 130.36 L247.97 132.44 L248.02 134.98 L248.17 163.26 L248.22 155.97 L248.27 144.47 L248.47 134.11 L248.52 134.35 L248.72 145.89 L248.77 155.53 L248.82 185.23 L248.97 142.74 L249.02 140.67 L249.07 139.76 L249.22 142.46 L249.27 145.35 L249.42 175.97 L249.47 167.31 L249.52 156.75 L249.66 149.33 L249.71 149.72 L249.76 151.16 L249.96 176.06 L250.00 192.71 L250.15 169.31 L250.25 185.93 L250.30 182.93 L250.49 156.92 L250.54 156.56 L250.73 189.80 L250.78 163.56 L250.97 144.83 L251.02 143.74 L251.07 143.55 L251.21 150.02 L251.26 157.49 L251.31 190.46 L251.50 140.38 L251.54 138.33 L251.64 136.96 L251.73 139.17 L251.78 142.15 L251.92 164.13 L251.97 148.06 L252.02 141.35 L252.21 132.88 L252.25 133.13 L252.49 172.50 L252.53 151.58 L252.72 131.26 L252.77 130.27 L252.81 130.12 L253.00 140.33 L253.04 150.63 L253.09 165.68 L253.23 132.76 L253.28 130.20 L253.37 128.13 L253.46 129.43 L253.51 131.55 L253.64 158.04 L253.74 139.23 L253.78 133.51 L253.96 126.75 L254.01 127.33 L254.24 205.16 L254.28 144.14 L254.46 126.58 L254.51 125.87 L254.73 137.74 L254.78 149.94 L254.82 155.65 L254.96 129.15 L255.00 126.89 L255.09 125.30 L255.23 129.46 L255.27 133.48 L255.36 162.11 L255.49 130.99 L255.54 127.91 L255.67 125.21 L255.72 126.00 L255.76 127.72 L255.94 167.78 L255.98 141.54 L256.03 133.91 L256.20 125.30 L256.25 125.60 L256.29 126.75 L256.47 153.19 L256.51 151.78 L256.73 126.01 L256.77 125.84 L256.99 143.11 L257.03 175.08 L257.25 127.36 L257.29 126.70 L257.46 133.07 L257.51 138.52 L257.59 161.17 L257.72 131.64 L257.76 129.41 L257.85 127.94 L257.98 132.26 L258.02 136.24 L258.11 161.35 L258.23 135.32 L258.28 132.26 L258.36 129.74 L258.49 132.48 L258.53 135.48 L258.66 182.55 L258.74 140.27 L258.78 136.09 L258.91 132.01 L258.99 133.74 L259.03 136.04 L259.20 161.09 L259.24 147.06 L259.29 141.20 L259.41 135.28 L259.49 136.20 L259.54 137.98 L259.70 186.77 L259.74 156.85 L259.78 148.06 L259.95 139.77 L259.99 140.35 L260.03 141.80 L260.24 172.38 L260.28 157.46 L260.44 147.01 L260.48 147.60 L260.52 149.12 L260.73 188.52 L260.77 169.40 L260.89 161.51 L260.97 166.44 L261.01 172.93 L261.05 188.81 L261.22 170.03 L261.26 172.89 L261.34 187.81 L261.50 154.10 L261.54 152.21 L261.58 151.35 L261.74 161.89 L261.78 179.70 L261.98 144.46 L262.02 143.07 L262.06 142.55 L262.22 151.69 L262.26 162.00 L262.30 174.88 L262.49 138.32 L262.53 137.58 L262.73 150.98 L262.77 169.97 L262.97 135.60 L263.01 134.48 L263.05 134.20 L263.24 152.97 L263.28 177.09 L263.48 132.61 L263.51 131.91 L263.75 158.81 L263.79 157.05 L263.98 130.54 L264.02 130.21 L264.25 180.84 L264.29 148.60 L264.48 129.16 L264.52 129.18 L264.75 161.68 L264.78 143.28 L264.97 128.36 L265.01 128.72 L265.20 161.56 L265.24 150.80 L265.28 139.61 L265.47 128.07 L265.50 128.78 L265.69 178.27 L265.73 145.07 L265.77 137.04 L265.92 128.02 L265.99 129.34 L266.03 131.42 L266.18 156.00 L266.21 141.48 L266.25 135.32 L266.40 128.36 L266.47 130.39 L266.51 132.97 L266.62 171.19 L266.73 134.32 L266.77 131.44 L266.84 129.07 L266.99 135.14 L267.03 140.41 L267.10 166.05 L267.25 131.67 L267.28 130.43 L267.32 130.07 L267.47 138.04 L267.50 144.71 L267.54 161.44 L267.72 132.50 L267.76 131.65 L267.79 131.65 L267.97 150.71 L268.01 199.61 L268.23 133.57 L268.26 133.93 L268.48 163.92 L268.51 148.79 L268.69 136.38 L268.73 137.15 L268.76 138.82 L268.90 180.34 L268.98 149.08 L269.01 144.47 L269.12 140.09 L269.22 144.05 L269.26 147.63 L269.36 175.70 L269.47 148.21 L269.51 146.44 L269.54 145.77 L269.72 157.39 L269.75 166.15 L269.79 200.52 L269.96 155.70 L270.00 156.43 L270.03 158.24 L270.17 192.27 L270.24 177.64 L270.28 175.35 L270.38 209.00 L270.48 165.40 L270.52 162.66 L270.55 161.44 L270.73 181.86 L270.76 165.83 L270.93 148.88 L270.97 148.95 L271.00 150.02 L271.14 185.00 L271.24 148.05 L271.27 145.15 L271.38 142.47 L271.48 148.73 L271.51 155.16 L271.55 172.81 L271.72 139.89 L271.75 138.70 L271.78 138.35 L271.99 183.30 L272.02 153.38 L272.19 135.65 L272.22 135.72 L272.26 136.65 L272.39 162.07 L272.49 141.01 L272.53 137.39 L272.63 133.62 L272.73 137.93 L272.76 142.17 L272.83 183.38 L272.99 133.15 L273.03 132.34 L273.22 154.64 L273.26 164.69 L273.46 131.32 L273.49 131.67 L273.52 132.90 L273.65 164.66 L273.72 142.41 L273.75 137.00 L273.88 130.84 L273.98 136.02 L274.01 140.78 L274.08 179.61 L274.24 131.21 L274.27 130.63 L274.47 157.04 L274.50 158.17 L274.69 130.79 L274.73 131.36 L274.76 132.82 L274.89 174.89 L274.98 136.57 L275.02 133.69 L275.08 131.32 L275.24 142.70 L275.27 153.43 L275.30 167.30 L275.50 132.12 L275.53 132.57 L275.69 164.04 L275.72 156.42 L275.75 144.75 L275.91 133.47 L275.97 136.01 L276.00 138.92 L276.10 193.48 L276.22 136.94 L276.26 135.57 L276.29 135.10 L276.48 161.63 L276.51 164.78 L276.69 137.51 L276.73 138.26 L276.76 139.90 L276.88 181.97 L276.97 145.18 L277.01 142.53 L277.07 140.64 L277.22 153.59 L277.25 165.06 L277.28 176.40 L277.44 145.29 L277.47 145.36 L277.50 146.27 L277.65 187.93 L277.75 155.83 L277.78 153.56 L277.81 152.60 L277.99 171.09 L278.02 190.06 L278.14 167.10 L278.23 174.92 L278.27 184.72 L278.30 209.00 L278.39 174.74 L278.48 202.86 L278.51 182.06 L278.69 156.35 L278.75 158.94 L278.78 162.92 L278.84 197.72 L278.99 148.92 L279.02 147.90 L279.05 147.74 L279.14 153.70"/>
</g>
<g clip-path="url(#cr)" fill="none" stroke-width="0.85" stroke-linejoin="round">
<path stroke="#000" stroke-width="0.85" d="M407.53 151.16 L407.67 150.33 L407.82 149.51 L407.96 148.68 L408.11 147.86 L408.26 147.04 L408.40 146.23 L408.55 145.41 L408.69 144.60 L408.84 143.78 L408.99 142.97 L409.13 142.17 L409.28 141.36 L409.42 140.56 L409.57 139.76 L409.72 138.96 L409.86 138.16 L410.01 137.36 L410.15 136.57 L410.30 135.78 L410.45 134.99 L410.59 134.20 L410.74 133.42 L410.88 132.64 L411.03 131.86 L411.18 131.08 L411.32 130.30 L411.47 129.53 L411.61 128.76 L411.76 127.99 L411.91 127.22 L412.05 126.46 L412.20 125.69 L412.34 124.93 L412.49 124.18 L412.64 123.42 L412.78 122.67 L412.93 121.92 L413.07 121.17 L413.22 120.42 L413.36 119.68 L413.51 118.93 L413.66 118.19 L413.80 117.46 L413.95 116.72 L414.09 115.99 L414.24 115.26 L414.39 114.53 L414.53 113.81 L414.68 113.08 L414.82 112.36 L414.97 111.64 L415.12 110.93 L415.26 110.22 L415.41 109.50 L415.55 108.80 L415.70 108.09 L415.85 107.39 L415.99 106.69 L416.14 105.99 L416.28 105.29 L416.43 104.60 L416.58 103.91 L416.72 103.22 L416.87 102.54 L417.01 101.85 L417.16 101.17 L417.31 100.49 L417.45 99.82 L417.60 99.15 L417.74 98.48 L417.89 97.81 L418.04 97.15 L418.18 96.49 L418.33 95.83 L418.47 95.17 L418.62 94.52 L418.77 93.87 L418.91 93.22 L419.06 92.57 L419.20 91.93 L419.35 91.29 L419.50 90.66 L419.64 90.02 L419.79 89.39 L419.93 88.76 L420.08 88.14 L420.23 87.52 L420.37 86.90 L420.52 86.28 L420.66 85.67 L420.81 85.06 L420.96 84.45 L421.10 83.84 L421.25 83.24 L421.39 82.64 L421.54 82.05 L421.69 81.46 L421.83 80.87 L421.98 80.28 L422.12 79.70 L422.27 79.12 L422.42 78.54 L422.56 77.97 L422.71 77.40 L422.85 76.83 L423.00 76.27 L423.15 75.70 L423.29 75.15 L423.44 74.59 L423.58 74.04 L423.73 73.49 L423.88 72.95 L424.02 72.41 L424.17 71.87 L424.31 71.34 L424.46 70.81 L424.61 70.28 L424.75 69.76 L424.90 69.24 L425.04 68.72 L425.19 68.20 L425.34 67.70 L425.48 67.19 L425.63 66.69 L425.77 66.19 L425.92 65.69 L426.07 65.20 L426.21 64.71 L426.36 64.23 L426.50 63.75 L426.65 63.27 L426.80 62.80 L426.94 62.33 L427.09 61.86 L427.23 61.40 L427.38 60.94 L427.53 60.49 L427.67 60.04 L427.82 59.59 L427.96 59.15 L428.11 58.71 L428.26 58.28 L428.40 57.85 L428.55 57.42 L428.69 57.00 L428.84 56.58 L428.99 56.17 L429.13 55.76 L429.28 55.36 L429.42 54.96 L429.57 54.56 L429.72 54.17 L429.86 53.78 L430.01 53.40 L430.15 53.02 L430.30 52.64 L430.45 52.27 L430.59 51.91 L430.74 51.55 L430.88 51.19 L431.03 50.84 L431.18 50.49 L431.32 50.15 L431.47 49.81 L431.61 49.48 L431.76 49.15 L431.91 48.83 L432.05 48.51 L432.20 48.20 L432.34 47.89 L432.49 47.59 L432.64 47.29 L432.78 47.00 L432.93 46.71 L433.07 46.43 L433.22 46.15 L433.37 45.88 L433.51 45.61 L433.66 45.35 L433.80 45.09 L433.95 44.84 L434.10 44.60 L434.24 44.36 L434.39 44.12 L434.53 43.90 L434.68 43.67 L434.83 43.46 L434.97 43.25 L435.12 43.04 L435.26 42.84 L435.41 42.65 L435.55 42.46 L435.70 42.28 L435.85 42.10 L435.99 41.93 L436.14 41.77 L436.28 41.62 L436.43 41.47 L436.58 41.32 L436.72 41.18 L436.87 41.05 L437.01 40.93 L437.16 40.81 L437.31 40.70 L437.45 40.60 L437.60 40.50 L437.74 40.41 L437.89 40.32 L438.04 40.25 L438.18 40.18 L438.33 40.12 L438.47 40.06 L438.62 40.01 L438.77 39.97 L438.91 39.94 L439.06 39.91 L439.20 39.89 L439.35 39.88 L439.50 39.88 L439.64 39.88 L439.79 39.89 L439.93 39.91 L440.08 39.93 L440.23 39.97 L440.37 40.01 L440.52 40.06 L440.66 40.12 L440.81 40.18 L440.96 40.25 L441.10 40.34 L441.25 40.42 L441.39 40.52 L441.54 40.62 L441.69 40.74 L441.83 40.85 L441.98 40.98 L442.12 41.12 L442.27 41.26 L442.42 41.41 L442.56 41.56 L442.71 41.73 L442.85 41.90 L443.00 42.07 L443.15 42.26 L443.29 42.44 L443.44 42.64 L443.58 42.84 L443.73 43.05 L443.88 43.26 L444.02 43.47 L444.17 43.69 L444.31 43.92 L444.46 44.14 L444.61 44.37 L444.75 44.60 L444.90 44.83 L445.04 45.06 L445.19 45.30 L445.34 45.53 L445.48 45.75 L445.63 45.98 L445.77 46.20 L445.92 46.42 L446.07 46.63 L446.21 46.83 L446.36 47.03 L446.50 47.22 L446.65 47.39 L446.80 47.56 L446.94 47.71 L447.09 47.85 L447.23 47.98 L447.38 48.10 L447.53 48.19 L447.67 48.28 L447.82 48.34 L447.96 48.39 L448.11 48.43 L448.26 48.44 L448.40 48.44 L448.55 48.42 L448.69 48.39 L448.84 48.34 L448.99 48.28 L449.13 48.20 L449.28 48.10 L449.42 48.00 L449.57 47.88 L449.72 47.75 L449.86 47.61 L450.01 47.46 L450.15 47.31 L450.30 47.15 L450.45 46.98 L450.59 46.81 L450.74 46.64 L450.88 46.46 L451.03 46.29 L451.18 46.11 L451.32 45.94 L451.47 45.77 L451.61 45.60 L451.76 45.44 L451.91 45.29 L452.05 45.13 L452.20 44.99 L452.34 44.85 L452.49 44.72 L452.64 44.60 L452.78 44.49 L452.93 44.39 L453.07 44.30 L453.22 44.22 L453.37 44.15 L453.51 44.10 L453.66 44.05 L453.80 44.02 L453.95 43.99 L454.10 43.98 L454.24 43.99 L454.39 44.00 L454.53 44.03 L454.68 44.08 L454.83 44.13 L454.97 44.20 L455.12 44.28 L455.26 44.37 L455.41 44.48 L455.56 44.60 L455.70 44.73 L455.85 44.87 L455.99 45.02 L456.14 45.19 L456.29 45.36 L456.43 45.55 L456.58 45.74 L456.72 45.94 L456.87 46.15 L457.02 46.37 L457.16 46.59 L457.31 46.82 L457.45 47.05 L457.60 47.28 L457.75 47.52 L457.89 47.75 L458.04 47.98 L458.18 48.21 L458.33 48.43 L458.47 48.64 L458.62 48.84 L458.77 49.04 L458.91 49.22 L459.06 49.39 L459.20 49.54 L459.35 49.67 L459.50 49.79 L459.64 49.89 L459.79 49.96 L459.93 50.02 L460.08 50.06 L460.23 50.07 L460.37 50.06 L460.52 50.03 L460.66 49.98 L460.81 49.91 L460.96 49.82 L461.10 49.72 L461.25 49.60 L461.39 49.47 L461.54 49.32 L461.69 49.17 L461.83 49.00 L461.98 48.83 L462.12 48.66 L462.27 48.48 L462.42 48.30 L462.56 48.13 L462.71 47.95 L462.85 47.78 L463.00 47.62 L463.15 47.46 L463.29 47.31 L463.44 47.17 L463.58 47.05 L463.73 46.93 L463.88 46.83 L464.02 46.74 L464.17 46.66 L464.31 46.60 L464.46 46.56 L464.61 46.53 L464.75 46.52 L464.90 46.52 L465.04 46.55 L465.19 46.58 L465.34 46.64 L465.48 46.71 L465.63 46.80 L465.77 46.91 L465.92 47.03 L466.07 47.17 L466.21 47.32 L466.36 47.49 L466.50 47.67 L466.65 47.86 L466.80 48.07 L466.94 48.28 L467.09 48.51 L467.23 48.74 L467.38 48.97 L467.53 49.22 L467.67 49.46 L467.82 49.70 L467.96 49.94 L468.11 50.17 L468.26 50.40 L468.40 50.61 L468.55 50.82 L468.69 51.01 L468.84 51.18 L468.99 51.33 L469.13 51.46 L469.28 51.57 L469.42 51.65 L469.57 51.71 L469.72 51.74 L469.86 51.74 L470.01 51.72 L470.15 51.68 L470.30 51.61 L470.45 51.52 L470.59 51.40 L470.74 51.27 L470.88 51.13 L471.03 50.97 L471.18 50.80 L471.32 50.62 L471.47 50.44 L471.61 50.25 L471.76 50.06 L471.91 49.88 L472.05 49.70 L472.20 49.53 L472.34 49.36 L472.49 49.21 L472.64 49.07 L472.78 48.94 L472.93 48.83 L473.07 48.74 L473.22 48.66 L473.37 48.60 L473.51 48.56 L473.66 48.54 L473.80 48.55 L473.95 48.57 L474.10 48.61 L474.24 48.68 L474.39 48.76 L474.53 48.87 L474.68 48.99 L474.83 49.14 L474.97 49.30 L475.12 49.48 L475.26 49.68 L475.41 49.89 L475.56 50.11 L475.70 50.34 L475.85 50.59 L475.99 50.84 L476.14 51.09 L476.29 51.34 L476.43 51.59 L476.58 51.84 L476.72 52.07 L476.87 52.30 L477.02 52.51 L477.16 52.70 L477.31 52.87 L477.45 53.01 L477.60 53.13 L477.75 53.22 L477.89 53.28 L478.04 53.31 L478.18 53.31 L478.33 53.28 L478.48 53.22 L478.62 53.13 L478.77 53.02 L478.91 52.88 L479.06 52.73 L479.21 52.56 L479.35 52.38 L479.50 52.19 L479.64 51.99 L479.79 51.79 L479.94 51.60 L480.08 51.41 L480.23 51.22 L480.37 51.05 L480.52 50.89 L480.66 50.74 L480.81 50.62 L480.96 50.51 L481.10 50.42 L481.25 50.35 L481.39 50.31 L481.54 50.29 L481.69 50.30 L481.83 50.32 L481.98 50.38 L482.12 50.46 L482.27 50.56 L482.42 50.69 L482.56 50.84 L482.71 51.01 L482.85 51.20 L483.00 51.41 L483.15 51.63 L483.29 51.87 L483.44 52.12 L483.58 52.38 L483.73 52.65 L483.88 52.91 L484.02 53.18 L484.17 53.43 L484.31 53.68 L484.46 53.91 L484.61 54.12 L484.75 54.30 L484.90 54.46 L485.04 54.59 L485.19 54.69 L485.34 54.75 L485.48 54.78 L485.63 54.77 L485.77 54.73 L485.92 54.65 L486.07 54.55 L486.21 54.41 L486.36 54.26 L486.50 54.08 L486.65 53.89 L486.80 53.69 L486.94 53.48 L487.09 53.27 L487.23 53.07 L487.38 52.87 L487.53 52.67 L487.67 52.50 L487.82 52.34 L487.96 52.20 L488.11 52.08 L488.26 51.98 L488.40 51.91 L488.55 51.87 L488.69 51.85 L488.84 51.87 L488.99 51.91 L489.13 51.98 L489.28 52.08 L489.42 52.20 L489.57 52.36 L489.72 52.53 L489.86 52.73 L490.01 52.96 L490.15 53.20 L490.30 53.45 L490.45 53.72 L490.59 53.99 L490.74 54.27 L490.88 54.55 L491.03 54.82 L491.18 55.08 L491.32 55.32 L491.47 55.54 L491.61 55.73 L491.76 55.89 L491.91 56.01 L492.05 56.10 L492.20 56.15 L492.34 56.16 L492.49 56.12 L492.64 56.05 L492.78 55.95 L492.93 55.81 L493.07 55.65 L493.22 55.46 L493.37 55.26 L493.51 55.04 L493.66 54.82 L493.80 54.60 L493.95 54.39 L494.10 54.18 L494.24 53.99 L494.39 53.81 L494.53 53.66 L494.68 53.53 L494.83 53.43 L494.97 53.35 L495.12 53.31 L495.26 53.30 L495.41 53.32 L495.56 53.37 L495.70 53.46 L495.85 53.58 L495.99 53.73 L496.14 53.91 L496.29 54.11 L496.43 54.34 L496.58 54.60 L496.72 54.87 L496.87 55.15 L497.02 55.44 L497.16 55.73 L497.31 56.02 L497.45 56.30 L497.60 56.57 L497.75 56.81 L497.89 57.02 L498.04 57.20 L498.18 57.34 L498.33 57.44 L498.48 57.50 L498.62 57.51 L498.77 57.47 L498.91 57.40 L499.06 57.28 L499.21 57.13 L499.35 56.95 L499.50 56.74 L499.64 56.53 L499.79 56.30 L499.94 56.07 L500.08 55.84 L500.23 55.62 L500.37 55.42 L500.52 55.23 L500.67 55.08 L500.81 54.94 L500.96 54.84 L501.10 54.78 L501.25 54.75 L501.40 54.75 L501.54 54.80 L501.69 54.88 L501.83 54.99 L501.98 55.15 L502.13 55.34 L502.27 55.56 L502.42 55.81 L502.56 56.08 L502.71 56.38 L502.86 56.69 L503.00 57.01 L503.15 57.33 L503.29 57.65 L503.44 57.96 L503.58 58.25 L503.73 58.51 L503.88 58.74 L504.02 58.92 L504.17 59.06 L504.31 59.15 L504.46 59.19 L504.61 59.18 L504.75 59.12 L504.90 59.01 L505.04 58.86 L505.19 58.69 L505.34 58.48 L505.48 58.26 L505.63 58.03 L505.77 57.81 L505.92 57.58 L506.07 57.38 L506.21 57.19 L506.36 57.03 L506.50 56.91 L506.65 56.81 L506.80 56.76 L506.94 56.75 L507.09 56.79 L507.23 56.87 L507.38 57.00 L507.53 57.17 L507.67 57.39 L507.82 57.65 L507.96 57.95 L508.11 58.29 L508.26 58.67 L508.40 59.07 L508.55 59.49 L508.69 59.92 L508.84 60.36 L508.99 60.79 L509.13 61.20 L509.28 61.59 L509.42 61.95 L509.57 62.25 L509.72 62.50 L509.86 62.69 L510.01 62.81 L510.15 62.87 L510.30 62.87 L510.45 62.81 L510.59 62.70 L510.74 62.55 L510.88 62.37 L511.03 62.17 L511.18 61.97 L511.32 61.77 L511.47 61.59 L511.61 61.44 L511.76 61.32 L511.91 61.25 L512.05 61.23 L512.20 61.27 L512.34 61.37 L512.49 61.53 L512.64 61.77 L512.78 62.08 L512.93 62.47 L513.07 62.94 L513.22 63.48 L513.37 64.10 L513.51 64.80 L513.66 65.57 L513.80 66.41 L513.95 67.31 L514.10 68.27 L514.24 69.26 L514.39 70.27 L514.53 71.29 L514.68 72.28 L514.83 73.22 L514.97 74.08 L515.12 74.82 L515.26 75.42 L515.41 75.87 L515.56 76.15 L515.70 76.27 L515.85 76.26 L515.99 76.13 L516.14 75.92 L516.29 75.67 L516.43 75.42 L516.58 75.19 L516.72 75.02 L516.87 74.93 L517.02 74.95 L517.16 75.12 L517.31 75.44 L517.45 75.95 L517.60 76.68 L517.75 77.68 L517.89 78.99 L518.04 80.71 L518.18 82.96 L518.33 85.99 L518.48 90.27 L518.62 97.10 L518.77 113.25 L518.91 108.06 L519.06 95.53 L519.21 89.50 L519.35 85.62 L519.50 82.88 L519.64 80.87 L519.79 79.37 L519.94 78.27 L520.08 77.49 L520.23 77.00 L520.37 76.75 L520.52 76.72 L520.67 76.89 L520.81 77.24 L520.96 77.75 L521.10 78.40 L521.25 79.17 L521.40 80.04 L521.54 80.95 L521.69 81.86 L521.83 82.70 L521.98 83.42 L522.13 83.92 L522.27 84.16 L522.42 84.10 L522.56 83.73 L522.71 83.07 L522.86 82.19 L523.00 81.16 L523.15 80.05 L523.29 78.91 L523.44 77.80 L523.59 76.76 L523.73 75.82 L523.88 74.99 L524.02 74.30 L524.17 73.76 L524.32 73.37 L524.46 73.14 L524.61 73.08 L524.75 73.20 L524.90 73.51 L525.05 74.02 L525.19 74.74 L525.34 75.69 L525.48 76.90 L525.63 78.41 L525.77 80.26 L525.92 82.53 L526.07 85.34 L526.21 88.89 L526.36 93.57 L526.50 100.36 L526.65 113.05 L526.80 123.14 L526.94 106.39 L527.09 100.56 L527.23 97.56 L527.38 96.02 L527.53 95.45 L527.67 95.65 L527.82 96.54 L527.96 98.11 L528.11 100.39 L528.26 103.51 L528.40 107.65 L528.55 113.11 L528.69 120.25 L528.84 128.80 L528.99 133.76 L529.13 127.78 L529.28 118.22 L529.42 110.06 L529.57 103.54 L529.72 98.28 L529.86 93.96 L530.01 90.36 L530.15 87.34 L530.30 84.80 L530.45 82.66 L530.59 80.88 L530.74 79.42 L530.88 78.24 L531.03 77.33 L531.18 76.68 L531.32 76.27 L531.47 76.11 L531.61 76.18 L531.76 76.50 L531.91 77.07 L532.05 77.90 L532.20 79.03 L532.34 80.47 L532.49 82.27 L532.64 84.49 L532.78 87.24 L532.93 90.68 L533.07 95.11 L533.22 101.17 L533.37 110.85 L533.51 145.40 L533.66 116.26 L533.80 108.82 L533.95 105.90 L534.10 105.12 L534.24 105.93 L534.39 108.35 L534.53 113.06 L534.68 122.87 L534.83 142.61 L534.97 118.57 L535.12 111.47 L535.26 107.95 L535.41 106.44 L535.56 106.59 L535.70 108.72 L535.85 114.36 L535.99 136.29 L536.14 115.86 L536.29 104.21 L536.43 97.51 L536.58 92.78 L536.72 89.18 L536.87 86.35 L537.02 84.11 L537.16 82.33 L537.31 80.95 L537.45 79.93 L537.60 79.23 L537.75 78.84 L537.89 78.76 L538.04 78.97 L538.18 79.49 L538.33 80.34 L538.48 81.55 L538.62 83.16 L538.77 85.25 L538.91 87.95 L539.06 91.46 L539.21 96.23 L539.35 103.34 L539.50 117.61 L539.64 121.33 L539.79 107.54 L539.94 102.36 L540.08 99.84 L540.23 98.78 L540.37 98.80 L540.52 99.77 L540.67 101.70 L540.81 104.77 L540.96 109.45 L541.10 116.97 L541.25 133.49 L541.40 132.55 L541.54 122.19 L541.69 120.28 L541.83 124.01 L541.98 152.06 L542.13 120.39 L542.27 108.66 L542.42 101.54 L542.56 96.42 L542.71 92.49 L542.86 89.39 L543.00 86.92 L543.15 84.98 L543.29 83.48 L543.44 82.39 L543.59 81.66 L543.73 81.30 L543.88 81.30 L544.02 81.66 L544.17 82.41 L544.32 83.61 L544.46 85.31 L544.61 87.66 L544.75 90.90 L544.90 95.53 L545.05 102.94 L545.19 121.02 L545.34 113.13 L545.48 101.98 L545.63 96.87 L545.78 93.95 L545.92 92.26 L546.07 91.44 L546.21 91.29 L546.36 91.74 L546.51 92.76 L546.65 94.32 L546.80 96.45 L546.94 99.16 L547.09 102.46 L547.24 106.25 L547.38 110.13 L547.53 113.15 L547.67 113.85 L547.82 111.69 L547.97 107.77 L548.11 103.44 L548.26 99.38 L548.40 95.85 L548.55 92.87 L548.69 90.42 L548.84 88.47 L548.99 86.97 L549.13 85.91 L549.28 85.27 L549.42 85.07 L549.57 85.31 L549.72 86.05 L549.86 87.37 L550.01 89.41 L550.15 92.46 L550.30 97.17 L550.45 105.56 L550.59 143.16 L550.74 107.19 L550.88 98.21 L551.03 93.40 L551.18 90.38 L551.32 88.44 L551.47 87.26 L551.61 86.69 L551.76 86.65 L551.91 87.10 L552.05 88.02 L552.20 89.43 L552.34 91.34 L552.49 93.81 L552.64 96.88 L552.78 100.62 L552.93 105.05 L553.07 110.03 L553.22 114.82 L553.37 117.63 L553.51 116.69 L553.66 112.87 L553.80 108.24 L553.95 103.98 L554.10 100.41 L554.24 97.58 L554.39 95.43 L554.53 93.94 L554.68 93.09 L554.83 92.88 L554.97 93.38 L555.12 94.74 L555.26 97.27 L555.41 101.71 L555.56 110.67 L555.70 136.19 L555.85 106.69 L555.99 98.30 L556.14 93.39 L556.29 90.12 L556.43 87.86 L556.58 86.35 L556.72 85.45 L556.87 85.08 L557.02 85.21 L557.16 85.85 L557.31 87.01 L557.45 88.77 L557.60 91.24 L557.75 94.65 L557.89 99.47 L558.04 106.95 L558.18 123.34 L558.33 121.13 L558.48 109.58 L558.62 105.18 L558.77 103.36 L558.91 103.17 L559.06 104.34 L559.21 106.97 L559.35 111.61 L559.50 120.10 L559.64 151.34 L559.79 124.93 L559.94 117.44 L560.08 115.29 L560.23 116.74 L560.37 123.98 L560.52 140.26 L560.67 114.73 L560.81 105.47 L560.96 99.63 L561.10 95.50 L561.25 92.46 L561.40 90.24 L561.54 88.70 L561.69 87.75 L561.83 87.38 L561.98 87.57 L562.13 88.36 L562.27 89.87 L562.42 92.27 L562.56 95.98 L562.71 102.05 L562.86 115.03 L563.00 119.12 L563.15 103.94 L563.29 97.77 L563.44 94.27 L563.59 92.20 L563.73 91.10 L563.88 90.77 L564.02 91.12 L564.17 92.11 L564.32 93.77 L564.46 96.14 L564.61 99.34 L564.75 103.55 L564.90 109.06 L565.05 116.33 L565.19 125.70 L565.34 134.62 L565.48 132.51 L565.63 123.00 L565.78 114.72 L565.92 108.53 L566.07 103.96 L566.21 100.63 L566.36 98.31 L566.51 96.89 L566.65 96.31 L566.80 96.62 L566.94 97.98 L567.09 100.80 L567.24 106.18 L567.38 119.35 L567.53 119.20 L567.67 104.55 L567.82 97.90 L567.97 93.80 L568.11 91.09 L568.26 89.34 L568.40 88.36 L568.55 88.04 L568.70 88.36 L568.84 89.34 L568.99 91.05 L569.13 93.66 L569.28 97.53 L569.43 103.53 L569.57 114.92 L569.72 130.12 L569.86 110.31 L570.01 104.17 L570.16 101.27 L570.30 100.11 L570.45 100.20 L570.59 101.41 L570.74 103.78 L570.88 107.54 L571.03 113.30 L571.18 122.77 L571.32 147.42 L571.47 136.19 L571.61 133.81 L571.76 168.53 L571.91 125.26 L572.05 113.33 L572.20 106.13 L572.34 101.15 L572.49 97.57 L572.64 95.02 L572.78 93.32 L572.93 92.39 L573.07 92.21 L573.22 92.82 L573.37 94.36 L573.51 97.15 L573.66 101.96 L573.80 111.61 L573.95 132.66 L574.10 107.28 L574.24 99.64 L574.39 95.42 L574.53 92.88 L574.68 91.44 L574.83 90.88 L574.97 91.08 L575.12 92.02 L575.26 93.75 L575.41 96.41 L575.56 100.27 L575.70 106.00 L575.85 115.59 L575.99 152.40 L576.14 121.04 L576.29 114.39 L576.43 112.68 L576.58 113.93 L576.72 118.55 L576.87 131.42 L577.02 131.92 L577.16 117.82 L577.31 112.27 L577.45 109.87 L577.60 109.74 L577.75 112.15 L577.89 119.30 L578.04 150.70 L578.18 114.49 L578.33 105.18 L578.48 99.71 L578.62 96.10 L578.77 93.70 L578.91 92.24 L579.06 91.59 L579.21 91.75 L579.35 92.75 L579.50 94.77 L579.64 98.18 L579.79 104.02 L579.94 116.68 L580.08 121.64 L580.23 106.17 L580.37 100.10 L580.52 96.82 L580.67 95.10 L580.81 94.48 L580.96 94.80 L581.10 96.00 L581.25 98.14 L581.40 101.38 L581.54 106.07 L581.69 113.06 L581.83 125.13 L581.98 153.43 L582.13 129.82 L582.27 129.38 L582.42 144.51 L582.56 129.85 L582.71 116.99 L582.86 110.35 L583.00 106.36 L583.15 104.10 L583.29 103.28 L583.44 103.93 L583.59 106.45 L583.73 112.30 L583.88 131.43 L584.02 117.12 L584.17 105.65 L584.32 99.76 L584.46 96.11 L584.61 93.83 L584.75 92.59 L584.90 92.25 L585.05 92.78 L585.19 94.26 L585.34 96.93 L585.48 101.37 L585.63 109.33 L585.78 135.90 L585.92 114.07 L586.07 105.02 L586.21 100.84 L586.36 98.80 L586.51 98.16 L586.65 98.66 L586.80 100.24 L586.94 102.99 L587.09 107.17 L587.24 113.42 L587.38 123.44 L587.53 147.38 L587.67 141.06 L587.82 144.65 L587.97 138.07 L588.11 120.99 L588.26 112.50 L588.40 107.18 L588.55 103.76 L588.70 101.76 L588.84 101.03 L588.99 101.61 L589.13 103.81 L589.28 108.64 L589.43 120.70 L589.57 123.37 L589.72 107.69 L589.86 101.00 L590.01 97.11 L590.16 94.80 L590.30 93.64 L590.45 93.47 L590.59 94.27 L590.74 96.15 L590.89 99.40 L591.03 104.86 L591.18 115.55 L591.32 133.45 L591.47 111.67 L591.62 105.32 L591.76 102.44 L591.91 101.44 L592.05 101.86 L592.20 103.60 L592.35 106.77 L592.49 111.82 L592.64 119.91 L592.78 135.93 L592.93 144.29 L593.08 137.63 L593.22 200.00 L593.37 126.97 L593.51 115.59 L593.66 108.95 L593.80 104.69 L593.95 102.04 L594.10 100.71 L594.24 100.64 L594.39 101.99 L594.53 105.30 L594.68 112.44 L594.83 143.00 L594.97 113.83 L595.12 104.29 L595.26 99.37 L595.41 96.53 L595.56 95.08 L595.70 94.74 L595.85 95.46 L595.99 97.33 L596.14 100.66 L596.29 106.31 L596.43 117.58 L596.58 131.99 L596.72 112.69 L596.87 106.85 L597.02 104.42 L597.16 103.96 L597.31 105.07 L597.45 107.77 L597.60 112.46 L597.75 120.35 L597.89 137.14 L598.04 140.49 L598.18 133.50 L598.33 145.28 L598.48 131.71 L598.62 117.56 L598.77 110.11 L598.91 105.47 L599.06 102.60 L599.21 101.16 L599.35 101.04 L599.50 102.40 L599.64 105.80 L599.79 113.22 L599.94 151.19 L600.08 113.62 L600.23 104.52 L600.37 99.85 L600.52 97.27 L600.67 96.11 L600.81 96.13 L600.96 97.31 L601.10 99.85 L601.25 104.26 L601.40 112.24 L601.54 137.07 L601.69 118.57 L601.83 109.89 L601.98 106.48 L602.13 105.52 L602.27 106.37 L602.42 108.98 L602.56 113.76 L602.71 122.17 L602.86 142.68 L603.00 137.06 L603.15 132.30 L603.29 144.48 L603.44 131.44 L603.59 117.45 L603.73 110.18 L603.88 105.74 L604.02 103.12 L604.17 102.00 L604.32 102.33 L604.46 104.38 L604.61 109.12 L604.75 120.91 L604.90 125.07 L605.05 109.12 L605.19 102.69 L605.34 99.23 L605.48 97.51 L605.63 97.14 L605.78 98.02 L605.92 100.28 L606.07 104.41 L606.21 111.93 L606.36 133.02 L606.51 120.17 L606.65 110.80 L606.80 107.24 L606.94 106.28 L607.09 107.22 L607.24 110.04 L607.38 115.25 L607.53 124.67 L607.67 154.22 L607.82 135.34 L607.97 133.51 L608.11 159.02 L608.26 127.55 L608.40 115.98 L608.55 109.65 L608.70 105.87 L608.84 103.89 L608.99 103.50 L609.13 104.82 L609.28 108.54 L609.43 117.40 L609.57 138.02 L609.72 112.32 L609.86 104.66 L610.01 100.69 L610.16 98.69 L610.30 98.17 L610.45 99.00 L610.59 101.33 L610.74 105.71 L610.89 114.05 L611.03 147.02 L611.18 117.89 L611.32 110.03 L611.47 106.99 L611.62 106.39 L611.76 107.70 L611.91 110.97 L612.05 116.86 L612.20 127.85 L612.35 166.88 L612.49 134.71 L612.64 136.68 L612.78 149.23 L612.93 123.79 L613.08 114.56 L613.22 109.36 L613.37 106.49 L613.51 105.45 L613.66 106.26 L613.81 109.47 L613.95 117.49 L614.10 147.21 L614.24 114.07 L614.39 105.92 L614.54 101.76 L614.68 99.70 L614.83 99.21 L614.97 100.17 L615.12 102.81 L615.27 107.88 L615.41 118.43 L615.56 135.62 L615.70 114.45 L615.85 108.51 L615.99 106.26 L616.14 106.20 L616.29 108.01 L616.43 111.89 L616.58 118.75 L616.72 132.39 L616.87 146.11 L617.02 133.80 L617.16 139.95 L617.31 139.36 L617.45 121.85 L617.60 114.18 L617.75 110.03 L617.89 108.19 L618.04 108.45 L618.18 111.27 L618.33 119.00 L618.48 148.33 L618.62 115.18 L618.77 106.94 L618.91 102.75 L619.06 100.71 L619.21 100.33 L619.35 101.52 L619.50 104.63 L619.64 110.80 L619.79 126.29 L619.94 123.25 L620.08 111.40 L620.23 106.97 L620.37 105.46 L620.52 105.97 L620.67 108.34 L620.81 112.97 L620.96 121.25 L621.10 141.21 L621.25 136.51 L621.40 131.05 L621.54 138.66 L621.69 139.23 L621.83 122.34 L621.98 115.40 L622.13 112.12 L622.27 111.47 L622.42 113.65 L622.56 120.87 L622.71 151.66 L622.86 116.77 L623.00 108.31 L623.15 104.00 L623.29 101.94 L623.44 101.63 L623.59 103.04 L623.73 106.66 L623.88 114.29 L624.02 144.78 L624.17 117.56 L624.32 109.19 L624.46 105.76 L624.61 104.83 L624.75 105.82 L624.90 108.77 L625.05 114.30 L625.19 124.84"/>
<path stroke="#00f" stroke-width="0.85" d="M407.53 167.28 L407.67 166.44 L407.82 165.61 L407.96 164.78 L408.11 163.94 L408.26 163.12 L408.40 162.29 L408.55 161.47 L408.69 160.64 L408.84 159.82 L408.99 159.00 L409.13 158.19 L409.28 157.37 L409.42 156.56 L409.57 155.75 L409.72 154.94 L409.86 154.14 L410.01 153.33 L410.15 152.53 L410.30 151.73 L410.45 150.93 L410.59 150.14 L410.74 149.35 L410.88 148.55 L411.03 147.77 L411.18 146.98 L411.32 146.19 L411.47 145.41 L411.61 144.63 L411.76 143.85 L411.91 143.08 L412.05 142.30 L412.20 141.53 L412.34 140.76 L412.49 140.00 L412.64 139.23 L412.78 138.47 L412.93 137.71 L413.07 136.95 L413.22 136.20 L413.36 135.44 L413.51 134.69 L413.66 133.95 L413.80 133.20 L413.95 132.46 L414.09 131.71 L414.24 130.98 L414.39 130.24 L414.53 129.51 L414.68 128.77 L414.82 128.04 L414.97 127.32 L415.12 126.59 L415.26 125.87 L415.41 125.15 L415.55 124.43 L415.70 123.72 L415.85 123.01 L415.99 122.30 L416.14 121.59 L416.28 120.89 L416.43 120.19 L416.58 119.49 L416.72 118.79 L416.87 118.10 L417.01 117.40 L417.16 116.72 L417.31 116.03 L417.45 115.35 L417.60 114.66 L417.74 113.99 L417.89 113.31 L418.04 112.64 L418.18 111.97 L418.33 111.30 L418.47 110.63 L418.62 109.97 L418.77 109.31 L418.91 108.66 L419.06 108.00 L419.20 107.35 L419.35 106.70 L419.50 106.06 L419.64 105.42 L419.79 104.78 L419.93 104.14 L420.08 103.51 L420.23 102.87 L420.37 102.25 L420.52 101.62 L420.66 101.00 L420.81 100.38 L420.96 99.76 L421.10 99.15 L421.25 98.54 L421.39 97.93 L421.54 97.33 L421.69 96.73 L421.83 96.13 L421.98 95.54 L422.12 94.94 L422.27 94.36 L422.42 93.77 L422.56 93.19 L422.71 92.61 L422.85 92.03 L423.00 91.46 L423.15 90.89 L423.29 90.32 L423.44 89.76 L423.58 89.20 L423.73 88.64 L423.88 88.09 L424.02 87.54 L424.17 87.00 L424.31 86.45 L424.46 85.91 L424.61 85.38 L424.75 84.85 L424.90 84.32 L425.04 83.79 L425.19 83.27 L425.34 82.75 L425.48 82.23 L425.63 81.72 L425.77 81.22 L425.92 80.71 L426.07 80.21 L426.21 79.71 L426.36 79.22 L426.50 78.73 L426.65 78.25 L426.80 77.76 L426.94 77.29 L427.09 76.81 L427.23 76.34 L427.38 75.88 L427.53 75.41 L427.67 74.95 L427.82 74.50 L427.96 74.05 L428.11 73.60 L428.26 73.16 L428.40 72.72 L428.55 72.29 L428.69 71.86 L428.84 71.43 L428.99 71.01 L429.13 70.59 L429.28 70.18 L429.42 69.77 L429.57 69.36 L429.72 68.96 L429.86 68.56 L430.01 68.17 L430.15 67.78 L430.30 67.40 L430.45 67.02 L430.59 66.65 L430.74 66.28 L430.88 65.91 L431.03 65.55 L431.18 65.20 L431.32 64.85 L431.47 64.50 L431.61 64.16 L431.76 63.82 L431.91 63.49 L432.05 63.17 L432.20 62.84 L432.34 62.53 L432.49 62.21 L432.64 61.91 L432.78 61.61 L432.93 61.31 L433.07 61.02 L433.22 60.73 L433.37 60.45 L433.51 60.18 L433.66 59.91 L433.80 59.64 L433.95 59.38 L434.10 59.13 L434.24 58.88 L434.39 58.64 L434.53 58.40 L434.68 58.17 L434.83 57.94 L434.97 57.72 L435.12 57.51 L435.26 57.30 L435.41 57.10 L435.55 56.90 L435.70 56.71 L435.85 56.53 L435.99 56.35 L436.14 56.18 L436.28 56.02 L436.43 55.86 L436.58 55.70 L436.72 55.56 L436.87 55.42 L437.01 55.29 L437.16 55.16 L437.31 55.04 L437.45 54.93 L437.60 54.82 L437.74 54.72 L437.89 54.63 L438.04 54.54 L438.18 54.46 L438.33 54.39 L438.47 54.33 L438.62 54.27 L438.77 54.22 L438.91 54.18 L439.06 54.14 L439.20 54.12 L439.35 54.10 L439.50 54.08 L439.64 54.08 L439.79 54.08 L439.93 54.09 L440.08 54.11 L440.23 54.13 L440.37 54.17 L440.52 54.21 L440.66 54.26 L440.81 54.31 L440.96 54.38 L441.10 54.45 L441.25 54.53 L441.39 54.61 L441.54 54.71 L441.69 54.81 L441.83 54.92 L441.98 55.04 L442.12 55.17 L442.27 55.30 L442.42 55.44 L442.56 55.59 L442.71 55.74 L442.85 55.90 L443.00 56.07 L443.15 56.24 L443.29 56.43 L443.44 56.61 L443.58 56.80 L443.73 57.00 L443.88 57.20 L444.02 57.41 L444.17 57.62 L444.31 57.84 L444.46 58.05 L444.61 58.27 L444.75 58.49 L444.90 58.72 L445.04 58.94 L445.19 59.16 L445.34 59.38 L445.48 59.60 L445.63 59.82 L445.77 60.03 L445.92 60.24 L446.07 60.44 L446.21 60.64 L446.36 60.83 L446.50 61.00 L446.65 61.17 L446.80 61.33 L446.94 61.48 L447.09 61.61 L447.23 61.73 L447.38 61.83 L447.53 61.92 L447.67 62.00 L447.82 62.05 L447.96 62.09 L448.11 62.12 L448.26 62.13 L448.40 62.12 L448.55 62.09 L448.69 62.05 L448.84 61.99 L448.99 61.92 L449.13 61.83 L449.28 61.73 L449.42 61.61 L449.57 61.48 L449.72 61.35 L449.86 61.20 L450.01 61.04 L450.15 60.88 L450.30 60.71 L450.45 60.53 L450.59 60.36 L450.74 60.17 L450.88 59.99 L451.03 59.81 L451.18 59.62 L451.32 59.44 L451.47 59.26 L451.61 59.09 L451.76 58.92 L451.91 58.75 L452.05 58.59 L452.20 58.44 L452.34 58.29 L452.49 58.16 L452.64 58.03 L452.78 57.91 L452.93 57.80 L453.07 57.70 L453.22 57.61 L453.37 57.53 L453.51 57.47 L453.66 57.41 L453.80 57.37 L453.95 57.34 L454.10 57.32 L454.24 57.32 L454.39 57.32 L454.53 57.34 L454.68 57.38 L454.83 57.42 L454.97 57.48 L455.12 57.55 L455.26 57.64 L455.41 57.74 L455.56 57.85 L455.70 57.97 L455.85 58.10 L455.99 58.25 L456.14 58.40 L456.29 58.57 L456.43 58.74 L456.58 58.93 L456.72 59.12 L456.87 59.32 L457.02 59.53 L457.16 59.75 L457.31 59.96 L457.45 60.19 L457.60 60.41 L457.75 60.63 L457.89 60.86 L458.04 61.08 L458.18 61.30 L458.33 61.51 L458.47 61.71 L458.62 61.91 L458.77 62.10 L458.91 62.27 L459.06 62.43 L459.20 62.57 L459.35 62.70 L459.50 62.80 L459.64 62.89 L459.79 62.96 L459.93 63.01 L460.08 63.03 L460.23 63.04 L460.37 63.02 L460.52 62.98 L460.66 62.93 L460.81 62.85 L460.96 62.75 L461.10 62.64 L461.25 62.51 L461.39 62.37 L461.54 62.21 L461.69 62.05 L461.83 61.88 L461.98 61.70 L462.12 61.51 L462.27 61.33 L462.42 61.14 L462.56 60.96 L462.71 60.77 L462.85 60.60 L463.00 60.42 L463.15 60.26 L463.29 60.10 L463.44 59.95 L463.58 59.82 L463.73 59.69 L463.88 59.58 L464.02 59.48 L464.17 59.40 L464.31 59.33 L464.46 59.28 L464.61 59.24 L464.75 59.22 L464.90 59.22 L465.04 59.23 L465.19 59.26 L465.34 59.31 L465.48 59.37 L465.63 59.45 L465.77 59.55 L465.92 59.66 L466.07 59.79 L466.21 59.94 L466.36 60.09 L466.50 60.27 L466.65 60.45 L466.80 60.65 L466.94 60.85 L467.09 61.07 L467.23 61.29 L467.38 61.52 L467.53 61.75 L467.67 61.99 L467.82 62.22 L467.96 62.45 L468.11 62.67 L468.26 62.89 L468.40 63.10 L468.55 63.29 L468.69 63.47 L468.84 63.64 L468.99 63.78 L469.13 63.90 L469.28 64.00 L469.42 64.07 L469.57 64.12 L469.72 64.14 L469.86 64.14 L470.01 64.11 L470.15 64.06 L470.30 63.98 L470.45 63.88 L470.59 63.76 L470.74 63.62 L470.88 63.47 L471.03 63.30 L471.18 63.12 L471.32 62.93 L471.47 62.74 L471.61 62.54 L471.76 62.35 L471.91 62.16 L472.05 61.97 L472.20 61.79 L472.34 61.61 L472.49 61.45 L472.64 61.30 L472.78 61.17 L472.93 61.05 L473.07 60.94 L473.22 60.86 L473.37 60.79 L473.51 60.75 L473.66 60.72 L473.80 60.71 L473.95 60.73 L474.10 60.76 L474.24 60.82 L474.39 60.89 L474.53 60.99 L474.68 61.11 L474.83 61.24 L474.97 61.40 L475.12 61.57 L475.26 61.76 L475.41 61.96 L475.56 62.17 L475.70 62.40 L475.85 62.63 L475.99 62.87 L476.14 63.12 L476.29 63.36 L476.43 63.60 L476.58 63.84 L476.72 64.07 L476.87 64.28 L477.02 64.48 L477.16 64.67 L477.31 64.83 L477.45 64.96 L477.60 65.07 L477.75 65.15 L477.89 65.21 L478.04 65.23 L478.18 65.22 L478.33 65.18 L478.48 65.11 L478.62 65.01 L478.77 64.89 L478.91 64.75 L479.06 64.59 L479.21 64.41 L479.35 64.22 L479.50 64.02 L479.64 63.81 L479.79 63.61 L479.94 63.40 L480.08 63.20 L480.23 63.01 L480.37 62.83 L480.52 62.66 L480.66 62.51 L480.81 62.37 L480.96 62.25 L481.10 62.16 L481.25 62.08 L481.39 62.03 L481.54 62.00 L481.69 62.00 L481.83 62.02 L481.98 62.06 L482.12 62.13 L482.27 62.23 L482.42 62.35 L482.56 62.49 L482.71 62.65 L482.85 62.83 L483.00 63.03 L483.15 63.25 L483.29 63.48 L483.44 63.72 L483.58 63.97 L483.73 64.23 L483.88 64.49 L484.02 64.74 L484.17 64.99 L484.31 65.22 L484.46 65.45 L484.61 65.65 L484.75 65.82 L484.90 65.98 L485.04 66.10 L485.19 66.18 L485.34 66.24 L485.48 66.26 L485.63 66.24 L485.77 66.19 L485.92 66.11 L486.07 65.99 L486.21 65.85 L486.36 65.69 L486.50 65.50 L486.65 65.30 L486.80 65.09 L486.94 64.88 L487.09 64.66 L487.23 64.44 L487.38 64.23 L487.53 64.03 L487.67 63.85 L487.82 63.68 L487.96 63.53 L488.11 63.40 L488.26 63.30 L488.40 63.22 L488.55 63.17 L488.69 63.15 L488.84 63.15 L488.99 63.18 L489.13 63.25 L489.28 63.34 L489.42 63.45 L489.57 63.60 L489.72 63.77 L489.86 63.96 L490.01 64.17 L490.15 64.40 L490.30 64.65 L490.45 64.91 L490.59 65.17 L490.74 65.44 L490.88 65.71 L491.03 65.97 L491.18 66.22 L491.32 66.46 L491.47 66.67 L491.61 66.85 L491.76 67.00 L491.91 67.12 L492.05 67.20 L492.20 67.24 L492.34 67.24 L492.49 67.20 L492.64 67.12 L492.78 67.00 L492.93 66.86 L493.07 66.69 L493.22 66.49 L493.37 66.28 L493.51 66.06 L493.66 65.83 L493.80 65.60 L493.95 65.37 L494.10 65.16 L494.24 64.96 L494.39 64.77 L494.53 64.61 L494.68 64.47 L494.83 64.36 L494.97 64.28 L495.12 64.23 L495.26 64.21 L495.41 64.22 L495.56 64.27 L495.70 64.35 L495.85 64.46 L495.99 64.60 L496.14 64.77 L496.29 64.97 L496.43 65.19 L496.58 65.43 L496.72 65.69 L496.87 65.97 L497.02 66.25 L497.16 66.53 L497.31 66.81 L497.45 67.09 L497.60 67.34 L497.75 67.58 L497.89 67.78 L498.04 67.95 L498.18 68.09 L498.33 68.18 L498.48 68.22 L498.62 68.23 L498.77 68.18 L498.91 68.10 L499.06 67.97 L499.21 67.81 L499.35 67.62 L499.50 67.41 L499.64 67.18 L499.79 66.95 L499.94 66.71 L500.08 66.47 L500.23 66.25 L500.37 66.03 L500.52 65.84 L500.67 65.68 L500.81 65.54 L500.96 65.43 L501.10 65.35 L501.25 65.31 L501.40 65.31 L501.54 65.35 L501.69 65.42 L501.83 65.53 L501.98 65.67 L502.13 65.85 L502.27 66.06 L502.42 66.31 L502.56 66.57 L502.71 66.86 L502.86 67.16 L503.00 67.48 L503.15 67.79 L503.29 68.10 L503.44 68.40 L503.58 68.68 L503.73 68.93 L503.88 69.15 L504.02 69.33 L504.17 69.46 L504.31 69.54 L504.46 69.57 L504.61 69.55 L504.75 69.48 L504.90 69.37 L505.04 69.21 L505.19 69.03 L505.34 68.82 L505.48 68.59 L505.63 68.35 L505.77 68.11 L505.92 67.88 L506.07 67.67 L506.21 67.48 L506.36 67.31 L506.50 67.17 L506.65 67.07 L506.80 67.01 L506.94 67.00 L507.09 67.02 L507.23 67.10 L507.38 67.21 L507.53 67.38 L507.67 67.59 L507.82 67.84 L507.96 68.14 L508.11 68.47 L508.26 68.83 L508.40 69.22 L508.55 69.64 L508.69 70.06 L508.84 70.49 L508.99 70.92 L509.13 71.32 L509.28 71.70 L509.42 72.05 L509.57 72.34 L509.72 72.59 L509.86 72.77 L510.01 72.88 L510.15 72.93 L510.30 72.92 L510.45 72.85 L510.59 72.73 L510.74 72.57 L510.88 72.39 L511.03 72.18 L511.18 71.97 L511.32 71.77 L511.47 71.58 L511.61 71.42 L511.76 71.29 L511.91 71.21 L512.05 71.18 L512.20 71.21 L512.34 71.30 L512.49 71.46 L512.64 71.69 L512.78 72.00 L512.93 72.37 L513.07 72.83 L513.22 73.37 L513.37 73.98 L513.51 74.67 L513.66 75.43 L513.80 76.26 L513.95 77.16 L514.10 78.10 L514.24 79.09 L514.39 80.10 L514.53 81.11 L514.68 82.09 L514.83 83.02 L514.97 83.87 L515.12 84.60 L515.26 85.19 L515.41 85.63 L515.56 85.91 L515.70 86.02 L515.85 86.00 L515.99 85.86 L516.14 85.65 L516.29 85.39 L516.43 85.13 L516.58 84.89 L516.72 84.71 L516.87 84.61 L517.02 84.63 L517.16 84.78 L517.31 85.10 L517.45 85.60 L517.60 86.32 L517.75 87.31 L517.89 88.62 L518.04 90.33 L518.18 92.57 L518.33 95.59 L518.48 99.86 L518.62 106.69 L518.77 122.83 L518.91 117.63 L519.06 105.10 L519.21 99.05 L519.35 95.17 L519.50 92.42 L519.64 90.40 L519.79 88.89 L519.94 87.78 L520.08 87.00 L520.23 86.50 L520.37 86.24 L520.52 86.20 L520.67 86.36 L520.81 86.70 L520.96 87.20 L521.10 87.85 L521.25 88.62 L521.40 89.47 L521.54 90.37 L521.69 91.27 L521.83 92.11 L521.98 92.82 L522.13 93.32 L522.27 93.55 L522.42 93.48 L522.56 93.09 L522.71 92.43 L522.86 91.55 L523.00 90.51 L523.15 89.38 L523.29 88.24 L523.44 87.12 L523.59 86.07 L523.73 85.12 L523.88 84.29 L524.02 83.59 L524.17 83.04 L524.32 82.64 L524.46 82.41 L524.61 82.34 L524.75 82.45 L524.90 82.75 L525.05 83.25 L525.19 83.96 L525.34 84.91 L525.48 86.11 L525.63 87.61 L525.77 89.45 L525.92 91.72 L526.07 94.52 L526.21 98.06 L526.36 102.73 L526.50 109.51 L526.65 122.20 L526.80 132.28 L526.94 115.52 L527.09 109.68 L527.23 106.67 L527.38 105.12 L527.53 104.55 L527.67 104.74 L527.82 105.62 L527.96 107.18 L528.11 109.46 L528.26 112.57 L528.40 116.70 L528.55 122.15 L528.69 129.28 L528.84 137.83 L528.99 142.77 L529.13 136.79 L529.28 127.23 L529.42 119.05 L529.57 112.53 L529.72 107.26 L529.86 102.93 L530.01 99.32 L530.15 96.29 L530.30 93.74 L530.45 91.60 L530.59 89.81 L530.74 88.34 L530.88 87.16 L531.03 86.24 L531.18 85.58 L531.32 85.16 L531.47 84.99 L531.61 85.05 L531.76 85.36 L531.91 85.93 L532.05 86.75 L532.20 87.87 L532.34 89.30 L532.49 91.09 L532.64 93.31 L532.78 96.05 L532.93 99.48 L533.07 103.90 L533.22 109.96 L533.37 119.63 L533.51 154.17 L533.66 125.02 L533.80 117.58 L533.95 114.65 L534.10 113.86 L534.24 114.66 L534.39 117.08 L534.53 121.78 L534.68 131.58 L534.83 151.31 L534.97 127.26 L535.12 120.16 L535.26 116.63 L535.41 115.11 L535.56 115.26 L535.70 117.38 L535.85 123.00 L535.99 144.93 L536.14 124.49 L536.29 112.84 L536.43 106.12 L536.58 101.39 L536.72 97.78 L536.87 94.95 L537.02 92.69 L537.16 90.91 L537.31 89.52 L537.45 88.49 L537.60 87.79 L537.75 87.39 L537.89 87.30 L538.04 87.50 L538.18 88.02 L538.33 88.86 L538.48 90.06 L538.62 91.66 L538.77 93.75 L538.91 96.43 L539.06 99.94 L539.21 104.70 L539.35 111.81 L539.50 126.07 L539.64 129.77 L539.79 115.98 L539.94 110.80 L540.08 108.26 L540.23 107.20 L540.37 107.21 L540.52 108.17 L540.67 110.09 L540.81 113.16 L540.96 117.82 L541.10 125.34 L541.25 141.85 L541.40 140.91 L541.54 130.53 L541.69 128.62 L541.83 132.34 L541.98 160.39 L542.13 128.70 L542.27 116.97 L542.42 109.84 L542.56 104.71 L542.71 100.77 L542.86 97.66 L543.00 95.19 L543.15 93.24 L543.29 91.73 L543.44 90.63 L543.59 89.90 L543.73 89.53 L543.88 89.52 L544.02 89.88 L544.17 90.62 L544.32 91.81 L544.46 93.51 L544.61 95.85 L544.75 99.08 L544.90 103.70 L545.05 111.11 L545.19 129.17 L545.34 121.28 L545.48 110.12 L545.63 105.00 L545.78 102.08 L545.92 100.38 L546.07 99.55 L546.21 99.40 L546.36 99.84 L546.51 100.84 L546.65 102.40 L546.80 104.52 L546.94 107.23 L547.09 110.52 L547.24 114.30 L547.38 118.18 L547.53 121.18 L547.67 121.88 L547.82 119.71 L547.97 115.78 L548.11 111.44 L548.26 107.38 L548.40 103.84 L548.55 100.85 L548.69 98.40 L548.84 96.43 L548.99 94.93 L549.13 93.86 L549.28 93.22 L549.42 93.01 L549.57 93.24 L549.72 93.98 L549.86 95.29 L550.01 97.32 L550.15 100.36 L550.30 105.07 L550.45 113.44 L550.59 151.04 L550.74 115.06 L550.88 106.07 L551.03 101.25 L551.18 98.23 L551.32 96.28 L551.47 95.09 L551.61 94.52 L551.76 94.47 L551.91 94.91 L552.05 95.83 L552.20 97.23 L552.34 99.13 L552.49 101.59 L552.64 104.65 L552.78 108.38 L552.93 112.81 L553.07 117.78 L553.22 122.56 L553.37 125.36 L553.51 124.42 L553.66 120.59 L553.80 115.96 L553.95 111.68 L554.10 108.11 L554.24 105.27 L554.39 103.12 L554.53 101.62 L554.68 100.75 L554.83 100.54 L554.97 101.04 L555.12 102.39 L555.26 104.91 L555.41 109.34 L555.56 118.30 L555.70 143.81 L555.85 114.30 L555.99 105.90 L556.14 100.99 L556.29 97.71 L556.43 95.44 L556.58 93.93 L556.72 93.01 L556.87 92.64 L557.02 92.76 L557.16 93.39 L557.31 94.55 L557.45 96.30 L557.60 98.76 L557.75 102.16 L557.89 106.97 L558.04 114.45 L558.18 130.83 L558.33 128.62 L558.48 117.06 L558.62 112.65 L558.77 110.83 L558.91 110.62 L559.06 111.79 L559.21 114.41 L559.35 119.04 L559.50 127.53 L559.64 158.76 L559.79 132.35 L559.94 124.84 L560.08 122.69 L560.23 124.13 L560.37 131.36 L560.52 147.64 L560.67 122.10 L560.81 112.84 L560.96 106.99 L561.10 102.84 L561.25 99.80 L561.40 97.58 L561.54 96.03 L561.69 95.07 L561.83 94.69 L561.98 94.87 L562.13 95.66 L562.27 97.16 L562.42 99.56 L562.56 103.26 L562.71 109.32 L562.86 122.30 L563.00 126.37 L563.15 111.19 L563.29 105.01 L563.44 101.51 L563.59 99.43 L563.73 98.32 L563.88 97.98 L564.02 98.33 L564.17 99.31 L564.32 100.96 L564.46 103.33 L564.61 106.52 L564.75 110.72 L564.90 116.22 L565.05 123.48 L565.19 132.85 L565.34 141.76 L565.48 139.64 L565.63 130.13 L565.78 121.84 L565.92 115.64 L566.07 111.06 L566.21 107.73 L566.36 105.40 L566.51 103.97 L566.65 103.38 L566.80 103.69 L566.94 105.05 L567.09 107.86 L567.24 113.23 L567.38 126.39 L567.53 126.23 L567.67 111.58 L567.82 104.92 L567.97 100.81 L568.11 98.10 L568.26 96.35 L568.40 95.35 L568.55 95.03 L568.70 95.34 L568.84 96.31 L568.99 98.01 L569.13 100.62 L569.28 104.48 L569.43 110.47 L569.57 121.85 L569.72 137.05 L569.86 117.23 L570.01 111.08 L570.16 108.18 L570.30 107.01 L570.45 107.10 L570.59 108.30 L570.74 110.66 L570.88 114.42 L571.03 120.16 L571.18 129.63 L571.32 154.27 L571.47 143.03 L571.61 140.65 L571.76 175.37 L571.91 132.08 L572.05 120.15 L572.20 112.95 L572.34 107.96 L572.49 104.37 L572.64 101.81 L572.78 100.11 L572.93 99.17 L573.07 98.98 L573.22 99.59 L573.37 101.12 L573.51 103.90 L573.66 108.70 L573.80 118.34 L573.95 139.39 L574.10 114.00 L574.24 106.36 L574.39 102.13 L574.53 99.58 L574.68 98.14 L574.83 97.57 L574.97 97.76 L575.12 98.69 L575.26 100.42 L575.41 103.07 L575.56 106.93 L575.70 112.64 L575.85 122.23 L575.99 159.03 L576.14 127.67 L576.29 121.01 L576.43 119.29 L576.58 120.54 L576.72 125.15 L576.87 138.02 L577.02 138.50 L577.16 124.40 L577.31 118.84 L577.45 116.44 L577.60 116.30 L577.75 118.70 L577.89 125.84 L578.04 157.24 L578.18 121.02 L578.33 111.71 L578.48 106.23 L578.62 102.61 L578.77 100.20 L578.91 98.73 L579.06 98.09 L579.21 98.23 L579.35 99.23 L579.50 101.24 L579.64 104.65 L579.79 110.48 L579.94 123.13 L580.08 128.08 L580.23 112.61 L580.37 106.53 L580.52 103.25 L580.67 101.52 L580.81 100.90 L580.96 101.20 L581.10 102.40 L581.25 104.53 L581.40 107.76 L581.54 112.45 L581.69 119.43 L581.83 131.49 L581.98 159.79 L582.13 136.18 L582.27 135.72 L582.42 150.85 L582.56 136.19 L582.71 123.32 L582.86 116.67 L583.00 112.67 L583.15 110.41 L583.29 109.58 L583.44 110.22 L583.59 112.73 L583.73 118.58 L583.88 137.70 L584.02 123.39 L584.17 111.91 L584.32 106.01 L584.46 102.36 L584.61 100.07 L584.75 98.82 L584.90 98.47 L585.05 99.00 L585.19 100.47 L585.34 103.14 L585.48 107.57 L585.63 115.52 L585.78 142.09 L585.92 120.25 L586.07 111.20 L586.21 107.01 L586.36 104.96 L586.51 104.32 L586.65 104.81 L586.80 106.38 L586.94 109.12 L587.09 113.30 L587.24 119.54 L587.38 129.55 L587.53 153.49 L587.67 147.16 L587.82 150.75 L587.97 144.16 L588.11 127.07 L588.26 118.57 L588.40 113.25 L588.55 109.82 L588.70 107.82 L588.84 107.08 L588.99 107.65 L589.13 109.84 L589.28 114.67 L589.43 126.73 L589.57 129.39 L589.72 113.70 L589.86 107.01 L590.01 103.11 L590.16 100.79 L590.30 99.63 L590.45 99.45 L590.59 100.25 L590.74 102.11 L590.89 105.36 L591.03 110.81 L591.18 121.50 L591.32 139.39 L591.47 117.61 L591.62 111.25 L591.76 108.36 L591.91 107.36 L592.05 107.77 L592.20 109.50 L592.35 112.67 L592.49 117.71 L592.64 125.79 L592.78 141.81 L592.93 150.17 L593.08 143.49 L593.22 200.00 L593.37 132.83 L593.51 121.44 L593.66 114.79 L593.80 110.52 L593.95 107.87 L594.10 106.53 L594.24 106.45 L594.39 107.80 L594.53 111.11 L594.68 118.24 L594.83 148.79 L594.97 119.62 L595.12 110.07 L595.26 105.14 L595.41 102.30 L595.56 100.84 L595.70 100.50 L595.85 101.21 L595.99 103.07 L596.14 106.40 L596.29 112.04 L596.43 123.30 L596.58 137.70 L596.72 118.40 L596.87 112.56 L597.02 110.12 L597.16 109.65 L597.31 110.75 L597.45 113.45 L597.60 118.13 L597.75 126.02 L597.89 142.80 L598.04 146.14 L598.18 139.15 L598.33 150.92 L598.48 137.34 L598.62 123.19 L598.77 115.74 L598.91 111.08 L599.06 108.21 L599.21 106.76 L599.35 106.63 L599.50 107.99 L599.64 111.39 L599.79 118.80 L599.94 156.77 L600.08 119.18 L600.23 110.08 L600.37 105.41 L600.52 102.82 L600.67 101.65 L600.81 101.66 L600.96 102.85 L601.10 105.37 L601.25 109.78 L601.40 117.75 L601.54 142.58 L601.69 124.07 L601.83 115.39 L601.98 111.97 L602.13 111.00 L602.27 111.85 L602.42 114.45 L602.56 119.22 L602.71 127.63 L602.86 148.13 L603.00 142.50 L603.15 137.74 L603.29 149.91 L603.44 136.87 L603.59 122.87 L603.73 115.60 L603.88 111.15 L604.02 108.53 L604.17 107.40 L604.32 107.72 L604.46 109.77 L604.61 114.50 L604.75 126.29 L604.90 130.44 L605.05 114.48 L605.19 108.05 L605.34 104.58 L605.48 102.86 L605.63 102.48 L605.78 103.35 L605.92 105.61 L606.07 109.73 L606.21 117.24 L606.36 138.33 L606.51 125.47 L606.65 116.10 L606.80 112.53 L606.94 111.56 L607.09 112.50 L607.24 115.32 L607.38 120.51 L607.53 129.93 L607.67 159.48 L607.82 140.59 L607.97 138.76 L608.11 164.26 L608.26 132.78 L608.40 121.21 L608.55 114.87 L608.70 111.08 L608.84 109.10 L608.99 108.70 L609.13 110.02 L609.28 113.73 L609.43 122.58 L609.57 143.20 L609.72 117.49 L609.86 109.83 L610.01 105.85 L610.16 103.85 L610.30 103.32 L610.45 104.15 L610.59 106.47 L610.74 110.85 L610.89 119.18 L611.03 152.15 L611.18 123.01 L611.32 115.14 L611.47 112.09 L611.62 111.49 L611.76 112.79 L611.91 116.05 L612.05 121.94 L612.20 132.93 L612.35 171.95 L612.49 139.77 L612.64 141.74 L612.78 154.28 L612.93 128.84 L613.08 119.60 L613.22 114.40 L613.37 111.52 L613.51 110.48 L613.66 111.28 L613.81 114.49 L613.95 122.50 L614.10 152.21 L614.24 119.06 L614.39 110.91 L614.54 106.74 L614.68 104.68 L614.83 104.18 L614.97 105.14 L615.12 107.77 L615.27 112.83 L615.41 123.38 L615.56 140.56 L615.70 119.39 L615.85 113.44 L615.99 111.19 L616.14 111.12 L616.29 112.93 L616.43 116.80 L616.58 123.66 L616.72 137.29 L616.87 151.01 L617.02 138.68 L617.16 144.83 L617.31 144.24 L617.45 126.72 L617.60 119.04 L617.75 114.89 L617.89 113.05 L618.04 113.30 L618.18 116.11 L618.33 123.84 L618.48 153.16 L618.62 120.01 L618.77 111.76 L618.91 107.56 L619.06 105.52 L619.21 105.13 L619.35 106.32 L619.50 109.42 L619.64 115.59 L619.79 131.07 L619.94 128.02 L620.08 116.17 L620.23 111.74 L620.37 110.22 L620.52 110.72 L620.67 113.09 L620.81 117.72 L620.96 125.99 L621.10 145.94 L621.25 141.24 L621.40 135.77 L621.54 143.38 L621.69 143.95 L621.83 127.05 L621.98 120.10 L622.13 116.82 L622.27 116.16 L622.42 118.34 L622.56 125.55 L622.71 156.34 L622.86 121.43 L623.00 112.97 L623.15 108.66 L623.29 106.59 L623.44 106.27 L623.59 107.68 L623.73 111.29 L623.88 118.92 L624.02 149.40 L624.17 122.18 L624.32 113.80 L624.46 110.37 L624.61 109.43 L624.75 110.42 L624.90 113.36 L625.05 118.88 L625.19 129.43"/>
<path stroke="#f00" stroke-width="0.85" d="M407.53 185.88 L407.67 185.04 L407.82 184.21 L407.96 183.37 L408.11 182.54 L408.26 181.71 L408.40 180.88 L408.55 180.06 L408.69 179.24 L408.84 178.41 L408.99 177.59 L409.13 176.78 L409.28 175.96 L409.42 175.15 L409.57 174.34 L409.72 173.53 L409.86 172.72 L410.01 171.92 L410.15 171.11 L410.30 170.31 L410.45 169.51 L410.59 168.72 L410.74 167.92 L410.88 167.13 L411.03 166.34 L411.18 165.55 L411.32 164.77 L411.47 163.98 L411.61 163.20 L411.76 162.42 L411.91 161.65 L412.05 160.87 L412.20 160.10 L412.34 159.33 L412.49 158.56 L412.64 157.79 L412.78 157.03 L412.93 156.27 L413.07 155.51 L413.22 154.75 L413.36 154.00 L413.51 153.25 L413.66 152.50 L413.80 151.75 L413.95 151.01 L414.09 150.26 L414.24 149.52 L414.39 148.79 L414.53 148.05 L414.68 147.32 L414.82 146.59 L414.97 145.86 L415.12 145.13 L415.26 144.41 L415.41 143.69 L415.55 142.97 L415.70 142.26 L415.85 141.54 L415.99 140.83 L416.14 140.12 L416.28 139.42 L416.43 138.72 L416.58 138.02 L416.72 137.32 L416.87 136.62 L417.01 135.93 L417.16 135.24 L417.31 134.55 L417.45 133.87 L417.60 133.18 L417.74 132.50 L417.89 131.83 L418.04 131.15 L418.18 130.48 L418.33 129.81 L418.47 129.15 L418.62 128.48 L418.77 127.82 L418.91 127.17 L419.06 126.51 L419.20 125.86 L419.35 125.21 L419.50 124.56 L419.64 123.92 L419.79 123.28 L419.93 122.64 L420.08 122.00 L420.23 121.37 L420.37 120.74 L420.52 120.12 L420.66 119.49 L420.81 118.87 L420.96 118.26 L421.10 117.64 L421.25 117.03 L421.39 116.42 L421.54 115.82 L421.69 115.21 L421.83 114.61 L421.98 114.02 L422.12 113.42 L422.27 112.83 L422.42 112.25 L422.56 111.66 L422.71 111.08 L422.85 110.51 L423.00 109.93 L423.15 109.36 L423.29 108.79 L423.44 108.23 L423.58 107.67 L423.73 107.11 L423.88 106.56 L424.02 106.01 L424.17 105.46 L424.31 104.91 L424.46 104.37 L424.61 103.84 L424.75 103.30 L424.90 102.77 L425.04 102.24 L425.19 101.72 L425.34 101.20 L425.48 100.68 L425.63 100.17 L425.77 99.66 L425.92 99.16 L426.07 98.65 L426.21 98.16 L426.36 97.66 L426.50 97.17 L426.65 96.68 L426.80 96.20 L426.94 95.72 L427.09 95.25 L427.23 94.77 L427.38 94.31 L427.53 93.84 L427.67 93.38 L427.82 92.93 L427.96 92.47 L428.11 92.03 L428.26 91.58 L428.40 91.14 L428.55 90.71 L428.69 90.27 L428.84 89.85 L428.99 89.42 L429.13 89.00 L429.28 88.59 L429.42 88.18 L429.57 87.77 L429.72 87.37 L429.86 86.97 L430.01 86.58 L430.15 86.19 L430.30 85.80 L430.45 85.42 L430.59 85.05 L430.74 84.68 L430.88 84.31 L431.03 83.95 L431.18 83.59 L431.32 83.24 L431.47 82.89 L431.61 82.55 L431.76 82.21 L431.91 81.88 L432.05 81.55 L432.20 81.23 L432.34 80.91 L432.49 80.60 L432.64 80.29 L432.78 79.98 L432.93 79.69 L433.07 79.39 L433.22 79.11 L433.37 78.82 L433.51 78.55 L433.66 78.27 L433.80 78.01 L433.95 77.75 L434.10 77.49 L434.24 77.24 L434.39 77.00 L434.53 76.76 L434.68 76.53 L434.83 76.30 L434.97 76.08 L435.12 75.86 L435.26 75.65 L435.41 75.45 L435.55 75.25 L435.70 75.06 L435.85 74.87 L435.99 74.70 L436.14 74.52 L436.28 74.36 L436.43 74.20 L436.58 74.04 L436.72 73.89 L436.87 73.75 L437.01 73.62 L437.16 73.49 L437.31 73.37 L437.45 73.25 L437.60 73.15 L437.74 73.05 L437.89 72.95 L438.04 72.86 L438.18 72.78 L438.33 72.71 L438.47 72.65 L438.62 72.59 L438.77 72.54 L438.91 72.49 L439.06 72.45 L439.20 72.42 L439.35 72.40 L439.50 72.39 L439.64 72.38 L439.79 72.38 L439.93 72.39 L440.08 72.41 L440.23 72.43 L440.37 72.46 L440.52 72.50 L440.66 72.55 L440.81 72.60 L440.96 72.66 L441.10 72.73 L441.25 72.81 L441.39 72.90 L441.54 72.99 L441.69 73.09 L441.83 73.20 L441.98 73.32 L442.12 73.44 L442.27 73.57 L442.42 73.71 L442.56 73.86 L442.71 74.01 L442.85 74.17 L443.00 74.34 L443.15 74.51 L443.29 74.69 L443.44 74.87 L443.58 75.06 L443.73 75.26 L443.88 75.46 L444.02 75.66 L444.17 75.87 L444.31 76.09 L444.46 76.30 L444.61 76.52 L444.75 76.74 L444.90 76.96 L445.04 77.18 L445.19 77.40 L445.34 77.62 L445.48 77.84 L445.63 78.06 L445.77 78.27 L445.92 78.47 L446.07 78.67 L446.21 78.87 L446.36 79.05 L446.50 79.23 L446.65 79.39 L446.80 79.55 L446.94 79.69 L447.09 79.83 L447.23 79.94 L447.38 80.05 L447.53 80.13 L447.67 80.21 L447.82 80.26 L447.96 80.30 L448.11 80.32 L448.26 80.33 L448.40 80.32 L448.55 80.29 L448.69 80.24 L448.84 80.18 L448.99 80.11 L449.13 80.02 L449.28 79.92 L449.42 79.80 L449.57 79.67 L449.72 79.53 L449.86 79.38 L450.01 79.22 L450.15 79.06 L450.30 78.89 L450.45 78.71 L450.59 78.53 L450.74 78.35 L450.88 78.16 L451.03 77.97 L451.18 77.79 L451.32 77.61 L451.47 77.43 L451.61 77.25 L451.76 77.07 L451.91 76.91 L452.05 76.75 L452.20 76.59 L452.34 76.44 L452.49 76.30 L452.64 76.17 L452.78 76.05 L452.93 75.94 L453.07 75.84 L453.22 75.75 L453.37 75.67 L453.51 75.60 L453.66 75.54 L453.80 75.50 L453.95 75.47 L454.10 75.45 L454.24 75.44 L454.39 75.45 L454.53 75.46 L454.68 75.50 L454.83 75.54 L454.97 75.60 L455.12 75.67 L455.26 75.75 L455.41 75.85 L455.56 75.95 L455.70 76.07 L455.85 76.20 L455.99 76.35 L456.14 76.50 L456.29 76.67 L456.43 76.84 L456.58 77.02 L456.72 77.21 L456.87 77.41 L457.02 77.62 L457.16 77.83 L457.31 78.05 L457.45 78.27 L457.60 78.49 L457.75 78.71 L457.89 78.93 L458.04 79.15 L458.18 79.37 L458.33 79.58 L458.47 79.78 L458.62 79.98 L458.77 80.16 L458.91 80.33 L459.06 80.49 L459.20 80.63 L459.35 80.75 L459.50 80.86 L459.64 80.94 L459.79 81.01 L459.93 81.06 L460.08 81.08 L460.23 81.08 L460.37 81.06 L460.52 81.02 L460.66 80.96 L460.81 80.88 L460.96 80.78 L461.10 80.67 L461.25 80.54 L461.39 80.39 L461.54 80.24 L461.69 80.07 L461.83 79.90 L461.98 79.72 L462.12 79.53 L462.27 79.34 L462.42 79.15 L462.56 78.97 L462.71 78.78 L462.85 78.60 L463.00 78.43 L463.15 78.26 L463.29 78.10 L463.44 77.95 L463.58 77.81 L463.73 77.68 L463.88 77.57 L464.02 77.47 L464.17 77.38 L464.31 77.31 L464.46 77.26 L464.61 77.22 L464.75 77.20 L464.90 77.19 L465.04 77.20 L465.19 77.23 L465.34 77.27 L465.48 77.34 L465.63 77.41 L465.77 77.51 L465.92 77.62 L466.07 77.75 L466.21 77.89 L466.36 78.05 L466.50 78.22 L466.65 78.40 L466.80 78.59 L466.94 78.80 L467.09 79.01 L467.23 79.23 L467.38 79.46 L467.53 79.69 L467.67 79.92 L467.82 80.15 L467.96 80.38 L468.11 80.60 L468.26 80.81 L468.40 81.02 L468.55 81.21 L468.69 81.39 L468.84 81.55 L468.99 81.69 L469.13 81.81 L469.28 81.91 L469.42 81.98 L469.57 82.02 L469.72 82.04 L469.86 82.04 L470.01 82.01 L470.15 81.95 L470.30 81.87 L470.45 81.77 L470.59 81.65 L470.74 81.50 L470.88 81.35 L471.03 81.18 L471.18 81.00 L471.32 80.81 L471.47 80.61 L471.61 80.41 L471.76 80.22 L471.91 80.02 L472.05 79.83 L472.20 79.65 L472.34 79.47 L472.49 79.31 L472.64 79.16 L472.78 79.02 L472.93 78.90 L473.07 78.79 L473.22 78.70 L473.37 78.63 L473.51 78.58 L473.66 78.55 L473.80 78.55 L473.95 78.56 L474.10 78.59 L474.24 78.64 L474.39 78.72 L474.53 78.81 L474.68 78.93 L474.83 79.06 L474.97 79.21 L475.12 79.38 L475.26 79.56 L475.41 79.76 L475.56 79.98 L475.70 80.20 L475.85 80.43 L475.99 80.67 L476.14 80.91 L476.29 81.15 L476.43 81.39 L476.58 81.63 L476.72 81.85 L476.87 82.07 L477.02 82.26 L477.16 82.44 L477.31 82.60 L477.45 82.74 L477.60 82.84 L477.75 82.92 L477.89 82.97 L478.04 82.99 L478.18 82.98 L478.33 82.93 L478.48 82.86 L478.62 82.76 L478.77 82.64 L478.91 82.50 L479.06 82.33 L479.21 82.15 L479.35 81.96 L479.50 81.76 L479.64 81.55 L479.79 81.34 L479.94 81.13 L480.08 80.93 L480.23 80.73 L480.37 80.55 L480.52 80.38 L480.66 80.22 L480.81 80.08 L480.96 79.96 L481.10 79.86 L481.25 79.79 L481.39 79.73 L481.54 79.70 L481.69 79.69 L481.83 79.71 L481.98 79.76 L482.12 79.82 L482.27 79.91 L482.42 80.03 L482.56 80.17 L482.71 80.33 L482.85 80.51 L483.00 80.71 L483.15 80.92 L483.29 81.15 L483.44 81.39 L483.58 81.64 L483.73 81.89 L483.88 82.14 L484.02 82.40 L484.17 82.64 L484.31 82.87 L484.46 83.09 L484.61 83.29 L484.75 83.47 L484.90 83.61 L485.04 83.73 L485.19 83.82 L485.34 83.87 L485.48 83.89 L485.63 83.87 L485.77 83.81 L485.92 83.73 L486.07 83.61 L486.21 83.47 L486.36 83.30 L486.50 83.11 L486.65 82.91 L486.80 82.70 L486.94 82.48 L487.09 82.26 L487.23 82.04 L487.38 81.83 L487.53 81.62 L487.67 81.44 L487.82 81.26 L487.96 81.11 L488.11 80.98 L488.26 80.88 L488.40 80.79 L488.55 80.74 L488.69 80.71 L488.84 80.71 L488.99 80.74 L489.13 80.80 L489.28 80.89 L489.42 81.00 L489.57 81.15 L489.72 81.31 L489.86 81.50 L490.01 81.71 L490.15 81.94 L490.30 82.18 L490.45 82.44 L490.59 82.70 L490.74 82.97 L490.88 83.24 L491.03 83.49 L491.18 83.74 L491.32 83.97 L491.47 84.18 L491.61 84.36 L491.76 84.51 L491.91 84.62 L492.05 84.70 L492.20 84.73 L492.34 84.73 L492.49 84.69 L492.64 84.61 L492.78 84.49 L492.93 84.34 L493.07 84.16 L493.22 83.97 L493.37 83.75 L493.51 83.53 L493.66 83.29 L493.80 83.06 L493.95 82.83 L494.10 82.62 L494.24 82.41 L494.39 82.22 L494.53 82.06 L494.68 81.92 L494.83 81.81 L494.97 81.72 L495.12 81.67 L495.26 81.64 L495.41 81.65 L495.56 81.70 L495.70 81.77 L495.85 81.88 L495.99 82.02 L496.14 82.18 L496.29 82.38 L496.43 82.60 L496.58 82.84 L496.72 83.10 L496.87 83.37 L497.02 83.65 L497.16 83.93 L497.31 84.21 L497.45 84.47 L497.60 84.73 L497.75 84.96 L497.89 85.16 L498.04 85.33 L498.18 85.46 L498.33 85.55 L498.48 85.59 L498.62 85.59 L498.77 85.54 L498.91 85.45 L499.06 85.32 L499.21 85.16 L499.35 84.97 L499.50 84.76 L499.64 84.53 L499.79 84.29 L499.94 84.04 L500.08 83.80 L500.23 83.57 L500.37 83.36 L500.52 83.16 L500.67 82.99 L500.81 82.85 L500.96 82.74 L501.10 82.66 L501.25 82.62 L501.40 82.61 L501.54 82.64 L501.69 82.71 L501.83 82.82 L501.98 82.96 L502.13 83.14 L502.27 83.35 L502.42 83.59 L502.56 83.85 L502.71 84.13 L502.86 84.43 L503.00 84.74 L503.15 85.05 L503.29 85.36 L503.44 85.66 L503.58 85.94 L503.73 86.18 L503.88 86.40 L504.02 86.57 L504.17 86.70 L504.31 86.78 L504.46 86.81 L504.61 86.78 L504.75 86.71 L504.90 86.59 L505.04 86.43 L505.19 86.24 L505.34 86.03 L505.48 85.80 L505.63 85.56 L505.77 85.32 L505.92 85.08 L506.07 84.87 L506.21 84.67 L506.36 84.50 L506.50 84.36 L506.65 84.26 L506.80 84.19 L506.94 84.17 L507.09 84.20 L507.23 84.26 L507.38 84.38 L507.53 84.54 L507.67 84.75 L507.82 85.00 L507.96 85.29 L508.11 85.62 L508.26 85.98 L508.40 86.37 L508.55 86.78 L508.69 87.20 L508.84 87.62 L508.99 88.04 L509.13 88.45 L509.28 88.82 L509.42 89.16 L509.57 89.46 L509.72 89.70 L509.86 89.87 L510.01 89.99 L510.15 90.03 L510.30 90.02 L510.45 89.94 L510.59 89.82 L510.74 89.66 L510.88 89.47 L511.03 89.26 L511.18 89.04 L511.32 88.84 L511.47 88.65 L511.61 88.48 L511.76 88.35 L511.91 88.27 L512.05 88.24 L512.20 88.26 L512.34 88.35 L512.49 88.51 L512.64 88.73 L512.78 89.03 L512.93 89.41 L513.07 89.86 L513.22 90.39 L513.37 91.00 L513.51 91.69 L513.66 92.45 L513.80 93.27 L513.95 94.16 L514.10 95.11 L514.24 96.09 L514.39 97.09 L514.53 98.10 L514.68 99.08 L514.83 100.00 L514.97 100.85 L515.12 101.58 L515.26 102.17 L515.41 102.60 L515.56 102.87 L515.70 102.98 L515.85 102.96 L515.99 102.82 L516.14 102.60 L516.29 102.34 L516.43 102.07 L516.58 101.83 L516.72 101.64 L516.87 101.55 L517.02 101.56 L517.16 101.71 L517.31 102.02 L517.45 102.52 L517.60 103.24 L517.75 104.22 L517.89 105.52 L518.04 107.23 L518.18 109.47 L518.33 112.48 L518.48 116.75 L518.62 123.58 L518.77 139.71 L518.91 134.51 L519.06 121.97 L519.21 115.92 L519.35 112.04 L519.50 109.28 L519.64 107.25 L519.79 105.74 L519.94 104.63 L520.08 103.85 L520.23 103.34 L520.37 103.08 L520.52 103.04 L520.67 103.19 L520.81 103.53 L520.96 104.03 L521.10 104.67 L521.25 105.43 L521.40 106.28 L521.54 107.18 L521.69 108.08 L521.83 108.91 L521.98 109.61 L522.13 110.11 L522.27 110.34 L522.42 110.26 L522.56 109.88 L522.71 109.21 L522.86 108.32 L523.00 107.28 L523.15 106.15 L523.29 105.00 L523.44 103.88 L523.59 102.83 L523.73 101.87 L523.88 101.04 L524.02 100.33 L524.17 99.78 L524.32 99.37 L524.46 99.13 L524.61 99.06 L524.75 99.17 L524.90 99.47 L525.05 99.96 L525.19 100.67 L525.34 101.61 L525.48 102.81 L525.63 104.31 L525.77 106.15 L525.92 108.40 L526.07 111.20 L526.21 114.74 L526.36 119.41 L526.50 126.19 L526.65 138.86 L526.80 148.94 L526.94 132.18 L527.09 126.33 L527.23 123.32 L527.38 121.77 L527.53 121.19 L527.67 121.38 L527.82 122.26 L527.96 123.81 L528.11 126.09 L528.26 129.19 L528.40 133.32 L528.55 138.76 L528.69 145.89 L528.84 154.43 L528.99 159.38 L529.13 153.39 L529.28 143.82 L529.42 135.64 L529.57 129.11 L529.72 123.84 L529.86 119.50 L530.01 115.89 L530.15 112.86 L530.30 110.31 L530.45 108.16 L530.59 106.37 L530.74 104.89 L530.88 103.70 L531.03 102.78 L531.18 102.12 L531.32 101.70 L531.47 101.52 L531.61 101.58 L531.76 101.89 L531.91 102.44 L532.05 103.27 L532.20 104.38 L532.34 105.80 L532.49 107.59 L532.64 109.81 L532.78 112.54 L532.93 115.97 L533.07 120.39 L533.22 126.44 L533.37 136.10 L533.51 170.64 L533.66 141.48 L533.80 134.04 L533.95 131.11 L534.10 130.32 L534.24 131.11 L534.39 133.52 L534.53 138.22 L534.68 148.01 L534.83 167.74 L534.97 143.69 L535.12 136.58 L535.26 133.05 L535.41 131.52 L535.56 131.66 L535.70 133.78 L535.85 139.40 L535.99 161.32 L536.14 140.88 L536.29 129.22 L536.43 122.50 L536.58 117.76 L536.72 114.15 L536.87 111.31 L537.02 109.05 L537.16 107.27 L537.31 105.88 L537.45 104.84 L537.60 104.13 L537.75 103.73 L537.89 103.63 L538.04 103.83 L538.18 104.34 L538.33 105.18 L538.48 106.38 L538.62 107.98 L538.77 110.05 L538.91 112.74 L539.06 116.24 L539.21 120.99 L539.35 128.10 L539.50 142.35 L539.64 146.05 L539.79 132.26 L539.94 127.07 L540.08 124.53 L540.23 123.46 L540.37 123.47 L540.52 124.42 L540.67 126.34 L540.81 129.40 L540.96 134.06 L541.10 141.58 L541.25 158.08 L541.40 157.13 L541.54 146.75 L541.69 144.84 L541.83 148.55 L541.98 176.59 L542.13 144.90 L542.27 133.16 L542.42 126.04 L542.56 120.90 L542.71 116.96 L542.86 113.84 L543.00 111.36 L543.15 109.41 L543.29 107.90 L543.44 106.79 L543.59 106.06 L543.73 105.68 L543.88 105.67 L544.02 106.02 L544.17 106.76 L544.32 107.94 L544.46 109.63 L544.61 111.97 L544.75 115.20 L544.90 119.81 L545.05 127.21 L545.19 145.28 L545.34 137.38 L545.48 126.21 L545.63 121.09 L545.78 118.16 L545.92 116.46 L546.07 115.62 L546.21 115.46 L546.36 115.90 L546.51 116.90 L546.65 118.45 L546.80 120.57 L546.94 123.27 L547.09 126.56 L547.24 130.33 L547.38 134.20 L547.53 137.21 L547.67 137.90 L547.82 135.72 L547.97 131.79 L548.11 127.44 L548.26 123.38 L548.40 119.83 L548.55 116.84 L548.69 114.38 L548.84 112.41 L548.99 110.90 L549.13 109.83 L549.28 109.18 L549.42 108.97 L549.57 109.20 L549.72 109.93 L549.86 111.23 L550.01 113.26 L550.15 116.30 L550.30 121.00 L550.45 129.37 L550.59 166.96 L550.74 130.97 L550.88 121.98 L551.03 117.16 L551.18 114.13 L551.32 112.17 L551.47 110.98 L551.61 110.40 L551.76 110.35 L551.91 110.79 L552.05 111.70 L552.20 113.09 L552.34 114.99 L552.49 117.44 L552.64 120.50 L552.78 124.23 L552.93 128.65 L553.07 133.61 L553.22 138.39 L553.37 141.19 L553.51 140.24 L553.66 136.40 L553.80 131.76 L553.95 127.49 L554.10 123.91 L554.24 121.06 L554.39 118.90 L554.53 117.40 L554.68 116.53 L554.83 116.31 L554.97 116.80 L555.12 118.15 L555.26 120.66 L555.41 125.09 L555.56 134.04 L555.70 159.55 L555.85 130.04 L555.99 121.63 L556.14 116.71 L556.29 113.43 L556.43 111.16 L556.58 109.63 L556.72 108.72 L556.87 108.34 L557.02 108.46 L557.16 109.08 L557.31 110.23 L557.45 111.98 L557.60 114.43 L557.75 117.83 L557.89 122.64 L558.04 130.11 L558.18 146.48 L558.33 144.26 L558.48 132.70 L558.62 128.28 L558.77 126.46 L558.91 126.25 L559.06 127.41 L559.21 130.03 L559.35 134.65 L559.50 143.14 L559.64 174.36 L559.79 147.94 L559.94 140.43 L560.08 138.27 L560.23 139.71 L560.37 146.93 L560.52 163.20 L560.67 137.66 L560.81 128.39 L560.96 122.54 L561.10 118.39 L561.25 115.34 L561.40 113.11 L561.54 111.55 L561.69 110.60 L561.83 110.21 L561.98 110.38 L562.13 111.17 L562.27 112.66 L562.42 115.05 L562.56 118.75 L562.71 124.80 L562.86 137.78 L563.00 141.85 L563.15 126.66 L563.29 120.48 L563.44 116.96 L563.59 114.88 L563.73 113.76 L563.88 113.42 L564.02 113.76 L564.17 114.74 L564.32 116.38 L564.46 118.74 L564.61 121.93 L564.75 126.12 L564.90 131.62 L565.05 138.88 L565.19 148.24 L565.34 157.15 L565.48 155.02 L565.63 145.50 L565.78 137.21 L565.92 131.00 L566.07 126.42 L566.21 123.08 L566.36 120.75 L566.51 119.31 L566.65 118.72 L566.80 119.02 L566.94 120.37 L567.09 123.17 L567.24 128.54 L567.38 141.70 L567.53 141.53 L567.67 126.87 L567.82 120.21 L567.97 116.09 L568.11 113.37 L568.26 111.62 L568.40 110.62 L568.55 110.29 L568.70 110.59 L568.84 111.56 L568.99 113.25 L569.13 115.85 L569.28 119.71 L569.43 125.70 L569.57 137.07 L569.72 152.26 L569.86 132.44 L570.01 126.29 L570.16 123.38 L570.30 122.20 L570.45 122.28 L570.59 123.48 L570.74 125.83 L570.88 129.58 L571.03 135.33 L571.18 144.79 L571.32 169.42 L571.47 158.18 L571.61 155.78 L571.76 190.50 L571.91 147.21 L572.05 135.27 L572.20 128.06 L572.34 123.07 L572.49 119.47 L572.64 116.91 L572.78 115.20 L572.93 114.26 L573.07 114.06 L573.22 114.66 L573.37 116.19 L573.51 118.96 L573.66 123.76 L573.80 133.39 L573.95 154.43 L574.10 129.04 L574.24 121.39 L574.39 117.15 L574.53 114.60 L574.68 113.15 L574.83 112.57 L574.97 112.76 L575.12 113.69 L575.26 115.41 L575.41 118.05 L575.56 121.91 L575.70 127.62 L575.85 137.20 L575.99 173.99 L576.14 142.62 L576.29 135.95 L576.43 134.23 L576.58 135.47 L576.72 140.08 L576.87 152.94 L577.02 153.42 L577.16 139.31 L577.31 133.75 L577.45 131.34 L577.60 131.19 L577.75 133.59 L577.89 140.73 L578.04 172.12 L578.18 135.89 L578.33 126.57 L578.48 121.09 L578.62 117.46 L578.77 115.05 L578.91 113.57 L579.06 112.92 L579.21 113.06 L579.35 114.05 L579.50 116.05 L579.64 119.46 L579.79 125.28 L579.94 137.92 L580.08 142.87 L580.23 127.39 L580.37 121.30 L580.52 118.02 L580.67 116.28 L580.81 115.65 L580.96 115.96 L581.10 117.14 L581.25 119.27 L581.40 122.50 L581.54 127.18 L581.69 134.15 L581.83 146.21 L581.98 174.50 L582.13 150.88 L582.27 150.42 L582.42 165.54 L582.56 150.87 L582.71 138.00 L582.86 131.34 L583.00 127.34 L583.15 125.06 L583.29 124.23 L583.44 124.87 L583.59 127.37 L583.73 133.21 L583.88 152.33 L584.02 138.01 L584.17 126.53 L584.32 120.62 L584.46 116.96 L584.61 114.67 L584.75 113.41 L584.90 113.06 L585.05 113.57 L585.19 115.04 L585.34 117.71 L585.48 122.13 L585.63 130.07 L585.78 156.63 L585.92 134.79 L586.07 125.73 L586.21 121.53 L586.36 119.48 L586.51 118.83 L586.65 119.32 L586.80 120.88 L586.94 123.62 L587.09 127.79 L587.24 134.02 L587.38 144.03 L587.53 167.96 L587.67 161.62 L587.82 165.20 L587.97 158.61 L588.11 141.51 L588.26 133.01 L588.40 127.68 L588.55 124.24 L588.70 122.24 L588.84 121.49 L588.99 122.05 L589.13 124.24 L589.28 129.06 L589.43 141.11 L589.57 143.77 L589.72 128.08 L589.86 121.37 L590.01 117.47 L590.16 115.14 L590.30 113.97 L590.45 113.79 L590.59 114.58 L590.74 116.44 L590.89 119.68 L591.03 125.13 L591.18 135.80 L591.32 153.69 L591.47 131.90 L591.62 125.54 L591.76 122.64 L591.91 121.63 L592.05 122.04 L592.20 123.76 L592.35 126.92 L592.49 131.95 L592.64 140.03 L592.78 156.05 L592.93 164.39 L593.08 157.71 L593.22 200.00 L593.37 147.03 L593.51 135.64 L593.66 128.99 L593.80 124.71 L593.95 122.05 L594.10 120.70 L594.24 120.62 L594.39 121.96 L594.53 125.26 L594.68 132.38 L594.83 162.93 L594.97 133.75 L595.12 124.20 L595.26 119.26 L595.41 116.41 L595.56 114.94 L595.70 114.59 L595.85 115.30 L595.99 117.16 L596.14 120.47 L596.29 126.11 L596.43 137.37 L596.58 151.76 L596.72 132.45 L596.87 126.60 L597.02 124.16 L597.16 123.68 L597.31 124.78 L597.45 127.47 L597.60 132.14 L597.75 140.02 L597.89 156.80 L598.04 160.13 L598.18 153.13 L598.33 164.90 L598.48 151.31 L598.62 137.15 L598.77 129.69 L598.91 125.03 L599.06 122.16 L599.21 120.70 L599.35 120.56 L599.50 121.91 L599.64 125.30 L599.79 132.71 L599.94 170.67 L600.08 133.08 L600.23 123.97 L600.37 119.29 L600.52 116.69 L600.67 115.52 L600.81 115.52 L600.96 116.70 L601.10 119.22 L601.25 123.62 L601.40 131.58 L601.54 156.40 L601.69 137.89 L601.83 129.20 L601.98 125.77 L602.13 124.80 L602.27 125.64 L602.42 128.23 L602.56 133.00 L602.71 141.40 L602.86 161.89 L603.00 156.26 L603.15 151.49 L603.29 163.66 L603.44 150.60 L603.59 136.60 L603.73 129.32 L603.88 124.86 L604.02 122.24 L604.17 121.10 L604.32 121.41 L604.46 123.46 L604.61 128.18 L604.75 139.96 L604.90 144.11 L605.05 128.14 L605.19 121.70 L605.34 118.23 L605.48 116.49 L605.63 116.11 L605.78 116.97 L605.92 119.22 L606.07 123.34 L606.21 130.84 L606.36 151.93 L606.51 139.06 L606.65 129.68 L606.80 126.10 L606.94 125.13 L607.09 126.06 L607.24 128.87 L607.38 134.06 L607.53 143.47 L607.67 173.01 L607.82 154.11 L607.97 152.27 L608.11 177.77 L608.26 146.29 L608.40 134.70 L608.55 128.36 L608.70 124.56 L608.84 122.57 L608.99 122.17 L609.13 123.48 L609.28 127.18 L609.43 136.03 L609.57 156.64 L609.72 130.92 L609.86 123.25 L610.01 119.27 L610.16 117.26 L610.30 116.72 L610.45 117.54 L610.59 119.86 L610.74 124.23 L610.89 132.55 L611.03 165.51 L611.18 136.37 L611.32 128.49 L611.47 125.44 L611.62 124.83 L611.76 126.12 L611.91 129.38 L612.05 135.25 L612.20 146.24 L612.35 185.25 L612.49 153.07 L612.64 155.03 L612.78 167.56 L612.93 142.11 L613.08 132.87 L613.22 127.65 L613.37 124.77 L613.51 123.72 L613.66 124.51 L613.81 127.71 L613.95 135.72 L614.10 165.42 L614.24 132.27 L614.39 124.11 L614.54 119.94 L614.68 117.86 L614.83 117.36 L614.97 118.31 L615.12 120.93 L615.27 125.99 L615.41 136.53 L615.56 153.70 L615.70 132.52 L615.85 126.57 L615.99 124.31 L616.14 124.24 L616.29 126.03 L616.43 129.90 L616.58 136.75 L616.72 150.37 L616.87 164.08 L617.02 151.75 L617.16 157.89 L617.31 157.29 L617.45 139.76 L617.60 132.08 L617.75 127.92 L617.89 126.07 L618.04 126.31 L618.18 129.12 L618.33 136.83 L618.48 166.15 L618.62 132.99 L618.77 124.74 L618.91 120.53 L619.06 118.49 L619.21 118.09 L619.35 119.27 L619.50 122.36 L619.64 128.52 L619.79 144.00 L619.94 140.94 L620.08 129.08 L620.23 124.64 L620.37 123.12 L620.52 123.61 L620.67 125.97 L620.81 130.59 L620.96 138.85 L621.10 158.80 L621.25 154.09 L621.40 148.61 L621.54 156.21 L621.69 156.77 L621.83 139.87 L621.98 132.92 L622.13 129.62 L622.27 128.96 L622.42 131.13 L622.56 138.33 L622.71 169.11 L622.86 134.20 L623.00 125.73 L623.15 121.41 L623.29 119.34 L623.44 119.01 L623.59 120.41 L623.73 124.01 L623.88 131.63 L624.02 162.11 L624.17 134.88 L624.32 126.49 L624.46 123.05 L624.61 122.11 L624.75 123.09 L624.90 126.02 L625.05 131.54 L625.19 142.07"/>
</g>
<g stroke="#000" stroke-width="1.00" fill="none">
<rect x="52.20" y="28.70" width="232.20" height="185.80" fill="none"/>
<line x1="52.20" y1="36.00" x2="59.70" y2="36.00"/>
<line x1="276.90" y1="36.00" x2="284.40" y2="36.00"/>
<line x1="52.20" y1="50.88" x2="59.70" y2="50.88"/>
<line x1="276.90" y1="50.88" x2="284.40" y2="50.88"/>
<line x1="52.20" y1="65.75" x2="59.70" y2="65.75"/>
<line x1="276.90" y1="65.75" x2="284.40" y2="65.75"/>
<line x1="52.20" y1="80.62" x2="59.70" y2="80.62"/>
<line x1="276.90" y1="80.62" x2="284.40" y2="80.62"/>
<line x1="52.20" y1="95.50" x2="59.70" y2="95.50"/>
<line x1="276.90" y1="95.50" x2="284.40" y2="95.50"/>
<line x1="52.20" y1="110.38" x2="59.70" y2="110.38"/>
<line x1="276.90" y1="110.38" x2="284.40" y2="110.38"/>
<line x1="52.20" y1="125.25" x2="59.70" y2="125.25"/>
<line x1="276.90" y1="125.25" x2="284.40" y2="125.25"/>
<line x1="52.20" y1="140.12" x2="59.70" y2="140.12"/>
<line x1="276.90" y1="140.12" x2="284.40" y2="140.12"/>
<line x1="52.20" y1="155.00" x2="59.70" y2="155.00"/>
<line x1="276.90" y1="155.00" x2="284.40" y2="155.00"/>
<line x1="52.20" y1="169.88" x2="59.70" y2="169.88"/>
<line x1="276.90" y1="169.88" x2="284.40" y2="169.88"/>
<line x1="52.20" y1="184.75" x2="59.70" y2="184.75"/>
<line x1="276.90" y1="184.75" x2="284.40" y2="184.75"/>
<line x1="52.20" y1="199.62" x2="59.70" y2="199.62"/>
<line x1="276.90" y1="199.62" x2="284.40" y2="199.62"/>
<line x1="52.20" y1="214.50" x2="59.70" y2="214.50"/>
<line x1="276.90" y1="214.50" x2="284.40" y2="214.50"/>
<line x1="99.60" y1="214.50" x2="99.60" y2="207.00"/>
<line x1="99.60" y1="28.70" x2="99.60" y2="36.20"/>
<line x1="237.60" y1="214.50" x2="237.60" y2="207.00"/>
<line x1="237.60" y1="28.70" x2="237.60" y2="36.20"/>
<line x1="58.06" y1="214.50" x2="58.06" y2="210.50"/>
<line x1="58.06" y1="28.70" x2="58.06" y2="32.70"/>
<line x1="68.98" y1="214.50" x2="68.98" y2="210.50"/>
<line x1="68.98" y1="28.70" x2="68.98" y2="32.70"/>
<line x1="78.22" y1="214.50" x2="78.22" y2="210.50"/>
<line x1="78.22" y1="28.70" x2="78.22" y2="32.70"/>
<line x1="86.23" y1="214.50" x2="86.23" y2="210.50"/>
<line x1="86.23" y1="28.70" x2="86.23" y2="32.70"/>
<line x1="93.29" y1="214.50" x2="93.29" y2="210.50"/>
<line x1="93.29" y1="28.70" x2="93.29" y2="32.70"/>
<line x1="141.14" y1="214.50" x2="141.14" y2="210.50"/>
<line x1="141.14" y1="28.70" x2="141.14" y2="32.70"/>
<line x1="165.44" y1="214.50" x2="165.44" y2="210.50"/>
<line x1="165.44" y1="28.70" x2="165.44" y2="32.70"/>
<line x1="182.68" y1="214.50" x2="182.68" y2="210.50"/>
<line x1="182.68" y1="28.70" x2="182.68" y2="32.70"/>
<line x1="196.06" y1="214.50" x2="196.06" y2="210.50"/>
<line x1="196.06" y1="28.70" x2="196.06" y2="32.70"/>
<line x1="206.98" y1="214.50" x2="206.98" y2="210.50"/>
<line x1="206.98" y1="28.70" x2="206.98" y2="32.70"/>
<line x1="216.22" y1="214.50" x2="216.22" y2="210.50"/>
<line x1="216.22" y1="28.70" x2="216.22" y2="32.70"/>
<line x1="224.23" y1="214.50" x2="224.23" y2="210.50"/>
<line x1="224.23" y1="28.70" x2="224.23" y2="32.70"/>
<line x1="231.29" y1="214.50" x2="231.29" y2="210.50"/>
<line x1="231.29" y1="28.70" x2="231.29" y2="32.70"/>
<line x1="279.14" y1="214.50" x2="279.14" y2="210.50"/>
<line x1="279.14" y1="28.70" x2="279.14" y2="32.70"/>
<rect x="407.50" y="29.00" width="232.00" height="185.20" fill="none"/>
<line x1="407.50" y1="36.00" x2="415.00" y2="36.00"/>
<line x1="632.00" y1="36.00" x2="639.50" y2="36.00"/>
<line x1="407.50" y1="50.88" x2="415.00" y2="50.88"/>
<line x1="632.00" y1="50.88" x2="639.50" y2="50.88"/>
<line x1="407.50" y1="65.75" x2="415.00" y2="65.75"/>
<line x1="632.00" y1="65.75" x2="639.50" y2="65.75"/>
<line x1="407.50" y1="80.62" x2="415.00" y2="80.62"/>
<line x1="632.00" y1="80.62" x2="639.50" y2="80.62"/>
<line x1="407.50" y1="95.50" x2="415.00" y2="95.50"/>
<line x1="632.00" y1="95.50" x2="639.50" y2="95.50"/>
<line x1="407.50" y1="110.38" x2="415.00" y2="110.38"/>
<line x1="632.00" y1="110.38" x2="639.50" y2="110.38"/>
<line x1="407.50" y1="125.25" x2="415.00" y2="125.25"/>
<line x1="632.00" y1="125.25" x2="639.50" y2="125.25"/>
<line x1="407.50" y1="140.12" x2="415.00" y2="140.12"/>
<line x1="632.00" y1="140.12" x2="639.50" y2="140.12"/>
<line x1="407.50" y1="155.00" x2="415.00" y2="155.00"/>
<line x1="632.00" y1="155.00" x2="639.50" y2="155.00"/>
<line x1="407.50" y1="169.88" x2="415.00" y2="169.88"/>
<line x1="632.00" y1="169.88" x2="639.50" y2="169.88"/>
<line x1="407.50" y1="184.75" x2="415.00" y2="184.75"/>
<line x1="632.00" y1="184.75" x2="639.50" y2="184.75"/>
<line x1="407.50" y1="199.62" x2="415.00" y2="199.62"/>
<line x1="632.00" y1="199.62" x2="639.50" y2="199.62"/>
<line x1="407.50" y1="214.50" x2="415.00" y2="214.50"/>
<line x1="632.00" y1="214.50" x2="639.50" y2="214.50"/>
<line x1="524.05" y1="214.20" x2="524.05" y2="206.70"/>
<line x1="524.05" y1="29.00" x2="524.05" y2="36.50"/>
<line x1="422.90" y1="214.20" x2="422.90" y2="210.20"/>
<line x1="422.90" y1="29.00" x2="422.90" y2="33.00"/>
<line x1="449.50" y1="214.20" x2="449.50" y2="210.20"/>
<line x1="449.50" y1="29.00" x2="449.50" y2="33.00"/>
<line x1="472.00" y1="214.20" x2="472.00" y2="210.20"/>
<line x1="472.00" y1="29.00" x2="472.00" y2="33.00"/>
<line x1="491.48" y1="214.20" x2="491.48" y2="210.20"/>
<line x1="491.48" y1="29.00" x2="491.48" y2="33.00"/>
<line x1="508.67" y1="214.20" x2="508.67" y2="210.20"/>
<line x1="508.67" y1="29.00" x2="508.67" y2="33.00"/>
<line x1="625.19" y1="214.20" x2="625.19" y2="210.20"/>
<line x1="625.19" y1="29.00" x2="625.19" y2="33.00"/>
</g>
<line x1="230.80" y1="46.60" x2="270.70" y2="46.60" stroke="#000" stroke-width="1.00"/>
<line x1="230.80" y1="56.00" x2="270.70" y2="56.00" stroke="#00f" stroke-width="1.00"/>
<line x1="230.80" y1="65.40" x2="270.70" y2="65.40" stroke="#f00" stroke-width="1.00"/>
<line x1="583.40" y1="47.20" x2="625.90" y2="47.20" stroke="#000" stroke-width="1.00"/>
<line x1="583.40" y1="56.60" x2="625.90" y2="56.60" stroke="#00f" stroke-width="1.00"/>
<line x1="583.40" y1="66.00" x2="625.90" y2="66.00" stroke="#f00" stroke-width="1.00"/>
<g font-family="Liberation Sans, sans-serif" fill="#1a1a1a">
<text x="0" y="0" transform="translate(62.25 12.80) scale(0.820 1)" font-size="16.00" fill="#1a1a1a" text-anchor="start" >N=18</text>
<text x="0" y="0" transform="translate(101.20 12.80) scale(1.000 1)" font-size="16.00" fill="#1a1a1a" text-anchor="start" >calculations</text>
<text x="0" y="0" transform="translate(191.80 12.80) scale(0.960 1)" font-size="16.00" fill="#1a1a1a" text-anchor="start" >for</text>
<text x="0" y="0" transform="translate(217.10 12.80) scale(0.934 1)" font-size="16.00" fill="#1a1a1a" text-anchor="start" >s=60</text>
<text x="0" y="0" transform="translate(255.70 12.80) scale(0.960 1)" font-size="16.00" fill="#1a1a1a" text-anchor="start" >µm</text>
<text x="0" y="0" transform="translate(412.05 12.80) scale(0.860 1)" font-size="16.00" fill="#1a1a1a" text-anchor="start" >N=120</text>
<text x="0" y="0" transform="translate(459.70 12.80) scale(0.995 1)" font-size="16.00" fill="#1a1a1a" text-anchor="start" >calculations</text>
<text x="0" y="0" transform="translate(550.20 12.80) scale(0.970 1)" font-size="16.00" fill="#1a1a1a" text-anchor="start" >for</text>
<text x="0" y="0" transform="translate(575.60 12.80) scale(0.943 1)" font-size="16.00" fill="#1a1a1a" text-anchor="start" >s=60</text>
<text x="0" y="0" transform="translate(614.40 12.80) scale(0.960 1)" font-size="16.00" fill="#1a1a1a" text-anchor="start" >µm</text>
<text x="0" y="0" transform="translate(24.00 41.20) scale(0.750 1)" font-size="15.00" fill="#1a1a1a" text-anchor="start" >10<tspan dx="0.6" dy="-6.6" font-size="9.4">2</tspan></text>
<text x="0" y="0" transform="translate(24.00 70.95) scale(0.750 1)" font-size="15.00" fill="#1a1a1a" text-anchor="start" >10<tspan dx="0.6" dy="-6.6" font-size="9.4">0</tspan></text>
<text x="0" y="0" transform="translate(24.00 100.70) scale(0.750 1)" font-size="15.00" fill="#1a1a1a" text-anchor="start" >10<tspan dx="0.6" dy="-6.6" font-size="9.4">−2</tspan></text>
<text x="0" y="0" transform="translate(24.00 130.45) scale(0.750 1)" font-size="15.00" fill="#1a1a1a" text-anchor="start" >10<tspan dx="0.6" dy="-6.6" font-size="9.4">−4</tspan></text>
<text x="0" y="0" transform="translate(24.00 160.20) scale(0.750 1)" font-size="15.00" fill="#1a1a1a" text-anchor="start" >10<tspan dx="0.6" dy="-6.6" font-size="9.4">−6</tspan></text>
<text x="0" y="0" transform="translate(24.00 189.95) scale(0.750 1)" font-size="15.00" fill="#1a1a1a" text-anchor="start" >10<tspan dx="0.6" dy="-6.6" font-size="9.4">−8</tspan></text>
<text x="0" y="0" transform="translate(24.00 219.70) scale(0.750 1)" font-size="15.00" fill="#1a1a1a" text-anchor="start" >10<tspan dx="0.6" dy="-6.6" font-size="9.4">−10</tspan></text>
<text x="0" y="0" transform="translate(378.90 41.20) scale(0.750 1)" font-size="15.00" fill="#1a1a1a" text-anchor="start" >10<tspan dx="0.6" dy="-6.6" font-size="9.4">2</tspan></text>
<text x="0" y="0" transform="translate(378.90 70.95) scale(0.750 1)" font-size="15.00" fill="#1a1a1a" text-anchor="start" >10<tspan dx="0.6" dy="-6.6" font-size="9.4">0</tspan></text>
<text x="0" y="0" transform="translate(378.90 100.70) scale(0.750 1)" font-size="15.00" fill="#1a1a1a" text-anchor="start" >10<tspan dx="0.6" dy="-6.6" font-size="9.4">−2</tspan></text>
<text x="0" y="0" transform="translate(378.90 130.45) scale(0.750 1)" font-size="15.00" fill="#1a1a1a" text-anchor="start" >10<tspan dx="0.6" dy="-6.6" font-size="9.4">−4</tspan></text>
<text x="0" y="0" transform="translate(378.90 160.20) scale(0.750 1)" font-size="15.00" fill="#1a1a1a" text-anchor="start" >10<tspan dx="0.6" dy="-6.6" font-size="9.4">−6</tspan></text>
<text x="0" y="0" transform="translate(378.90 189.95) scale(0.750 1)" font-size="15.00" fill="#1a1a1a" text-anchor="start" >10<tspan dx="0.6" dy="-6.6" font-size="9.4">−8</tspan></text>
<text x="0" y="0" transform="translate(378.90 219.70) scale(0.750 1)" font-size="15.00" fill="#1a1a1a" text-anchor="start" >10<tspan dx="0.6" dy="-6.6" font-size="9.4">−10</tspan></text>
<text x="0" y="0" transform="translate(98.40 235.60) scale(0.850 1)" font-size="12.50" fill="#1a1a1a" text-anchor="middle" letter-spacing="-1.3">10</text>
<text x="0" y="0" transform="translate(236.70 235.60) scale(0.920 1)" font-size="12.50" fill="#1a1a1a" text-anchor="middle" letter-spacing="-0.8">100</text>
<text x="0" y="0" transform="translate(422.90 235.60) scale(1.070 1)" font-size="12.50" fill="#1a1a1a" text-anchor="middle" letter-spacing="0.0">50</text>
<text x="0" y="0" transform="translate(472.00 235.60) scale(1.020 1)" font-size="12.50" fill="#1a1a1a" text-anchor="middle" letter-spacing="0.0">70</text>
<text x="0" y="0" transform="translate(523.65 235.60) scale(0.920 1)" font-size="12.50" fill="#1a1a1a" text-anchor="middle" letter-spacing="-0.8">100</text>
<text x="0" y="0" transform="translate(625.19 235.60) scale(0.955 1)" font-size="12.50" fill="#1a1a1a" text-anchor="middle" letter-spacing="0.0">200</text>
<text x="0" y="0" transform="translate(141.70 256.20) scale(1.060 1)" font-size="16.00" fill="#1a1a1a" text-anchor="start" >k[1/cm]</text>
<text x="0" y="0" transform="translate(497.10 257.00) scale(1.070 1)" font-size="16.00" fill="#1a1a1a" text-anchor="start" >k[1/cm]</text>
<text x="0" y="0" transform="translate(14.10 185.00) rotate(-90.0) scale(1.000 1)" font-size="15.50" fill="#1a1a1a" text-anchor="start" >K<tspan dy="-6" font-size="10">Y</tspan><tspan dy="6">(18, λ) integrand</tspan></text>
<text x="0" y="0" transform="translate(369.60 188.60) rotate(-90.0) scale(1.000 1)" font-size="15.50" fill="#1a1a1a" text-anchor="start" >K<tspan dy="-6" font-size="10">Y</tspan><tspan dy="6">(120, λ) integrand</tspan></text>
<text x="0" y="0" transform="translate(223.50 49.30) scale(0.988 1)" font-size="11.30" fill="#1a1a1a" text-anchor="end" >Newtonian</text>
<text x="0" y="0" transform="translate(223.50 58.60) scale(1.025 1)" font-size="11.30" fill="#00f" text-anchor="end" >λ = 70 µm</text>
<text x="0" y="0" transform="translate(223.50 67.90) scale(1.025 1)" font-size="11.30" fill="#f00" text-anchor="end" >λ = 30 µm</text>
<text x="0" y="0" transform="translate(579.20 50.60) scale(0.988 1)" font-size="11.30" fill="#1a1a1a" text-anchor="end" >Newtonian</text>
<text x="0" y="0" transform="translate(579.20 59.90) scale(1.025 1)" font-size="11.30" fill="#00f" text-anchor="end" >λ = 70 µm</text>
<text x="0" y="0" transform="translate(579.20 69.20) scale(1.025 1)" font-size="11.30" fill="#f00" text-anchor="end" >λ = 30 µm</text>
</g>
</svg></body></html>
